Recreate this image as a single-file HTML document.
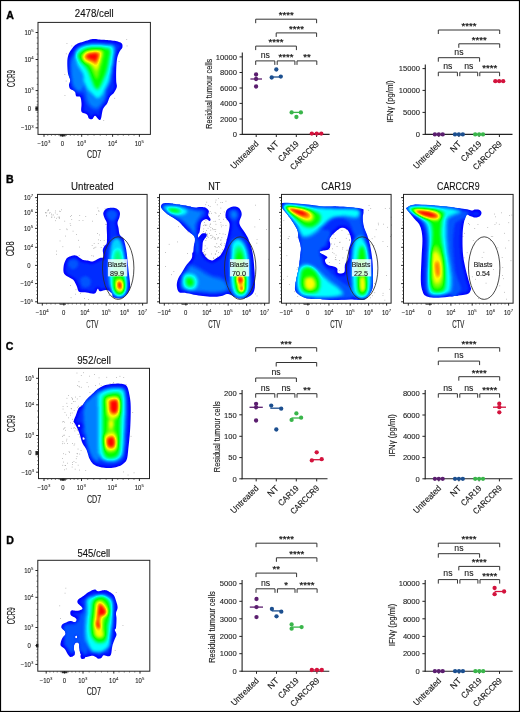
<!DOCTYPE html>
<html><head><meta charset="utf-8"><style>
html,body{margin:0;padding:0;background:#fff;width:520px;height:712px;overflow:hidden;font-family:"Liberation Sans", sans-serif;}
</style></head><body>
<svg width="520" height="712" viewBox="0 0 520 712" style="position:absolute;left:0;top:0;will-change:transform" font-family='"Liberation Sans", sans-serif'>
<rect x="0" y="0" width="520" height="712" fill="#fff"/>
<defs><filter id="fm7" x="-10%" y="-10%" width="120%" height="120%" color-interpolation-filters="sRGB"><feGaussianBlur in="SourceGraphic" stdDeviation="0.7" result="b"/><feComponentTransfer in="b" result="c"><feFuncR type="table" tableValues="0 0 0 1 1"/><feFuncG type="table" tableValues="0 1 1 1 0"/><feFuncB type="table" tableValues="1 1 0 0 0"/><feFuncA type="linear" slope="0" intercept="1"/></feComponentTransfer><feComposite in="c" in2="SourceAlpha" operator="in"/></filter><filter id="fm9" x="-10%" y="-10%" width="120%" height="120%" color-interpolation-filters="sRGB"><feGaussianBlur in="SourceGraphic" stdDeviation="0.9" result="b"/><feComponentTransfer in="b" result="c"><feFuncR type="table" tableValues="0 0 0 1 1"/><feFuncG type="table" tableValues="0 1 1 1 0"/><feFuncB type="table" tableValues="1 1 0 0 0"/><feFuncA type="linear" slope="0" intercept="1"/></feComponentTransfer><feComposite in="c" in2="SourceAlpha" operator="in"/></filter><filter id="fm12" x="-10%" y="-10%" width="120%" height="120%" color-interpolation-filters="sRGB"><feGaussianBlur in="SourceGraphic" stdDeviation="1.2" result="b"/><feComponentTransfer in="b" result="c"><feFuncR type="table" tableValues="0 0 0 1 1"/><feFuncG type="table" tableValues="0 1 1 1 0"/><feFuncB type="table" tableValues="1 1 0 0 0"/><feFuncA type="linear" slope="0" intercept="1"/></feComponentTransfer><feComposite in="c" in2="SourceAlpha" operator="in"/></filter></defs>
<text x="6.2" y="18.8" font-size="10.6" text-anchor="start" fill="#000" font-weight="bold" stroke="#000" stroke-width="0.35" >A</text>
<text x="6" y="182.6" font-size="10.6" text-anchor="start" fill="#000" font-weight="bold" stroke="#000" stroke-width="0.35" >B</text>
<text x="5.8" y="350.2" font-size="10.6" text-anchor="start" fill="#000" font-weight="bold" stroke="#000" stroke-width="0.35" >C</text>
<text x="6.2" y="544" font-size="10.6" text-anchor="start" fill="#000" font-weight="bold" stroke="#000" stroke-width="0.35" >D</text>
<g fill="#8a8a8a"><rect x="83.4" y="48.6" width="0.7" height="0.7"/><rect x="105" y="41.5" width="0.7" height="0.7"/><rect x="97.4" y="67.9" width="0.7" height="0.7"/><rect x="65.8" y="80.7" width="0.7" height="0.7"/><rect x="64.5" y="74" width="0.7" height="0.7"/><rect x="66.6" y="43.2" width="0.7" height="0.7"/><rect x="90" y="109.4" width="0.7" height="0.7"/><rect x="70.2" y="55.1" width="0.7" height="0.7"/><rect x="103.4" y="120.3" width="0.7" height="0.7"/><rect x="100.1" y="70.7" width="0.7" height="0.7"/><rect x="126.4" y="39.2" width="0.7" height="0.7"/><rect x="118.7" y="61.1" width="0.7" height="0.7"/><rect x="71.5" y="45.6" width="0.7" height="0.7"/><rect x="82.4" y="108.5" width="0.7" height="0.7"/><rect x="73.9" y="87.3" width="0.7" height="0.7"/><rect x="104.2" y="68.5" width="0.7" height="0.7"/><rect x="98.2" y="40.7" width="0.7" height="0.7"/><rect x="65.9" y="53.5" width="0.7" height="0.7"/><rect x="106.9" y="73.5" width="0.7" height="0.7"/><rect x="82.7" y="87.7" width="0.7" height="0.7"/><rect x="91.9" y="62" width="0.7" height="0.7"/><rect x="114.4" y="97.9" width="0.7" height="0.7"/><rect x="78.1" y="86.7" width="0.7" height="0.7"/><rect x="96.7" y="113.8" width="0.7" height="0.7"/><rect x="110.1" y="60.9" width="0.7" height="0.7"/><rect x="126.7" y="45.6" width="0.7" height="0.7"/><rect x="89.6" y="103.1" width="0.7" height="0.7"/><rect x="72" y="79" width="0.7" height="0.7"/><rect x="64.6" y="95.1" width="0.7" height="0.7"/><rect x="112.5" y="86.6" width="0.7" height="0.7"/><rect x="59.9" y="211.1" width="0.7" height="0.7"/><rect x="56.8" y="213.9" width="0.7" height="0.7"/><rect x="54.9" y="212.6" width="0.7" height="0.7"/><rect x="59.3" y="217.4" width="0.7" height="0.7"/><rect x="53.1" y="214.6" width="0.7" height="0.7"/><rect x="46" y="215" width="0.7" height="0.7"/><rect x="56" y="217.9" width="0.7" height="0.7"/><rect x="59" y="210.8" width="0.7" height="0.7"/><rect x="51.6" y="214.7" width="0.7" height="0.7"/><rect x="45.4" y="212.6" width="0.7" height="0.7"/><rect x="47.9" y="209.2" width="0.7" height="0.7"/><rect x="46" y="215.7" width="0.7" height="0.7"/><rect x="47.2" y="210.5" width="0.7" height="0.7"/><rect x="51.6" y="216.7" width="0.7" height="0.7"/><rect x="46.4" y="212.5" width="0.7" height="0.7"/><rect x="54.3" y="216.8" width="0.7" height="0.7"/><rect x="58.9" y="216.6" width="0.7" height="0.7"/><rect x="49.7" y="212.2" width="0.7" height="0.7"/><rect x="51.1" y="216.8" width="0.7" height="0.7"/><rect x="61.3" y="209.5" width="0.7" height="0.7"/><rect x="48" y="210.3" width="0.7" height="0.7"/><rect x="49" y="212.8" width="0.7" height="0.7"/><rect x="55" y="210.6" width="0.7" height="0.7"/><rect x="45.1" y="212.2" width="0.7" height="0.7"/><rect x="51.3" y="213.7" width="0.7" height="0.7"/><rect x="97.9" y="243" width="0.7" height="0.7"/><rect x="78.2" y="239.9" width="0.7" height="0.7"/><rect x="85.4" y="216.3" width="0.7" height="0.7"/><rect x="95.5" y="246.8" width="0.7" height="0.7"/><rect x="94.4" y="247.5" width="0.7" height="0.7"/><rect x="72.7" y="230.8" width="0.7" height="0.7"/><rect x="59.7" y="240.6" width="0.7" height="0.7"/><rect x="57.8" y="216.8" width="0.7" height="0.7"/><rect x="64.4" y="220.8" width="0.7" height="0.7"/><rect x="70.3" y="216.2" width="0.7" height="0.7"/><rect x="55" y="220.4" width="0.7" height="0.7"/><rect x="59.6" y="229.3" width="0.7" height="0.7"/><rect x="56.1" y="250.7" width="0.7" height="0.7"/><rect x="82.6" y="220.2" width="0.7" height="0.7"/><rect x="66.4" y="228.6" width="0.7" height="0.7"/><rect x="71.4" y="219.2" width="0.7" height="0.7"/><rect x="93.2" y="255.7" width="0.7" height="0.7"/><rect x="76" y="234.3" width="0.7" height="0.7"/><rect x="58.9" y="218.3" width="0.7" height="0.7"/><rect x="70.4" y="225.1" width="0.7" height="0.7"/><rect x="92.3" y="220.8" width="0.7" height="0.7"/><rect x="56" y="253.9" width="0.7" height="0.7"/><rect x="78.8" y="220.2" width="0.7" height="0.7"/><rect x="79.4" y="215.1" width="0.7" height="0.7"/><rect x="78.8" y="255.1" width="0.7" height="0.7"/><rect x="93.8" y="243.2" width="0.7" height="0.7"/><rect x="66.8" y="229.4" width="0.7" height="0.7"/><rect x="62.5" y="246.4" width="0.7" height="0.7"/><rect x="79" y="246.7" width="0.7" height="0.7"/><rect x="69.8" y="223.4" width="0.7" height="0.7"/><rect x="91.5" y="255.4" width="0.7" height="0.7"/><rect x="93.4" y="247.9" width="0.7" height="0.7"/><rect x="91.8" y="245.1" width="0.7" height="0.7"/><rect x="65.2" y="235.7" width="0.7" height="0.7"/><rect x="71" y="215.2" width="0.7" height="0.7"/><rect x="96.3" y="214" width="0.7" height="0.7"/><rect x="99.1" y="234.6" width="0.7" height="0.7"/><rect x="107.5" y="222.4" width="0.7" height="0.7"/><rect x="107.2" y="249.4" width="0.7" height="0.7"/><rect x="107.5" y="218.2" width="0.7" height="0.7"/><rect x="98.6" y="211.3" width="0.7" height="0.7"/><rect x="98.4" y="210.2" width="0.7" height="0.7"/><rect x="103.5" y="245" width="0.7" height="0.7"/><rect x="106.1" y="224" width="0.7" height="0.7"/><rect x="103.8" y="240" width="0.7" height="0.7"/><rect x="97" y="233" width="0.7" height="0.7"/><rect x="106.9" y="239.1" width="0.7" height="0.7"/><rect x="105" y="223.9" width="0.7" height="0.7"/><rect x="98.1" y="239.5" width="0.7" height="0.7"/><rect x="100" y="240" width="0.7" height="0.7"/><rect x="107.7" y="219.8" width="0.7" height="0.7"/><rect x="100.8" y="247.3" width="0.7" height="0.7"/><rect x="104.7" y="208.5" width="0.7" height="0.7"/><rect x="97.5" y="207.6" width="0.7" height="0.7"/><rect x="106.9" y="240.3" width="0.7" height="0.7"/><rect x="70.7" y="297.4" width="0.7" height="0.7"/><rect x="109.1" y="294.9" width="0.7" height="0.7"/><rect x="80.1" y="293.2" width="0.7" height="0.7"/><rect x="70" y="285.2" width="0.7" height="0.7"/><rect x="108.7" y="294.7" width="0.7" height="0.7"/><rect x="88.2" y="299" width="0.7" height="0.7"/><rect x="84" y="298.1" width="0.7" height="0.7"/><rect x="102" y="288.2" width="0.7" height="0.7"/><rect x="75.6" y="289.4" width="0.7" height="0.7"/><rect x="75.1" y="293.8" width="0.7" height="0.7"/><rect x="209.2" y="233" width="0.7" height="0.7"/><rect x="206.1" y="257.5" width="0.7" height="0.7"/><rect x="211.5" y="234.9" width="0.7" height="0.7"/><rect x="217" y="257.2" width="0.7" height="0.7"/><rect x="213.1" y="257.9" width="0.7" height="0.7"/><rect x="215" y="238.6" width="0.7" height="0.7"/><rect x="215.6" y="212.9" width="0.7" height="0.7"/><rect x="213.6" y="221.2" width="0.7" height="0.7"/><rect x="203.1" y="252" width="0.7" height="0.7"/><rect x="207.1" y="235.7" width="0.7" height="0.7"/><rect x="220.4" y="239.8" width="0.7" height="0.7"/><rect x="210.8" y="237.9" width="0.7" height="0.7"/><rect x="216.3" y="251.2" width="0.7" height="0.7"/><rect x="205.5" y="240" width="0.7" height="0.7"/><rect x="209" y="225.8" width="0.7" height="0.7"/><rect x="221.5" y="237.4" width="0.7" height="0.7"/><rect x="216.5" y="250" width="0.7" height="0.7"/><rect x="224.9" y="234.2" width="0.7" height="0.7"/><rect x="217.7" y="237.3" width="0.7" height="0.7"/><rect x="215.3" y="246.6" width="0.7" height="0.7"/><rect x="213.9" y="238.7" width="0.7" height="0.7"/><rect x="214.5" y="259.1" width="0.7" height="0.7"/><rect x="219.8" y="255.8" width="0.7" height="0.7"/><rect x="225.6" y="225" width="0.7" height="0.7"/><rect x="216.4" y="259.2" width="0.7" height="0.7"/><rect x="223.2" y="218.9" width="0.7" height="0.7"/><rect x="205.9" y="234.1" width="0.7" height="0.7"/><rect x="204.7" y="224" width="0.7" height="0.7"/><rect x="204.8" y="245.5" width="0.7" height="0.7"/><rect x="221.8" y="256.9" width="0.7" height="0.7"/><rect x="206.7" y="247.8" width="0.7" height="0.7"/><rect x="218.8" y="219.1" width="0.7" height="0.7"/><rect x="224.2" y="260.4" width="0.7" height="0.7"/><rect x="208.3" y="259.6" width="0.7" height="0.7"/><rect x="212.6" y="236.4" width="0.7" height="0.7"/><rect x="226.8" y="253.6" width="0.7" height="0.7"/><rect x="206.9" y="233.6" width="0.7" height="0.7"/><rect x="215.4" y="229" width="0.7" height="0.7"/><rect x="207.7" y="227.9" width="0.7" height="0.7"/><rect x="220.3" y="213" width="0.7" height="0.7"/><rect x="216.3" y="234" width="0.7" height="0.7"/><rect x="203.4" y="228.6" width="0.7" height="0.7"/><rect x="218" y="237.6" width="0.7" height="0.7"/><rect x="204.5" y="261.3" width="0.7" height="0.7"/><rect x="221.9" y="260.6" width="0.7" height="0.7"/><rect x="205.5" y="225.3" width="0.7" height="0.7"/><rect x="204" y="250.9" width="0.7" height="0.7"/><rect x="209.5" y="218.5" width="0.7" height="0.7"/><rect x="213.1" y="257.6" width="0.7" height="0.7"/><rect x="222.7" y="224.9" width="0.7" height="0.7"/><rect x="206.6" y="258" width="0.7" height="0.7"/><rect x="216.7" y="247" width="0.7" height="0.7"/><rect x="205.1" y="214.9" width="0.7" height="0.7"/><rect x="219.5" y="233.3" width="0.7" height="0.7"/><rect x="204.7" y="258.9" width="0.7" height="0.7"/><rect x="218.2" y="252.1" width="0.7" height="0.7"/><rect x="205" y="254.8" width="0.7" height="0.7"/><rect x="204.6" y="255.1" width="0.7" height="0.7"/><rect x="213.9" y="229" width="0.7" height="0.7"/><rect x="216.3" y="258.3" width="0.7" height="0.7"/><rect x="209.4" y="218.5" width="0.7" height="0.7"/><rect x="215.6" y="223.9" width="0.7" height="0.7"/><rect x="205.6" y="220.1" width="0.7" height="0.7"/><rect x="204.2" y="222.1" width="0.7" height="0.7"/><rect x="210.5" y="227.3" width="0.7" height="0.7"/><rect x="221.2" y="226.5" width="0.7" height="0.7"/><rect x="215" y="220.9" width="0.7" height="0.7"/><rect x="211.3" y="212.9" width="0.7" height="0.7"/><rect x="209" y="212.8" width="0.7" height="0.7"/><rect x="220.6" y="239.6" width="0.7" height="0.7"/><rect x="207.5" y="235.7" width="0.7" height="0.7"/><rect x="225.4" y="217.3" width="0.7" height="0.7"/><rect x="222.7" y="233.6" width="0.7" height="0.7"/><rect x="214.9" y="253.7" width="0.7" height="0.7"/><rect x="212.4" y="237.3" width="0.7" height="0.7"/><rect x="219.5" y="261.1" width="0.7" height="0.7"/><rect x="211.2" y="253.6" width="0.7" height="0.7"/><rect x="220" y="243.8" width="0.7" height="0.7"/><rect x="212.7" y="229.4" width="0.7" height="0.7"/><rect x="204.3" y="218.5" width="0.7" height="0.7"/><rect x="204.7" y="249" width="0.7" height="0.7"/><rect x="209.1" y="220.2" width="0.7" height="0.7"/><rect x="205" y="254.1" width="0.7" height="0.7"/><rect x="223.9" y="245.5" width="0.7" height="0.7"/><rect x="209.8" y="224.1" width="0.7" height="0.7"/><rect x="210" y="235" width="0.7" height="0.7"/><rect x="206.8" y="234.3" width="0.7" height="0.7"/><rect x="209.3" y="260.1" width="0.7" height="0.7"/><rect x="226.3" y="239.4" width="0.7" height="0.7"/><rect x="208.9" y="260.3" width="0.7" height="0.7"/><rect x="210.4" y="229.8" width="0.7" height="0.7"/><rect x="203" y="231.1" width="0.7" height="0.7"/><rect x="214.4" y="237.1" width="0.7" height="0.7"/><rect x="207.8" y="237.2" width="0.7" height="0.7"/><rect x="203.1" y="225.2" width="0.7" height="0.7"/><rect x="205.2" y="232" width="0.7" height="0.7"/><rect x="204" y="213.1" width="0.7" height="0.7"/><rect x="210.3" y="223.6" width="0.7" height="0.7"/><rect x="217.1" y="238.5" width="0.7" height="0.7"/><rect x="221" y="244.9" width="0.7" height="0.7"/><rect x="220.2" y="256" width="0.7" height="0.7"/><rect x="212.3" y="228.3" width="0.7" height="0.7"/><rect x="226.6" y="219.5" width="0.7" height="0.7"/><rect x="220.4" y="244.2" width="0.7" height="0.7"/><rect x="204.1" y="253.8" width="0.7" height="0.7"/><rect x="224.4" y="243.4" width="0.7" height="0.7"/><rect x="220.6" y="252.6" width="0.7" height="0.7"/><rect x="206.3" y="238.2" width="0.7" height="0.7"/><rect x="215.1" y="253.7" width="0.7" height="0.7"/><rect x="222.3" y="253.3" width="0.7" height="0.7"/><rect x="217" y="256.6" width="0.7" height="0.7"/><rect x="219.4" y="246.7" width="0.7" height="0.7"/><rect x="208.5" y="213.6" width="0.7" height="0.7"/><rect x="206.2" y="230" width="0.7" height="0.7"/><rect x="205.5" y="253.8" width="0.7" height="0.7"/><rect x="216.4" y="243.4" width="0.7" height="0.7"/><rect x="218" y="246" width="0.7" height="0.7"/><rect x="214.7" y="212.2" width="0.7" height="0.7"/><rect x="222.1" y="249.4" width="0.7" height="0.7"/><rect x="215.1" y="238.8" width="0.7" height="0.7"/><rect x="218.8" y="215.3" width="0.7" height="0.7"/><rect x="220.7" y="224.6" width="0.7" height="0.7"/><rect x="204.8" y="225.3" width="0.7" height="0.7"/><rect x="220.5" y="222.3" width="0.7" height="0.7"/><rect x="220.8" y="260.8" width="0.7" height="0.7"/><rect x="214.9" y="231.1" width="0.7" height="0.7"/><rect x="214.5" y="246.2" width="0.7" height="0.7"/><rect x="221.4" y="242.8" width="0.7" height="0.7"/><rect x="218.4" y="215.9" width="0.7" height="0.7"/><rect x="206.5" y="224.7" width="0.7" height="0.7"/><rect x="222.1" y="202.3" width="0.7" height="0.7"/><rect x="218.1" y="198.2" width="0.7" height="0.7"/><rect x="206.4" y="201.8" width="0.7" height="0.7"/><rect x="220.5" y="207.7" width="0.7" height="0.7"/><rect x="220.5" y="202.1" width="0.7" height="0.7"/><rect x="216.9" y="204.5" width="0.7" height="0.7"/><rect x="215.7" y="199.7" width="0.7" height="0.7"/><rect x="225.6" y="200.8" width="0.7" height="0.7"/><rect x="227.5" y="211.1" width="0.7" height="0.7"/><rect x="205.4" y="204.4" width="0.7" height="0.7"/><rect x="223.9" y="211.6" width="0.7" height="0.7"/><rect x="215.3" y="201.8" width="0.7" height="0.7"/><rect x="209.8" y="211.2" width="0.7" height="0.7"/><rect x="209.8" y="206.1" width="0.7" height="0.7"/><rect x="208.3" y="205.3" width="0.7" height="0.7"/><rect x="190.7" y="232.3" width="0.7" height="0.7"/><rect x="187.1" y="253" width="0.7" height="0.7"/><rect x="188.9" y="263.7" width="0.7" height="0.7"/><rect x="171.2" y="274.4" width="0.7" height="0.7"/><rect x="178.1" y="226.4" width="0.7" height="0.7"/><rect x="165.1" y="252" width="0.7" height="0.7"/><rect x="177.2" y="241.6" width="0.7" height="0.7"/><rect x="168.8" y="243.9" width="0.7" height="0.7"/><rect x="173.5" y="271.2" width="0.7" height="0.7"/><rect x="165" y="266.3" width="0.7" height="0.7"/><rect x="187.7" y="231.6" width="0.7" height="0.7"/><rect x="190" y="264.2" width="0.7" height="0.7"/><rect x="266.2" y="229" width="0.7" height="0.7"/><rect x="256.7" y="239.3" width="0.7" height="0.7"/><rect x="268" y="258.9" width="0.7" height="0.7"/><rect x="256.5" y="242.8" width="0.7" height="0.7"/><rect x="255" y="204.8" width="0.7" height="0.7"/><rect x="251.8" y="283.5" width="0.7" height="0.7"/><rect x="255.1" y="293.6" width="0.7" height="0.7"/><rect x="254.5" y="226.6" width="0.7" height="0.7"/><rect x="259.2" y="219" width="0.7" height="0.7"/><rect x="256.7" y="295.6" width="0.7" height="0.7"/><rect x="346.5" y="265.4" width="0.7" height="0.7"/><rect x="338.9" y="270" width="0.7" height="0.7"/><rect x="348.2" y="253.3" width="0.7" height="0.7"/><rect x="341.6" y="230.3" width="0.7" height="0.7"/><rect x="342" y="248.7" width="0.7" height="0.7"/><rect x="342.6" y="257.6" width="0.7" height="0.7"/><rect x="328.6" y="230.3" width="0.7" height="0.7"/><rect x="347.8" y="233.9" width="0.7" height="0.7"/><rect x="334.2" y="243.8" width="0.7" height="0.7"/><rect x="328.9" y="262" width="0.7" height="0.7"/><rect x="349.3" y="240" width="0.7" height="0.7"/><rect x="339.7" y="241.8" width="0.7" height="0.7"/><rect x="336.7" y="246.1" width="0.7" height="0.7"/><rect x="325" y="235.4" width="0.7" height="0.7"/><rect x="326.2" y="269.7" width="0.7" height="0.7"/><rect x="334.9" y="238.1" width="0.7" height="0.7"/><rect x="347.2" y="273.8" width="0.7" height="0.7"/><rect x="333.5" y="234.4" width="0.7" height="0.7"/><rect x="325.8" y="232.2" width="0.7" height="0.7"/><rect x="330.3" y="232.2" width="0.7" height="0.7"/><rect x="327.2" y="239.9" width="0.7" height="0.7"/><rect x="337.1" y="268.8" width="0.7" height="0.7"/><rect x="342.5" y="247" width="0.7" height="0.7"/><rect x="332.4" y="252.1" width="0.7" height="0.7"/><rect x="331.3" y="243.6" width="0.7" height="0.7"/><rect x="321.9" y="240.8" width="0.7" height="0.7"/><rect x="349" y="233.8" width="0.7" height="0.7"/><rect x="335.1" y="257" width="0.7" height="0.7"/><rect x="345.9" y="237.9" width="0.7" height="0.7"/><rect x="328.1" y="239.4" width="0.7" height="0.7"/><rect x="332" y="248.5" width="0.7" height="0.7"/><rect x="348.6" y="267" width="0.7" height="0.7"/><rect x="346.2" y="229" width="0.7" height="0.7"/><rect x="321" y="260.6" width="0.7" height="0.7"/><rect x="346.9" y="249.8" width="0.7" height="0.7"/><rect x="337.6" y="228" width="0.7" height="0.7"/><rect x="331.7" y="270.6" width="0.7" height="0.7"/><rect x="344.8" y="267.4" width="0.7" height="0.7"/><rect x="349.2" y="239.4" width="0.7" height="0.7"/><rect x="323.3" y="235.1" width="0.7" height="0.7"/><rect x="335.7" y="259.4" width="0.7" height="0.7"/><rect x="348.2" y="261.2" width="0.7" height="0.7"/><rect x="339.4" y="263.2" width="0.7" height="0.7"/><rect x="333.7" y="253.4" width="0.7" height="0.7"/><rect x="321.2" y="264" width="0.7" height="0.7"/><rect x="327" y="270.3" width="0.7" height="0.7"/><rect x="339.4" y="242" width="0.7" height="0.7"/><rect x="323.8" y="239.6" width="0.7" height="0.7"/><rect x="339.1" y="260.1" width="0.7" height="0.7"/><rect x="323.4" y="231.2" width="0.7" height="0.7"/><rect x="335.7" y="254.8" width="0.7" height="0.7"/><rect x="331.6" y="238.3" width="0.7" height="0.7"/><rect x="338" y="228.5" width="0.7" height="0.7"/><rect x="329" y="249.2" width="0.7" height="0.7"/><rect x="348.8" y="257.7" width="0.7" height="0.7"/><rect x="346.5" y="249.9" width="0.7" height="0.7"/><rect x="327" y="239.4" width="0.7" height="0.7"/><rect x="348.8" y="260.4" width="0.7" height="0.7"/><rect x="329.2" y="229" width="0.7" height="0.7"/><rect x="334.9" y="259" width="0.7" height="0.7"/><rect x="375.8" y="229.4" width="0.7" height="0.7"/><rect x="382.7" y="292.9" width="0.7" height="0.7"/><rect x="370.4" y="208.2" width="0.7" height="0.7"/><rect x="373.5" y="245" width="0.7" height="0.7"/><rect x="383.1" y="223.8" width="0.7" height="0.7"/><rect x="386.3" y="275.2" width="0.7" height="0.7"/><rect x="378.1" y="224.5" width="0.7" height="0.7"/><rect x="391.2" y="234.6" width="0.7" height="0.7"/><rect x="387" y="226.9" width="0.7" height="0.7"/><rect x="370.2" y="277.2" width="0.7" height="0.7"/><rect x="372.3" y="295.4" width="0.7" height="0.7"/><rect x="377.9" y="222.8" width="0.7" height="0.7"/><rect x="370.3" y="244.6" width="0.7" height="0.7"/><rect x="382.6" y="295.1" width="0.7" height="0.7"/><rect x="368.1" y="242.4" width="0.7" height="0.7"/><rect x="370" y="297.5" width="0.7" height="0.7"/><rect x="368" y="209.9" width="0.7" height="0.7"/><rect x="365.7" y="242.4" width="0.7" height="0.7"/><rect x="389.1" y="288.9" width="0.7" height="0.7"/><rect x="384.5" y="299.8" width="0.7" height="0.7"/><rect x="390.1" y="236.3" width="0.7" height="0.7"/><rect x="369.2" y="293.9" width="0.7" height="0.7"/><rect x="384.9" y="208" width="0.7" height="0.7"/><rect x="382.6" y="241" width="0.7" height="0.7"/><rect x="374.5" y="236.5" width="0.7" height="0.7"/><rect x="368.7" y="205.3" width="0.7" height="0.7"/><rect x="371.8" y="238.4" width="0.7" height="0.7"/><rect x="390.8" y="216.8" width="0.7" height="0.7"/><rect x="391" y="224.7" width="0.7" height="0.7"/><rect x="374" y="283" width="0.7" height="0.7"/><rect x="387" y="246.1" width="0.7" height="0.7"/><rect x="365.4" y="250" width="0.7" height="0.7"/><rect x="374.4" y="292.4" width="0.7" height="0.7"/><rect x="369.4" y="239.6" width="0.7" height="0.7"/><rect x="389.1" y="207.9" width="0.7" height="0.7"/><rect x="289.2" y="284" width="0.7" height="0.7"/><rect x="294.5" y="218.5" width="0.7" height="0.7"/><rect x="283.5" y="220.3" width="0.7" height="0.7"/><rect x="296.8" y="236.8" width="0.7" height="0.7"/><rect x="294.2" y="291.4" width="0.7" height="0.7"/><rect x="288.1" y="238.1" width="0.7" height="0.7"/><rect x="297.4" y="267.4" width="0.7" height="0.7"/><rect x="286.9" y="275.9" width="0.7" height="0.7"/><rect x="287.7" y="238.4" width="0.7" height="0.7"/><rect x="283.1" y="279.2" width="0.7" height="0.7"/><rect x="296.7" y="268.9" width="0.7" height="0.7"/><rect x="297.1" y="217.1" width="0.7" height="0.7"/><rect x="286.5" y="255.4" width="0.7" height="0.7"/><rect x="297.4" y="296.1" width="0.7" height="0.7"/><rect x="288.8" y="236.3" width="0.7" height="0.7"/><rect x="483.5" y="251.9" width="0.7" height="0.7"/><rect x="508.4" y="222.4" width="0.7" height="0.7"/><rect x="502.1" y="275.2" width="0.7" height="0.7"/><rect x="503.1" y="278.4" width="0.7" height="0.7"/><rect x="492.4" y="236.1" width="0.7" height="0.7"/><rect x="478" y="239.4" width="0.7" height="0.7"/><rect x="501.1" y="212.5" width="0.7" height="0.7"/><rect x="471.9" y="276.5" width="0.7" height="0.7"/><rect x="474.4" y="211.1" width="0.7" height="0.7"/><rect x="463.7" y="257.5" width="0.7" height="0.7"/><rect x="478.3" y="298.1" width="0.7" height="0.7"/><rect x="506.2" y="298.8" width="0.7" height="0.7"/><rect x="475.2" y="213" width="0.7" height="0.7"/><rect x="466.8" y="252.4" width="0.7" height="0.7"/><rect x="497.5" y="247.5" width="0.7" height="0.7"/><rect x="473.7" y="244.6" width="0.7" height="0.7"/><rect x="493" y="269" width="0.7" height="0.7"/><rect x="499.4" y="285.5" width="0.7" height="0.7"/><rect x="495.2" y="216.5" width="0.7" height="0.7"/><rect x="504" y="232.9" width="0.7" height="0.7"/><rect x="490.3" y="240.4" width="0.7" height="0.7"/><rect x="498.9" y="223.9" width="0.7" height="0.7"/><rect x="474.4" y="228.3" width="0.7" height="0.7"/><rect x="469.7" y="289" width="0.7" height="0.7"/><rect x="490.9" y="236" width="0.7" height="0.7"/><rect x="481.8" y="299.3" width="0.7" height="0.7"/><rect x="487.4" y="227" width="0.7" height="0.7"/><rect x="502.4" y="267.1" width="0.7" height="0.7"/><rect x="511.5" y="214.7" width="0.7" height="0.7"/><rect x="485.7" y="282.8" width="0.7" height="0.7"/><rect x="504" y="291.9" width="0.7" height="0.7"/><rect x="464" y="232.9" width="0.7" height="0.7"/><rect x="468" y="223" width="0.7" height="0.7"/><rect x="510.6" y="260.4" width="0.7" height="0.7"/><rect x="508.5" y="240.4" width="0.7" height="0.7"/><rect x="505.3" y="247.7" width="0.7" height="0.7"/><rect x="475" y="278.9" width="0.7" height="0.7"/><rect x="509.3" y="215" width="0.7" height="0.7"/><rect x="491.8" y="263.9" width="0.7" height="0.7"/><rect x="472.9" y="240" width="0.7" height="0.7"/><rect x="469.1" y="224.4" width="0.7" height="0.7"/><rect x="474.7" y="261.9" width="0.7" height="0.7"/><rect x="494.6" y="224.3" width="0.7" height="0.7"/><rect x="462.6" y="236.1" width="0.7" height="0.7"/><rect x="495.9" y="222.6" width="0.7" height="0.7"/><rect x="477.6" y="224.3" width="0.7" height="0.7"/><rect x="501.8" y="257.1" width="0.7" height="0.7"/><rect x="465.2" y="214.6" width="0.7" height="0.7"/><rect x="481.8" y="257.3" width="0.7" height="0.7"/><rect x="494" y="213.7" width="0.7" height="0.7"/><rect x="74.4" y="443.6" width="0.7" height="0.7"/><rect x="93.1" y="401.2" width="0.7" height="0.7"/><rect x="85.4" y="470.2" width="0.7" height="0.7"/><rect x="85.7" y="430.4" width="0.7" height="0.7"/><rect x="89.1" y="414.9" width="0.7" height="0.7"/><rect x="127.7" y="474.7" width="0.7" height="0.7"/><rect x="89.6" y="392.3" width="0.7" height="0.7"/><rect x="117.3" y="393" width="0.7" height="0.7"/><rect x="62.4" y="464.9" width="0.7" height="0.7"/><rect x="94.2" y="456.5" width="0.7" height="0.7"/><rect x="92.9" y="462.9" width="0.7" height="0.7"/><rect x="97" y="388.7" width="0.7" height="0.7"/><rect x="63.1" y="428.8" width="0.7" height="0.7"/><rect x="110.7" y="465.7" width="0.7" height="0.7"/><rect x="68.8" y="436.1" width="0.7" height="0.7"/><rect x="90.2" y="424" width="0.7" height="0.7"/><rect x="73.1" y="401.2" width="0.7" height="0.7"/><rect x="101.6" y="467.3" width="0.7" height="0.7"/><rect x="70.3" y="422.5" width="0.7" height="0.7"/><rect x="123.2" y="471.6" width="0.7" height="0.7"/><rect x="77" y="385" width="0.7" height="0.7"/><rect x="133.7" y="472.5" width="0.7" height="0.7"/><rect x="98.7" y="377.5" width="0.7" height="0.7"/><rect x="132.4" y="412" width="0.7" height="0.7"/><rect x="130.7" y="435.9" width="0.7" height="0.7"/><rect x="124.7" y="388.5" width="0.7" height="0.7"/><rect x="121.7" y="394.9" width="0.7" height="0.7"/><rect x="92.7" y="459.2" width="0.7" height="0.7"/><rect x="125" y="390.8" width="0.7" height="0.7"/><rect x="78.6" y="413.2" width="0.7" height="0.7"/><rect x="101.4" y="411.5" width="0.7" height="0.7"/><rect x="71.4" y="397.4" width="0.7" height="0.7"/><rect x="117.1" y="464.4" width="0.7" height="0.7"/><rect x="65.1" y="429.9" width="0.7" height="0.7"/><rect x="119.6" y="375.9" width="0.7" height="0.7"/><rect x="125.7" y="384.1" width="0.7" height="0.7"/><rect x="107.6" y="428.7" width="0.7" height="0.7"/><rect x="109.7" y="403.5" width="0.7" height="0.7"/><rect x="93.9" y="432" width="0.7" height="0.7"/><rect x="94.4" y="439.9" width="0.7" height="0.7"/><rect x="70.9" y="427.9" width="0.7" height="0.7"/><rect x="62.5" y="441.4" width="0.7" height="0.7"/><rect x="71.8" y="412.6" width="0.7" height="0.7"/><rect x="77.3" y="453.5" width="0.7" height="0.7"/><rect x="71.2" y="408.5" width="0.7" height="0.7"/><rect x="71.5" y="403" width="0.7" height="0.7"/><rect x="64.6" y="427.3" width="0.7" height="0.7"/><rect x="63.8" y="428.1" width="0.7" height="0.7"/><rect x="72.2" y="398.1" width="0.7" height="0.7"/><rect x="74.7" y="401.2" width="0.7" height="0.7"/><rect x="76.7" y="453.3" width="0.7" height="0.7"/><rect x="72.2" y="399.1" width="0.7" height="0.7"/><rect x="72.1" y="423.3" width="0.7" height="0.7"/><rect x="81" y="405.2" width="0.7" height="0.7"/><rect x="79.1" y="469.7" width="0.7" height="0.7"/><rect x="76.6" y="456.1" width="0.7" height="0.7"/><rect x="65.9" y="468.6" width="0.7" height="0.7"/><rect x="71.8" y="466.7" width="0.7" height="0.7"/><rect x="80.3" y="407.4" width="0.7" height="0.7"/><rect x="77.8" y="464.8" width="0.7" height="0.7"/><rect x="63.3" y="421.3" width="0.7" height="0.7"/><rect x="77.1" y="406.9" width="0.7" height="0.7"/><rect x="79.9" y="415.6" width="0.7" height="0.7"/><rect x="78.3" y="405.8" width="0.7" height="0.7"/><rect x="72" y="464" width="0.7" height="0.7"/><rect x="66.2" y="414.7" width="0.7" height="0.7"/><rect x="72.1" y="418.9" width="0.7" height="0.7"/><rect x="62.7" y="408.7" width="0.7" height="0.7"/><rect x="65.2" y="465.2" width="0.7" height="0.7"/><rect x="75.6" y="462.2" width="0.7" height="0.7"/><rect x="65.4" y="453.9" width="0.7" height="0.7"/><rect x="64.3" y="434.8" width="0.7" height="0.7"/><rect x="74.7" y="422" width="0.7" height="0.7"/><rect x="79.5" y="436.6" width="0.7" height="0.7"/><rect x="73.6" y="461.2" width="0.7" height="0.7"/><rect x="64.1" y="469.5" width="0.7" height="0.7"/><rect x="74.6" y="424.6" width="0.7" height="0.7"/><rect x="78" y="414.9" width="0.7" height="0.7"/><rect x="81.8" y="438.3" width="0.7" height="0.7"/><rect x="69.2" y="452.3" width="0.7" height="0.7"/><rect x="70.8" y="408.3" width="0.7" height="0.7"/><rect x="76.9" y="398.6" width="0.7" height="0.7"/><rect x="78.4" y="414" width="0.7" height="0.7"/><rect x="74.8" y="468.8" width="0.7" height="0.7"/><rect x="73.7" y="444.8" width="0.7" height="0.7"/><rect x="68.3" y="395.1" width="0.7" height="0.7"/><rect x="62.7" y="406.2" width="0.7" height="0.7"/><rect x="74.3" y="427.4" width="0.7" height="0.7"/><rect x="72.3" y="462.2" width="0.7" height="0.7"/><rect x="64.6" y="412" width="0.7" height="0.7"/><rect x="75.1" y="396.7" width="0.7" height="0.7"/><rect x="62.1" y="421.6" width="0.7" height="0.7"/><rect x="64.1" y="421.8" width="0.7" height="0.7"/><rect x="66.5" y="438.8" width="0.7" height="0.7"/><rect x="73.8" y="410.3" width="0.7" height="0.7"/><rect x="74.5" y="430.6" width="0.7" height="0.7"/><rect x="64.7" y="465.2" width="0.7" height="0.7"/><rect x="66.9" y="406.2" width="0.7" height="0.7"/><rect x="63.9" y="442.9" width="0.7" height="0.7"/><rect x="79.4" y="453.7" width="0.7" height="0.7"/><rect x="70" y="414.8" width="0.7" height="0.7"/><rect x="62.2" y="443.4" width="0.7" height="0.7"/><rect x="73.2" y="421.3" width="0.7" height="0.7"/><rect x="74.9" y="428.3" width="0.7" height="0.7"/><rect x="80.7" y="450" width="0.7" height="0.7"/><rect x="67" y="462.8" width="0.7" height="0.7"/><rect x="62.9" y="434.9" width="0.7" height="0.7"/><rect x="70.1" y="412.8" width="0.7" height="0.7"/><rect x="63.2" y="453.4" width="0.7" height="0.7"/><rect x="62.2" y="436.3" width="0.7" height="0.7"/><rect x="80.8" y="405.7" width="0.7" height="0.7"/><rect x="66" y="440.6" width="0.7" height="0.7"/><rect x="72.1" y="443.1" width="0.7" height="0.7"/><rect x="78.3" y="408.1" width="0.7" height="0.7"/><rect x="68.2" y="417.5" width="0.7" height="0.7"/><rect x="63" y="461.7" width="0.7" height="0.7"/><rect x="77.7" y="448.7" width="0.7" height="0.7"/><rect x="62.1" y="458.3" width="0.7" height="0.7"/><rect x="76.9" y="429.9" width="0.7" height="0.7"/><rect x="76.8" y="428.9" width="0.7" height="0.7"/><rect x="66.5" y="402.9" width="0.7" height="0.7"/><rect x="66.6" y="397.9" width="0.7" height="0.7"/><rect x="68.7" y="451.2" width="0.7" height="0.7"/><rect x="75.9" y="458.4" width="0.7" height="0.7"/><rect x="76.2" y="414.9" width="0.7" height="0.7"/><rect x="73.1" y="427.7" width="0.7" height="0.7"/><rect x="77.8" y="434.2" width="0.7" height="0.7"/><rect x="67.3" y="443.2" width="0.7" height="0.7"/><rect x="81.3" y="411.3" width="0.7" height="0.7"/><rect x="79.6" y="396.1" width="0.7" height="0.7"/><rect x="89.3" y="375.8" width="0.7" height="0.7"/><rect x="115.9" y="387.1" width="0.7" height="0.7"/><rect x="116" y="377.2" width="0.7" height="0.7"/><rect x="123.4" y="377.3" width="0.7" height="0.7"/><rect x="88.2" y="386.5" width="0.7" height="0.7"/><rect x="109.7" y="383.1" width="0.7" height="0.7"/><rect x="111.6" y="387.7" width="0.7" height="0.7"/><rect x="100.8" y="385.4" width="0.7" height="0.7"/><rect x="113.4" y="385.7" width="0.7" height="0.7"/><rect x="99" y="383.6" width="0.7" height="0.7"/><rect x="106.4" y="376.9" width="0.7" height="0.7"/><rect x="86.7" y="382" width="0.7" height="0.7"/><rect x="79.3" y="386.6" width="0.7" height="0.7"/><rect x="83" y="372.4" width="0.7" height="0.7"/><rect x="80.9" y="386.9" width="0.7" height="0.7"/><rect x="94" y="374.3" width="0.7" height="0.7"/><rect x="76.6" y="372.7" width="0.7" height="0.7"/><rect x="113.1" y="382.1" width="0.7" height="0.7"/><rect x="113.3" y="383.8" width="0.7" height="0.7"/><rect x="78.6" y="381.4" width="0.7" height="0.7"/><rect x="95" y="385.1" width="0.7" height="0.7"/><rect x="120.1" y="386.3" width="0.7" height="0.7"/><rect x="78.6" y="385.9" width="0.7" height="0.7"/><rect x="125.3" y="387.1" width="0.7" height="0.7"/><rect x="80.9" y="375.3" width="0.7" height="0.7"/><rect x="65.5" y="587.8" width="0.7" height="0.7"/><rect x="114.8" y="650" width="0.7" height="0.7"/><rect x="100.5" y="651" width="0.7" height="0.7"/><rect x="100.3" y="608" width="0.7" height="0.7"/><rect x="64.7" y="592.8" width="0.7" height="0.7"/><rect x="108.7" y="601.4" width="0.7" height="0.7"/><rect x="79.4" y="618.9" width="0.7" height="0.7"/><rect x="59.4" y="605.5" width="0.7" height="0.7"/><rect x="76.9" y="642.3" width="0.7" height="0.7"/><rect x="82.7" y="610.7" width="0.7" height="0.7"/><rect x="122.6" y="625.3" width="0.7" height="0.7"/><rect x="115" y="634.5" width="0.7" height="0.7"/><rect x="60.1" y="618" width="0.7" height="0.7"/><rect x="87.2" y="646.8" width="0.7" height="0.7"/><rect x="81.2" y="641.4" width="0.7" height="0.7"/><rect x="94" y="602.3" width="0.7" height="0.7"/><rect x="115.8" y="592.3" width="0.7" height="0.7"/><rect x="112.9" y="598.6" width="0.7" height="0.7"/></g><g filter="url(#fm9)"><path d="M68.5 54.6 68.15 55.63 67.87 56.64 67.65 57.69 67.49 58.81 67.37 60.07 67.3 61.5 67.28 63.22 67.3 65.19 67.38 67.3 67.51 69.41 67.68 71.38 67.9 73.1 68.23 74.55 68.67 75.83 69.16 76.99 69.63 78.04 70 79.04 70.2 80 70.18 80.9 69.97 81.72 69.68 82.47 69.36 83.18 69.11 83.88 69 84.6 69.01 85.34 69.06 86.09 69.18 86.82 69.38 87.53 69.68 88.19 70.1 88.8 70.71 89.31 71.52 89.74 72.43 90.12 73.34 90.51 74.17 90.95 74.8 91.5 75.19 92.21 75.41 93.06 75.54 93.97 75.66 94.85 75.85 95.62 76.2 96.2 76.75 96.49 77.44 96.54 78.21 96.48 78.97 96.45 79.66 96.58 80.2 97 80.59 97.75 80.88 98.71 81.1 99.84 81.26 101.07 81.39 102.35 81.5 103.6 81.51 104.93 81.4 106.39 81.24 107.89 81.15 109.34 81.2 110.65 81.5 111.7 82.13 112.45 83.03 112.95 84.08 113.3 85.15 113.6 86.13 113.93 86.9 114.4 87.41 115.04 87.77 115.79 88.03 116.58 88.26 117.34 88.53 118 88.9 118.5 89.39 118.85 89.96 119.1 90.56 119.26 91.17 119.32 91.76 119.27 92.3 119.1 92.78 118.69 93.2 118.02 93.61 117.24 94.03 116.5 94.48 115.97 95 115.8 95.61 116.11 96.31 116.79 97.04 117.67 97.77 118.59 98.43 119.36 99 119.8 99.45 119.98 99.81 120.06 100.12 119.99 100.41 119.74 100.69 119.25 101 118.5 101.31 117.34 101.59 115.79 101.87 114.01 102.18 112.17 102.55 110.44 103 109 103.58 107.88 104.26 106.94 105.01 106.12 105.76 105.34 106.47 104.53 107.1 103.6 107.62 102.53 108.06 101.36 108.46 100.16 108.86 98.98 109.29 97.88 109.8 96.9 110.4 96.1 111.07 95.44 111.78 94.85 112.49 94.27 113.18 93.65 113.8 92.9 114.4 92.03 115.01 91.07 115.59 90.06 116.1 89.03 116.52 88 116.8 87 116.9 86.09 116.84 85.27 116.69 84.46 116.49 83.56 116.31 82.5 116.2 81.2 116.15 79.6 116.12 77.76 116.1 75.76 116.1 73.67 116.14 71.59 116.2 69.6 116.29 67.62 116.4 65.59 116.54 63.56 116.71 61.59 116.93 59.75 117.2 58.1 117.54 56.64 117.95 55.33 118.41 54.15 118.88 53.08 119.35 52.1 119.8 51.2 120.26 50.43 120.75 49.81 121.24 49.28 121.69 48.79 122.06 48.28 122.3 47.7 122.44 47.02 122.52 46.28 122.51 45.52 122.4 44.78 122.17 44.09 121.8 43.5 121.28 43 120.61 42.58 119.83 42.21 118.93 41.88 117.95 41.58 116.9 41.3 115.75 41.05 114.48 40.83 113.12 40.65 111.7 40.49 110.25 40.34 108.8 40.2 107.3 40.07 105.73 39.96 104.12 39.87 102.54 39.78 101.01 39.69 99.6 39.6 98.33 39.47 97.17 39.29 96.08 39.12 95 38.99 93.89 38.93 92.7 39 91.42 39.21 90.09 39.53 88.72 39.93 87.34 40.38 85.96 40.85 84.6 41.3 83.21 41.73 81.77 42.16 80.33 42.61 78.94 43.09 77.65 43.61 76.5 44.2 75.52 44.85 74.66 45.56 73.91 46.32 73.21 47.11 72.56 47.94 71.9 48.8 71.24 49.68 70.6 50.6 69.99 51.56 69.43 52.54 68.93 53.56Z" fill="rgb(0,0,0)" fill-rule="evenodd"/><path d="M118.1 43.9 115.1 43.4 114.9 43.1 113.4 43.1 111.9 42.6 110.1 42.6 109.9 42.4 106.6 42.4 106.4 42.1 104.1 42.1 103.9 41.9 99.6 41.9 99.4 41.6 97.1 41.6 96.9 41.4 92.4 41.4 92.1 41.6 89.6 41.9 87.6 42.6 86.6 42.6 83.6 43.6 82.9 43.6 77.6 45.9 75.4 47.9 72.4 52.1 69.4 57.9 68.9 59.6 68.9 60.9 68.6 61.1 68.6 63.4 68.4 63.6 68.6 73.6 68.9 73.9 68.9 75.9 70.4 79.9 70.4 81.4 69.9 82.4 69.9 83.1 70.9 86.9 71.4 87.9 75.1 92.1 76.6 92.9 78.1 94.4 81.1 94.9 82.1 95.9 82.9 97.4 83.6 101.9 83.9 102.1 83.6 110.4 84.6 111.4 86.1 111.6 87.9 112.4 89.1 113.6 90.4 115.9 90.4 116.4 90.9 116.9 91.6 116.6 92.1 115.6 94.1 113.9 96.1 113.9 98.6 115.9 99.4 115.9 99.9 114.9 100.1 111.4 101.4 108.4 104.1 105.1 106.1 102.1 108.6 95.1 112.1 91.9 114.4 88.1 114.6 87.4 114.6 84.6 114.1 83.4 113.9 73.6 114.1 73.4 114.4 67.4 114.9 65.9 114.9 63.9 115.1 63.6 115.6 58.1 115.9 57.9 116.1 55.4 117.1 52.6 117.1 51.9 117.9 50.4 120.4 46.9 120.1 45.1 119.4 44.4 118.9 44.4Z" fill="rgb(11,11,11)" fill-rule="evenodd"/><path d="M111.9 43.9 110.9 43.9 110.6 43.6 106.6 43.6 106.4 43.4 104.6 43.4 104.4 43.1 100.6 43.1 100.4 42.9 91.1 42.9 90.9 43.1 85.6 43.9 82.1 44.9 78.9 46.4 77.4 47.4 75.6 49.4 74.1 51.9 73.9 53.4 73.1 55.1 71.6 56.9 70.4 59.6 70.1 63.1 69.9 63.4 70.1 73.9 70.4 74.1 70.4 76.1 70.6 76.4 70.6 78.4 70.9 78.6 71.1 81.9 71.4 82.1 71.4 83.1 71.6 83.4 72.1 86.1 72.6 87.1 75.1 90.1 76.6 91.4 79.1 92.6 81.1 92.6 82.9 92.1 83.6 92.9 83.9 94.4 84.6 96.1 85.4 100.4 86.6 104.1 89.9 107.9 93.6 110.1 96.9 110.4 98.1 109.9 99.6 108.4 104.4 102.1 105.9 98.9 106.6 96.4 106.9 93.6 107.1 93.4 106.9 91.1 110.4 84.1 111.6 80.4 111.9 78.1 112.1 77.9 112.1 75.9 112.4 75.6 112.4 74.4 112.9 72.6 113.1 68.6 113.4 68.4 113.4 67.1 114.1 64.4 114.9 56.9 115.1 56.6 115.1 55.4 115.9 52.6 115.9 50.1 116.1 49.9 115.9 46.9 115.1 45.6 113.9 44.6Z" fill="rgb(21,21,21)" fill-rule="evenodd"/><path d="M111.9 44.6 110.9 44.6 110.6 44.4 106.6 44.4 106.4 44.1 104.9 44.1 104.6 43.9 100.9 43.9 100.6 43.6 91.1 43.6 90.9 43.9 87.9 44.1 87.6 44.4 86.6 44.4 86.4 44.6 85.4 44.6 83.4 45.4 82.6 45.4 79.4 46.9 77.9 47.9 76.1 49.9 74.9 52.1 74.6 54.1 73.9 56.6 71.9 60.9 71.9 63.1 71.6 63.4 71.9 73.9 72.1 74.1 72.1 76.1 72.4 76.4 72.4 78.4 72.6 78.6 72.9 81.6 73.1 81.9 73.1 82.9 73.9 85.6 76.9 89.4 78.9 90.4 79.6 90.4 80.9 89.9 81.9 88.9 82.6 87.1 83.1 86.6 83.6 86.6 84.6 87.6 86.4 92.4 87.6 99.4 89.1 102.9 91.9 105.9 92.9 106.6 95.1 107.6 97.1 107.4 98.4 106.6 101.6 102.9 102.9 100.9 104.6 96.9 105.9 90.6 109.4 83.9 110.9 79.4 111.1 76.6 111.4 76.4 111.4 75.4 112.1 72.6 112.1 70.6 112.4 70.4 112.6 67.1 113.4 64.9 114.1 57.4 114.4 57.1 114.4 55.9 114.6 55.6 114.6 54.4 115.1 52.6 115.1 48.4 114.6 46.6 113.1 45.1Z" fill="rgb(32,32,32)" fill-rule="evenodd"/><path d="M85.9 45.1 81.9 46.4 79.4 47.6 77.4 49.4 76.1 51.1 75.4 52.9 75.1 55.6 74.6 57.1 74.9 59.4 75.1 59.6 76.1 64.4 76.9 65.6 76.9 66.1 77.6 67.6 79.9 70.6 80.4 71.9 82.1 74.1 82.4 75.9 82.6 76.1 82.6 81.4 85.4 86.4 86.4 89.4 87.6 91.1 94.9 98.1 96.1 98.9 98.6 98.9 100.6 97.9 103.9 94.4 104.4 93.4 104.9 90.9 108.4 84.1 110.1 79.1 110.4 76.6 110.6 76.4 110.6 75.4 111.4 72.6 111.9 67.6 112.6 65.4 112.9 62.6 113.1 62.4 113.6 56.6 113.9 56.4 113.9 54.9 114.4 53.1 114.4 48.6 113.6 46.6 112.9 45.9 111.1 45.1 107.1 45.1 106.9 44.9 101.6 44.6 101.4 44.4 90.6 44.4 90.4 44.6Z" fill="rgb(42,42,42)" fill-rule="evenodd"/><path d="M110.9 45.9 105.6 45.6 105.4 45.4 103.9 45.4 103.6 45.1 100.4 45.1 100.1 44.9 91.9 44.9 91.6 45.1 87.9 45.4 82.4 46.9 79.1 48.6 77.1 50.9 76.1 52.6 75.9 54.9 75.6 55.1 75.6 58.1 76.4 60.1 76.9 62.9 78.6 67.1 80.1 68.9 81.4 71.4 83.1 73.9 83.4 76.1 83.6 76.4 83.6 80.9 83.9 81.6 85.4 84.1 85.4 84.6 86.1 85.9 86.4 87.1 87.1 88.6 88.6 90.6 95.4 97.1 96.6 97.9 98.1 97.9 100.1 96.9 102.9 93.9 103.6 92.6 103.9 91.1 107.9 83.4 109.4 78.9 109.6 76.4 110.6 72.6 111.1 67.6 112.4 62.9 112.9 57.1 113.1 56.9 113.4 53.4 113.6 53.1 113.6 48.9 113.4 48.6 113.4 47.9 112.6 46.6Z" fill="rgb(53,53,53)" fill-rule="evenodd"/><path d="M86.9 46.1 82.4 47.6 79.9 49.1 77.6 51.4 76.4 53.6 76.1 57.4 78.6 64.4 83.9 73.1 84.1 74.9 84.4 75.1 84.4 76.4 84.6 76.6 84.9 80.9 87.9 87.6 89.4 89.6 96.4 96.4 97.9 96.6 99.4 95.9 102.1 92.9 103.1 90.9 103.1 90.4 107.1 82.6 108.6 78.1 108.9 75.4 109.6 72.9 110.4 66.9 111.4 63.6 111.6 60.4 111.9 60.1 111.9 58.6 112.1 58.4 112.1 56.9 112.4 56.6 112.4 54.9 112.6 54.6 112.6 52.9 112.9 52.6 112.6 48.6 112.4 47.9 111.6 47.1 110.4 46.6 106.6 46.4 106.4 46.1 102.6 45.9 102.4 45.6 92.9 45.4 92.6 45.6 89.9 45.6 89.6 45.9Z" fill="rgb(64,64,64)" fill-rule="evenodd"/><path d="M85.9 46.9 84.4 47.4 81.1 49.1 77.4 52.6 76.6 54.6 76.6 57.1 78.9 62.4 84.1 68.1 85.6 70.1 87.9 74.9 88.4 76.9 89.1 78.1 89.6 80.1 91.1 83.4 91.9 85.9 93.1 88.1 94.9 90.1 96.6 90.9 97.9 90.9 99.1 90.4 100.6 88.9 102.1 86.6 104.6 81.4 105.1 79.6 106.1 77.9 106.4 76.6 107.4 74.9 107.6 73.4 108.6 70.9 108.6 70.1 109.4 67.9 109.4 66.9 109.6 66.6 109.6 65.6 110.1 64.4 110.1 63.4 110.4 63.1 110.6 60.1 110.9 59.9 111.4 56.1 111.9 54.6 111.9 49.9 110.9 48.1 109.4 47.1 102.9 46.4 102.6 46.1 92.9 45.9 92.6 46.1 89.9 46.1 89.6 46.4 88.1 46.4 87.9 46.6Z" fill="rgb(74,74,74)" fill-rule="evenodd"/><path d="M86.9 47.1 83.1 48.6 79.6 51.1 77.9 52.9 77.1 54.4 77.1 57.1 77.9 59.1 79.6 62.1 84.6 67.4 85.1 68.4 86.1 69.4 88.1 73.4 88.9 75.9 89.9 77.9 90.4 79.9 91.9 83.1 92.1 84.4 93.6 87.4 95.6 89.6 96.1 89.9 98.1 89.9 100.9 87.1 105.1 78.1 107.9 70.6 107.9 69.9 108.6 67.6 108.6 66.6 109.1 65.4 109.4 63.1 109.6 62.9 109.6 61.4 109.9 61.1 110.9 55.1 111.1 54.9 111.1 53.4 111.4 53.1 111.1 50.1 110.6 49.1 108.9 47.6 108.1 47.4 105.9 47.4 105.6 47.1 102.6 46.9 102.4 46.6 92.9 46.4 92.6 46.6 89.9 46.6 89.6 46.9Z" fill="rgb(85,85,85)" fill-rule="evenodd"/><path d="M88.4 47.4 83.9 48.9 79.4 52.1 77.6 54.4 77.6 55.4 77.4 55.6 77.6 57.1 78.6 59.4 80.4 62.1 85.6 67.6 86.9 69.4 89.4 74.6 89.4 75.4 90.6 77.9 90.6 78.6 92.4 82.6 92.6 83.9 94.4 87.4 96.1 89.1 97.6 89.4 99.4 88.1 100.9 85.9 105.9 74.6 107.6 69.1 108.1 65.9 108.6 64.6 109.1 60.4 109.6 59.1 109.9 56.6 110.6 53.9 110.6 50.9 109.6 48.9 107.6 47.9 105.4 47.9 103.9 47.4 98.9 47.1 98.6 46.9 93.1 46.9 92.9 47.1Z" fill="rgb(96,96,96)" fill-rule="evenodd"/><path d="M87.6 48.1 83.4 49.9 80.4 52.1 78.4 54.1 78.1 54.9 78.1 56.9 80.4 61.1 85.6 66.6 86.1 67.6 87.6 69.4 89.6 73.6 90.1 75.6 90.9 76.9 91.4 78.9 92.9 82.1 93.6 84.6 95.1 87.4 96.4 88.6 97.9 88.6 99.9 86.4 105.6 73.6 105.6 72.9 107.4 67.6 107.6 65.4 108.4 62.9 108.6 59.9 108.9 59.6 109.4 56.1 109.9 54.9 109.9 53.6 110.1 53.4 109.9 50.4 108.6 48.9 106.9 48.4 104.9 48.4 103.4 47.9 101.9 47.9 101.6 47.6 93.4 47.4 93.1 47.6 90.4 47.6 90.1 47.9Z" fill="rgb(106,106,106)" fill-rule="evenodd"/><path d="M87.9 48.6 84.1 50.1 81.6 51.9 79.4 53.9 78.9 54.6 78.6 56.1 79.1 57.6 81.1 61.1 86.6 66.9 87.9 68.6 89.9 72.6 91.9 78.4 95.1 86.1 96.1 87.6 97.6 87.9 98.4 87.4 99.4 85.9 101.6 81.4 101.6 80.9 103.9 76.1 105.9 70.6 105.9 69.9 106.9 66.9 107.1 64.6 107.6 63.4 107.9 60.4 108.1 60.1 108.1 59.1 108.6 57.9 108.6 56.6 109.4 53.9 109.4 50.9 108.1 49.4 104.1 48.9 101.4 48.1 93.6 47.9 93.4 48.1 90.6 48.1 90.4 48.4Z" fill="rgb(117,117,117)" fill-rule="evenodd"/><path d="M87.9 49.1 84.4 50.6 81.4 52.9 79.6 54.9 79.6 56.6 81.6 60.9 87.6 66.9 88.9 68.6 91.1 73.6 91.9 76.1 92.6 77.4 92.6 78.1 94.1 81.4 94.9 83.9 96.6 86.9 97.6 86.9 98.9 85.1 100.4 82.1 100.4 81.6 101.6 79.4 101.6 78.9 103.1 75.9 103.4 74.6 104.1 73.4 104.9 71.1 104.9 70.4 105.9 67.6 106.6 63.1 106.9 62.9 107.1 59.9 107.6 58.6 107.9 56.1 108.6 53.4 108.6 51.4 108.1 50.4 107.1 49.9 105.1 49.9 101.4 48.6 93.4 48.4 93.1 48.6 90.6 48.6 90.4 48.9Z" fill="rgb(128,128,128)" fill-rule="evenodd"/><path d="M86.4 50.1 83.4 51.9 81.4 53.9 80.6 55.6 80.6 56.9 81.4 59.4 82.6 61.4 84.9 63.6 87.9 65.1 89.4 66.6 90.6 68.9 91.4 71.6 94.4 78.1 95.9 79.4 97.4 79.4 98.6 78.4 100.1 74.4 100.4 72.1 101.4 68.9 101.4 67.9 102.9 63.4 103.4 59.9 104.6 55.4 104.6 52.4 104.4 52.1 104.4 51.4 103.1 49.9 101.6 49.1 100.6 49.1 100.4 48.9 92.6 48.9 92.4 49.1 90.6 49.1 90.4 49.4 89.1 49.4Z" fill="rgb(138,138,138)" fill-rule="evenodd"/><path d="M87.1 50.4 84.6 51.6 82.1 53.9 81.4 55.9 81.4 57.1 81.6 57.4 81.9 59.1 82.9 60.9 85.1 63.1 88.6 64.6 90.9 66.9 92.1 69.1 92.1 69.9 92.6 70.6 92.6 71.1 95.4 77.1 96.1 77.9 97.1 77.9 97.6 77.4 98.1 76.1 98.1 75.4 98.9 73.6 99.1 71.6 99.9 69.9 100.4 67.1 102.1 61.9 102.4 59.4 103.1 57.4 103.4 55.1 103.6 54.9 103.6 52.1 103.4 51.4 102.4 50.1 100.6 49.4 94.4 49.1 94.1 49.4 90.4 49.6 90.1 49.9Z" fill="rgb(149,149,149)" fill-rule="evenodd"/><path d="M87.9 50.6 85.6 51.6 82.9 53.9 82.1 55.4 82.4 58.9 83.4 60.6 85.1 62.4 86.4 63.1 88.6 63.9 91.9 66.9 93.9 70.9 94.4 71.4 95.9 74.9 96.6 75.4 97.4 73.9 97.6 72.1 98.9 69.9 100.6 64.4 100.6 63.6 101.4 61.9 101.6 59.4 102.9 55.1 102.9 51.9 101.6 50.4 100.6 49.9 93.9 49.6 93.6 49.9 92.1 49.9 91.9 50.1Z" fill="rgb(159,159,159)" fill-rule="evenodd"/><path d="M85.4 52.4 83.1 54.4 82.6 55.4 82.6 57.9 83.6 60.1 85.6 62.1 88.4 63.1 90.4 64.4 92.4 66.4 94.4 69.6 95.6 70.6 97.1 70.6 97.6 70.4 98.4 69.1 99.6 65.4 99.6 64.6 100.9 61.1 101.4 57.9 102.1 55.9 102.4 52.6 101.9 51.4 100.1 50.4 93.6 50.1 93.4 50.4 91.9 50.4 91.6 50.6 88.1 51.1Z" fill="rgb(170,170,170)" fill-rule="evenodd"/><path d="M86.6 52.1 85.1 53.1 83.1 55.4 82.9 56.9 83.1 57.1 83.4 58.9 85.4 61.4 90.6 63.9 93.1 66.1 94.1 67.6 95.9 69.4 96.9 69.4 97.9 68.1 98.4 66.1 99.1 64.6 99.1 63.9 100.1 61.6 100.4 59.6 101.6 55.4 101.6 52.4 100.6 51.1 99.9 50.9 98.4 50.9 98.1 50.6 93.1 50.6 92.9 50.9 88.6 51.4Z" fill="rgb(181,181,181)" fill-rule="evenodd"/><path d="M84.1 54.6 83.4 56.1 83.6 58.1 84.6 59.9 85.9 61.1 89.1 62.4 91.4 63.6 93.4 65.1 95.9 67.6 96.6 67.6 98.4 64.4 99.9 60.1 99.9 59.1 101.1 54.9 101.1 52.9 100.9 52.4 99.6 51.4 94.4 50.9 94.1 51.1 92.4 51.1 92.1 51.4 88.4 51.9 86.6 52.6Z" fill="rgb(191,191,191)" fill-rule="evenodd"/><path d="M86.1 53.4 84.4 55.1 83.9 56.1 83.9 57.4 84.9 59.4 86.1 60.6 91.9 63.1 94.9 65.1 95.6 65.4 96.6 65.1 97.6 64.1 98.1 63.1 100.1 56.9 100.1 55.9 100.4 55.6 100.4 53.1 99.4 51.9 97.4 51.6 97.1 51.4 93.4 51.4 93.1 51.6 88.9 52.1Z" fill="rgb(202,202,202)" fill-rule="evenodd"/><path d="M85.1 54.9 84.4 56.6 84.6 57.9 86.6 60.1 89.9 61.6 91.1 61.9 94.9 63.9 96.1 63.9 97.1 63.1 98.4 60.6 99.6 56.6 99.9 54.1 99.4 52.9 98.4 52.1 97.6 52.1 97.4 51.9 92.6 51.9 92.4 52.1 88.6 52.6 86.9 53.4Z" fill="rgb(212,212,212)" fill-rule="evenodd"/><path d="M85.9 54.9 85.4 55.6 85.1 57.1 85.6 58.1 86.6 59.1 89.4 60.6 91.9 61.4 94.1 62.6 94.9 62.6 95.1 62.9 96.6 62.4 98.4 58.9 99.1 56.4 99.1 54.1 98.9 53.4 97.4 52.4 96.4 52.4 96.1 52.1 93.9 52.1 93.6 52.4 89.4 52.9 87.4 53.6Z" fill="rgb(223,223,223)" fill-rule="evenodd"/><path d="M86.6 54.9 86.1 55.6 86.1 57.4 87.4 58.6 90.6 60.4 91.9 60.6 94.4 61.9 95.9 61.9 96.6 61.1 98.4 56.9 98.4 55.6 98.6 55.4 98.4 54.1 97.9 53.4 95.6 52.6 94.1 52.6 93.9 52.9 89.6 53.4 88.1 53.9Z" fill="rgb(234,234,234)" fill-rule="evenodd"/><path d="M87.1 55.4 86.9 56.6 88.6 58.4 90.4 59.4 91.6 59.6 94.1 60.9 95.6 60.9 96.4 60.1 96.4 59.6 97.1 58.4 97.9 54.9 96.9 53.6 96.1 53.4 93.1 53.4 92.9 53.6 89.4 54.1 87.6 54.9Z" fill="rgb(244,244,244)" fill-rule="evenodd"/><path d="M96.6 54.9 95.9 54.4 94.9 54.4 94.6 54.1 94.4 54.4 89.9 54.9 88.4 55.6 88.4 56.4 89.4 57.4 91.1 58.4 92.4 58.6 94.4 59.6 95.1 59.6 95.6 59.1 96.6 56.9Z" fill="rgb(255,255,255)" fill-rule="evenodd"/></g><g filter="url(#fm9)"><path d="M102.84 386.08 101.62 386.67 100.44 387.31 99.3 387.99 98.2 388.7 97.15 389.46 96.16 390.27 95.21 391.12 94.28 392 93.35 392.9 92.4 393.8 91.42 394.71 90.41 395.65 89.41 396.61 88.42 397.57 87.48 398.54 86.6 399.5 85.79 400.49 85.03 401.53 84.31 402.57 83.63 403.58 82.96 404.5 82.3 405.3 81.65 405.9 81.02 406.32 80.41 406.66 79.82 407.02 79.25 407.5 78.7 408.2 78.17 409.17 77.65 410.33 77.16 411.62 76.68 412.94 76.23 414.23 75.8 415.4 75.36 416.48 74.91 417.55 74.48 418.57 74.11 419.54 73.84 420.42 73.7 421.2 73.71 421.81 73.85 422.24 74.09 422.6 74.39 422.96 74.74 423.39 75.1 424 75.51 424.79 75.99 425.71 76.51 426.71 77.04 427.76 77.55 428.8 78 429.8 78.4 430.75 78.76 431.68 79.09 432.61 79.42 433.56 79.75 434.55 80.1 435.6 80.44 436.72 80.75 437.9 81.06 439.11 81.41 440.35 81.81 441.58 82.3 442.8 82.91 443.98 83.63 445.14 84.41 446.31 85.19 447.49 85.94 448.71 86.6 450 87.15 451.4 87.62 452.9 88.05 454.44 88.48 455.97 88.95 457.41 89.5 458.7 90.1 459.86 90.72 460.93 91.38 461.91 92.09 462.82 92.89 463.65 93.8 464.4 94.81 465.07 95.91 465.66 97.09 466.16 98.35 466.6 99.69 466.98 101.1 467.3 102.64 467.58 104.31 467.8 106.07 467.96 107.84 468.06 109.57 468.07 111.2 468 112.77 467.82 114.34 467.54 115.86 467.17 117.31 466.76 118.63 466.33 119.8 465.9 120.78 465.48 121.6 465.04 122.31 464.59 122.93 464.1 123.51 463.57 124.1 463 124.68 462.45 125.22 461.94 125.73 461.39 126.19 460.73 126.61 459.86 127 458.7 127.33 457.22 127.61 455.48 127.84 453.53 128.06 451.44 128.27 449.28 128.5 447.1 128.75 444.86 129 442.51 129.25 440.07 129.49 437.6 129.71 435.13 129.9 432.7 130.07 430.3 130.21 427.9 130.34 425.51 130.44 423.11 130.53 420.71 130.6 418.3 130.66 415.84 130.7 413.31 130.73 410.77 130.73 408.3 130.69 405.96 130.6 403.8 130.46 401.84 130.27 400.03 130.04 398.35 129.78 396.77 129.5 395.26 129.2 393.8 128.9 392.37 128.6 390.99 128.28 389.68 127.92 388.48 127.5 387.41 127 386.5 126.46 385.78 125.89 385.23 125.26 384.81 124.54 384.49 123.7 384.23 122.7 384 121.5 383.8 120.12 383.67 118.62 383.61 117.06 383.59 115.5 383.63 114 383.7 112.54 383.81 111.07 383.96 109.61 384.16 108.16 384.41 106.75 384.72 105.4 385.1 104.1 385.56ZM78.65 424.77 78.97 424.73 79.3 424.74 79.59 424.79 79.8 424.9 79.94 425.1 80.04 425.39 80.1 425.73 80.12 426.08 80.09 426.38 80 426.6 79.82 426.74 79.55 426.85 79.23 426.92 78.9 426.94 78.61 426.9 78.4 426.8 78.26 426.6 78.16 426.29 78.1 425.92 78.08 425.55 78.11 425.22 78.2 425 78.38 424.86ZM82.79 437.47 83.08 437.39 83.42 437.37 83.77 437.4 84.08 437.47 84.3 437.6 84.44 437.82 84.55 438.13 84.61 438.49 84.63 438.86 84.59 439.18 84.5 439.4 84.31 439.54 84.02 439.63 83.68 439.68 83.33 439.68 83.02 439.62 82.8 439.5 82.66 439.28 82.55 438.94 82.49 438.56 82.47 438.17 82.51 437.83 82.6 437.6Z" fill="rgb(0,0,0)" fill-rule="evenodd"/><path d="M122.4 386.1 118.6 385.9 118.4 385.6 117.4 385.6 117.1 385.9 112.1 385.9 111.9 386.1 108.4 386.4 108.1 386.6 106.4 386.9 103.4 387.9 100.6 389.4 99.9 389.4 99.1 388.9 98.4 388.9 96.1 390.6 95.9 391.4 94.9 392.4 92.6 393.9 86.1 400.1 82.9 404.9 82.6 406.9 82.1 407.9 80.1 410.4 80.1 410.9 78.9 413.4 78.1 415.6 78.1 416.4 76.4 419.9 76.1 421.4 77.4 422.9 79.6 422.6 80.9 423.1 81.9 424.4 82.1 425.1 82.1 427.4 80.6 429.1 80.6 430.6 82.1 434.6 84.1 436.6 84.1 437.4 84.9 437.9 84.9 438.6 85.1 438.9 84.6 439.9 84.6 443.1 85.9 446.1 86.4 448.6 87.4 450.6 87.6 452.1 88.6 454.1 88.6 454.6 91.1 459.4 92.4 460.9 94.6 462.9 97.1 464.1 97.9 464.1 99.6 464.9 105.1 465.6 105.4 465.9 112.1 465.9 113.6 465.4 116.1 465.1 120.6 463.4 123.4 461.1 124.1 460.1 125.4 457.1 125.4 456.4 125.6 456.1 125.6 453.4 125.9 453.1 125.9 451.4 126.1 451.1 126.1 449.4 126.4 449.1 126.4 447.1 126.6 446.9 126.6 444.6 126.9 444.4 126.9 441.9 127.1 441.6 127.1 439.4 127.4 439.1 127.4 436.9 127.6 436.6 127.6 434.1 127.9 433.9 128.1 424.9 128.4 424.6 128.4 417.6 128.6 417.4 128.6 404.6 128.4 404.4 128.1 398.4 127.9 398.1 127.4 393.4 127.1 393.1 126.6 390.1 125.6 388.1 124.4 386.9Z" fill="rgb(11,11,11)" fill-rule="evenodd"/><path d="M122.6 387.6 120.9 387.1 119.6 387.1 119.4 386.9 110.6 387.1 110.4 387.4 108.6 387.4 108.4 387.6 105.6 388.1 100.1 390.6 98.1 390.4 97.6 390.6 96.9 392.1 95.4 393.6 93.1 395.1 89.4 398.9 87.4 400.1 85.4 402.1 84.1 404.6 83.6 408.1 82.4 411.1 82.6 421.6 83.4 423.9 83.4 425.6 83.6 425.9 83.6 428.4 83.4 428.6 83.6 432.6 85.4 435.9 85.6 438.6 86.1 439.9 86.1 443.1 87.4 446.6 87.6 448.4 88.6 450.4 88.9 451.9 90.1 454.4 90.1 454.9 92.4 458.9 95.6 461.9 96.6 462.4 98.1 462.4 99.4 461.4 99.9 460.4 100.6 460.4 103.1 461.9 107.4 463.1 113.9 463.1 114.1 462.9 115.4 462.9 117.6 462.1 120.6 460.4 122.9 457.9 123.9 455.9 124.4 454.4 124.4 453.1 124.6 452.9 125.1 446.9 125.4 446.6 125.4 444.4 125.6 444.1 125.9 434.1 126.1 433.9 126.1 430.1 126.4 429.9 126.4 426.6 126.6 426.4 126.6 419.9 126.9 419.6 126.9 416.1 127.1 415.9 127.1 399.4 126.9 399.1 126.6 395.4 126.4 395.1 126.4 393.9 126.1 393.6 126.1 392.4 125.6 390.6 125.1 389.6 123.6 388.1Z" fill="rgb(21,21,21)" fill-rule="evenodd"/><path d="M121.9 388.1 119.6 387.9 119.4 387.6 112.1 387.6 111.9 387.9 110.1 387.9 109.9 388.1 107.4 388.4 106.4 388.9 104.1 389.4 99.4 391.9 98.4 391.9 95.6 394.9 92.4 397.4 89.4 400.4 88.4 400.9 86.4 402.9 85.4 404.9 85.1 407.4 84.4 409.6 84.4 411.4 84.1 411.6 84.4 421.1 84.6 421.4 84.6 423.6 84.9 423.9 85.4 432.4 86.4 434.6 86.4 435.6 86.6 435.9 86.9 438.6 87.6 441.4 87.6 443.9 88.4 445.6 88.9 448.1 89.9 450.1 89.9 450.9 91.4 454.1 91.4 454.6 91.9 455.1 93.4 458.1 96.4 460.6 97.4 460.6 98.1 458.4 98.9 457.6 99.4 457.6 101.4 459.6 102.9 460.6 106.4 461.9 107.4 461.9 107.6 462.1 114.1 462.1 114.4 461.9 115.4 461.9 118.6 460.6 120.6 459.1 122.4 456.9 123.4 454.9 123.6 452.9 123.9 452.6 123.9 451.1 124.1 450.9 124.1 449.1 124.4 448.9 124.6 444.4 124.9 444.1 125.1 432.4 125.4 432.1 125.4 429.1 125.6 428.9 125.9 418.9 126.1 418.6 126.1 415.4 126.4 415.1 126.4 398.9 126.1 398.6 126.1 396.9 125.9 396.6 125.4 392.1 124.9 390.6 123.1 388.6 122.6 388.6Z" fill="rgb(32,32,32)" fill-rule="evenodd"/><path d="M119.9 388.4 111.4 388.4 111.1 388.6 108.1 388.9 104.6 389.9 98.1 393.4 96.9 395.4 96.9 396.4 96.6 396.6 96.6 406.6 96.9 406.9 96.9 448.9 97.1 449.1 97.1 452.6 97.6 454.1 99.4 455.6 100.9 457.9 102.4 459.4 104.4 460.4 107.9 461.4 113.9 461.4 117.9 460.1 119.4 459.1 121.6 456.6 122.6 454.6 123.1 452.9 123.6 447.1 123.9 446.9 123.9 444.9 124.1 444.6 124.4 432.4 124.6 432.1 124.6 429.1 124.9 428.9 125.1 418.9 125.4 418.6 125.4 415.4 125.6 415.1 125.6 398.1 125.4 397.9 124.9 393.1 124.1 390.6 122.9 389.4Z" fill="rgb(42,42,42)" fill-rule="evenodd"/><path d="M119.9 389.1 111.1 389.1 110.9 389.4 109.1 389.4 108.9 389.6 105.1 390.4 100.6 392.6 98.6 394.4 98.1 395.9 98.1 407.1 98.4 407.4 98.4 449.4 98.6 449.6 98.6 452.9 100.1 454.9 101.1 456.9 102.6 458.6 103.9 459.4 107.6 460.6 112.1 460.9 112.4 460.6 115.1 460.4 118.1 459.1 120.9 456.4 121.6 455.1 122.4 452.9 122.6 449.6 122.9 449.4 122.9 447.4 123.1 447.1 123.1 444.9 123.4 444.6 123.6 432.4 123.9 432.1 123.9 429.1 124.1 428.9 124.4 418.9 124.6 418.6 124.6 415.4 124.9 415.1 124.9 398.1 124.6 397.9 124.1 392.9 123.4 390.9 122.6 390.1Z" fill="rgb(53,53,53)" fill-rule="evenodd"/><path d="M118.6 389.9 112.4 389.9 112.1 390.1 108.9 390.4 105.1 391.4 101.1 393.4 100.1 394.4 99.4 396.6 99.4 406.4 99.6 406.6 99.6 448.6 99.9 448.9 99.9 452.4 101.9 456.4 103.1 457.9 105.9 459.4 108.6 460.1 112.9 460.1 113.1 459.9 114.4 459.9 117.9 458.4 120.1 456.1 120.9 454.9 121.9 451.1 121.9 449.6 122.1 449.4 122.1 446.6 122.4 446.4 122.4 443.9 122.6 443.6 122.6 438.1 122.9 437.9 122.9 431.4 123.1 431.1 123.1 427.9 123.4 427.6 123.4 424.4 123.6 424.1 123.6 417.6 123.9 417.4 123.9 414.1 124.1 413.9 124.1 398.9 123.9 398.6 123.6 395.1 123.4 394.9 122.9 391.9 121.6 390.6 120.1 390.1 118.9 390.1Z" fill="rgb(64,64,64)" fill-rule="evenodd"/><path d="M118.1 391.1 113.1 391.1 112.9 391.4 109.9 391.6 107.1 392.4 103.1 394.6 102.1 395.6 101.1 398.1 101.1 399.9 100.9 400.1 100.9 436.6 100.6 436.9 100.6 443.6 100.9 443.9 101.4 450.4 101.6 450.6 101.9 453.1 103.4 456.6 104.9 458.1 106.9 459.1 108.6 459.4 108.9 459.6 112.6 459.6 112.9 459.4 113.9 459.4 115.6 458.9 118.1 457.4 119.1 456.4 120.4 454.1 120.9 451.4 121.1 451.1 121.1 449.9 121.4 449.6 121.4 444.6 121.6 444.4 121.6 440.4 121.9 440.1 121.9 432.1 122.1 431.9 122.4 418.6 122.6 418.4 122.6 415.9 122.9 415.6 122.9 413.1 123.1 412.9 123.4 403.1 123.1 402.9 123.1 398.6 122.9 398.4 122.9 396.6 122.6 396.4 122.4 394.6 121.6 393.1 120.9 392.4Z" fill="rgb(74,74,74)" fill-rule="evenodd"/><path d="M117.6 391.9 113.6 391.9 113.4 392.1 109.1 392.6 108.9 392.9 108.1 392.9 104.1 394.9 102.6 396.4 102.1 397.4 101.9 400.4 101.6 400.6 101.6 436.6 101.4 436.9 101.4 443.4 101.6 443.6 102.1 449.9 102.4 450.1 102.6 452.9 104.1 456.4 105.6 457.9 107.1 458.6 109.1 458.9 109.4 459.1 112.1 459.1 112.4 458.9 114.6 458.6 117.1 457.4 118.9 455.6 119.6 454.1 120.6 450.4 120.6 448.6 120.9 448.4 120.9 441.1 121.1 440.9 121.1 438.1 121.4 437.9 121.4 424.4 121.6 424.1 121.6 418.4 121.9 418.1 121.9 415.6 122.1 415.4 122.1 413.1 122.4 412.9 122.4 408.4 122.6 408.1 122.6 400.4 122.4 400.1 122.1 396.6 121.1 393.9 120.1 392.9Z" fill="rgb(85,85,85)" fill-rule="evenodd"/><path d="M118.1 392.6 112.9 392.6 112.6 392.9 108.6 393.4 104.6 395.4 103.6 396.1 102.6 397.9 102.6 399.6 102.4 399.9 102.4 435.6 102.1 435.9 102.1 437.6 101.9 437.9 102.1 444.6 102.4 444.9 102.4 446.9 102.6 447.1 103.1 452.1 104.1 455.1 105.4 456.9 108.1 458.4 111.6 458.6 111.9 458.4 114.1 458.1 116.4 457.1 117.9 455.9 118.9 454.4 119.9 450.9 119.9 449.6 120.1 449.4 120.1 441.9 120.4 441.6 120.4 438.9 120.6 438.6 120.6 425.1 120.9 424.9 120.9 419.1 121.1 418.9 121.1 416.6 121.4 416.4 121.4 414.6 121.6 414.4 121.6 412.6 121.9 412.4 122.1 401.1 121.9 400.9 121.9 399.1 121.6 398.9 121.4 396.1 120.9 394.6 119.4 393.1Z" fill="rgb(96,96,96)" fill-rule="evenodd"/><path d="M117.6 393.1 113.4 393.1 113.1 393.4 111.9 393.4 111.6 393.6 110.4 393.6 110.1 393.9 108.4 394.1 104.9 395.9 103.6 397.1 103.1 398.6 103.1 400.1 102.9 400.4 102.9 435.1 102.6 435.4 102.6 436.9 102.4 437.1 102.4 442.6 102.6 442.9 102.6 444.9 102.9 445.1 103.4 450.4 104.4 454.1 105.1 455.6 106.4 456.9 108.6 457.9 112.4 457.9 112.6 457.6 114.6 457.4 116.4 456.4 117.9 454.9 118.6 453.4 118.6 452.6 119.4 450.4 119.4 449.1 119.6 448.9 119.6 441.4 119.9 441.1 119.9 438.4 120.1 438.1 120.1 424.6 120.4 424.4 120.4 418.6 120.6 418.4 120.6 416.6 120.9 416.4 121.1 413.4 121.4 413.1 121.6 400.4 121.4 400.1 121.4 398.9 120.9 397.6 120.6 395.6 120.1 394.6 119.4 393.9Z" fill="rgb(106,106,106)" fill-rule="evenodd"/><path d="M117.9 393.9 112.6 393.9 112.4 394.1 111.1 394.1 110.9 394.4 108.1 394.9 105.6 396.1 104.4 397.1 103.9 398.1 103.6 400.6 103.4 400.9 103.4 405.6 103.6 405.9 103.6 432.9 103.4 433.1 103.4 434.6 103.1 434.9 103.1 436.4 102.9 436.6 102.9 443.4 103.1 443.6 103.1 445.9 103.4 446.1 103.4 447.6 103.6 447.9 104.4 452.1 105.6 455.1 106.9 456.4 108.4 457.1 109.6 457.1 109.9 457.4 111.4 457.4 111.6 457.1 113.9 456.9 116.6 455.4 117.9 453.4 118.9 449.6 118.9 448.4 119.1 448.1 119.6 419.4 119.9 419.1 119.9 417.9 120.6 415.4 120.6 413.9 121.1 412.1 121.4 401.6 121.1 401.4 121.1 399.9 120.1 396.1 119.6 395.1Z" fill="rgb(117,117,117)" fill-rule="evenodd"/><path d="M116.6 394.4 113.6 394.4 113.4 394.6 110.4 394.9 110.1 395.1 108.4 395.4 105.9 396.6 104.4 398.4 104.1 400.9 103.9 401.1 103.9 402.4 104.1 402.6 104.1 412.6 104.4 412.9 104.4 432.4 103.1 437.1 103.1 442.6 103.4 442.9 103.9 448.1 104.6 450.9 106.4 454.9 107.1 455.6 108.6 456.4 112.4 456.4 112.6 456.1 114.4 455.9 115.6 455.1 116.6 454.1 117.1 453.1 118.6 447.6 118.6 441.6 118.9 441.4 118.6 424.6 118.9 424.4 118.9 419.1 120.1 415.9 120.4 413.4 120.6 413.1 120.9 407.4 121.1 407.1 121.1 402.9 120.9 402.6 120.6 399.1 119.6 396.4 118.4 394.9Z" fill="rgb(128,128,128)" fill-rule="evenodd"/><path d="M116.4 395.1 112.1 395.1 111.9 395.4 110.9 395.4 110.6 395.6 107.9 396.1 106.1 397.1 105.1 398.1 104.4 400.9 104.4 401.9 104.6 402.1 104.6 405.6 104.9 405.9 105.1 413.4 106.1 416.9 106.9 418.4 106.9 420.6 106.6 420.9 106.6 424.4 106.4 424.6 106.4 427.1 106.1 427.4 105.6 431.9 104.1 434.4 103.9 436.1 103.6 436.4 103.6 437.6 103.4 437.9 103.6 443.6 103.9 443.9 103.9 445.9 104.1 446.1 104.4 448.6 105.4 451.1 106.9 452.6 108.6 453.4 112.4 453.4 115.6 452.1 116.9 450.9 118.1 447.6 118.1 445.4 118.4 445.1 118.4 437.9 118.1 437.6 118.1 436.1 117.1 433.1 116.1 431.4 115.6 429.9 115.4 427.6 115.1 427.4 115.6 425.6 115.6 421.4 116.9 419.6 118.6 418.1 119.9 415.4 120.1 412.9 120.4 412.6 120.4 409.9 120.6 409.6 120.6 400.9 120.4 400.6 120.1 398.6 119.1 396.6 118.4 395.9Z" fill="rgb(138,138,138)" fill-rule="evenodd"/><path d="M114.9 395.6 111.4 395.9 111.1 396.1 108.1 396.6 106.4 397.6 105.6 398.4 105.1 399.6 105.1 403.6 105.4 403.9 105.4 406.9 105.6 407.1 105.6 411.6 105.9 411.9 106.1 414.4 106.6 415.9 107.9 418.1 108.1 419.4 107.4 421.9 107.4 429.6 107.1 429.9 107.1 431.1 106.4 432.6 104.9 434.1 104.1 435.6 104.1 436.6 103.9 436.9 103.9 442.9 104.1 443.1 104.1 444.9 104.4 445.1 104.6 447.9 105.6 450.4 106.9 451.6 109.6 452.6 111.4 452.6 115.1 451.4 116.6 449.9 117.4 448.4 117.6 445.9 117.9 445.6 117.9 438.9 117.6 438.6 117.6 437.1 116.6 434.1 114.4 430.4 114.1 427.9 114.9 425.1 114.9 423.9 114.6 423.6 114.9 420.4 118.6 417.1 119.6 414.9 119.6 413.6 120.1 412.1 120.1 409.1 120.4 408.9 120.4 401.4 119.4 397.9 118.1 396.6 116.4 395.9 115.1 395.9Z" fill="rgb(149,149,149)" fill-rule="evenodd"/><path d="M115.9 396.4 111.9 396.4 110.6 396.9 108.6 397.1 107.1 397.9 106.1 398.9 105.6 399.9 105.6 402.9 105.9 403.1 106.1 408.9 106.4 409.1 106.4 412.4 106.6 412.6 106.9 414.6 108.9 418.6 108.9 419.9 108.1 421.4 108.1 428.1 108.4 428.4 108.6 430.4 107.4 432.6 104.6 435.6 104.4 437.4 104.1 437.6 104.1 441.4 104.4 441.6 104.6 445.9 105.6 449.4 107.4 451.1 109.1 451.9 111.6 451.9 111.9 451.6 113.6 451.4 115.1 450.6 115.9 449.9 116.9 447.9 117.1 445.9 117.4 445.6 117.4 439.1 117.1 438.9 116.9 436.6 115.6 433.6 113.1 430.6 113.1 428.4 114.1 425.6 114.1 422.9 113.9 422.6 114.1 419.9 115.1 418.9 117.4 417.4 118.6 416.1 119.1 415.1 119.6 411.9 119.9 411.6 119.9 408.9 120.1 408.6 120.1 401.9 119.1 398.4 117.4 396.9Z" fill="rgb(159,159,159)" fill-rule="evenodd"/><path d="M113.1 432.1 109.4 432.1 108.4 432.6 105.4 435.4 104.6 437.4 104.6 442.9 104.9 443.1 104.9 444.9 105.1 445.1 105.6 447.9 106.4 449.4 107.4 450.4 108.9 451.1 109.9 451.1 110.1 451.4 112.1 451.1 114.4 450.4 115.6 449.1 116.4 447.6 116.6 445.9 116.9 445.6 117.1 440.9 116.9 440.6 116.9 439.1 116.6 438.9 116.4 436.9 114.9 433.6ZM115.4 396.9 112.4 396.9 112.1 397.1 108.4 397.9 106.6 399.1 106.1 400.4 106.1 401.9 106.4 402.1 106.4 403.6 106.6 403.9 106.6 407.6 106.9 407.9 106.9 411.9 107.1 412.1 107.1 413.1 107.6 414.9 108.9 417.4 110.1 419.1 108.6 421.9 108.6 426.4 108.9 426.6 108.9 427.9 109.4 428.9 109.9 429.1 111.6 429.1 112.4 428.4 113.6 425.1 113.1 419.6 113.9 418.9 117.1 416.9 118.4 415.6 119.6 411.1 119.9 402.4 119.6 402.1 119.4 399.9 118.9 398.9 117.6 397.6Z" fill="rgb(170,170,170)" fill-rule="evenodd"/><path d="M112.6 433.1 110.4 433.1 108.1 433.9 105.6 436.1 104.9 438.6 105.1 444.1 105.4 444.4 105.9 447.1 106.6 448.6 107.9 449.9 109.6 450.6 111.4 450.6 114.4 449.6 115.9 447.6 116.4 444.9 116.6 444.6 116.6 439.9 115.6 436.4 114.4 434.1 113.9 433.6ZM111.6 420.6 110.1 420.9 109.4 421.9 109.4 426.4 109.6 426.6 109.6 427.4 110.1 427.9 111.4 427.9 112.9 425.4 112.6 421.6ZM115.1 397.4 113.1 397.4 112.9 397.6 109.6 398.1 107.9 398.9 106.9 400.1 106.9 403.1 107.1 403.4 107.1 406.4 107.4 406.6 107.4 410.9 107.6 411.1 107.6 412.4 107.9 412.6 108.1 414.4 108.6 415.1 108.6 415.6 109.9 417.4 111.1 418.1 112.1 418.1 112.4 418.4 113.6 418.1 115.1 417.4 117.9 415.1 118.6 413.6 119.4 410.9 119.6 402.9 119.4 402.6 119.1 400.1 117.9 398.4 117.1 397.9 115.4 397.6Z" fill="rgb(181,181,181)" fill-rule="evenodd"/><path d="M113.4 434.4 109.9 434.4 109.6 434.6 108.9 434.6 107.1 435.6 106.1 436.6 105.4 438.4 105.4 443.4 105.6 443.6 105.9 445.9 107.1 448.4 108.9 449.6 109.6 449.6 109.9 449.9 112.9 449.6 114.9 448.4 115.9 446.4 116.1 443.9 116.4 443.6 116.1 439.4 115.1 436.4ZM110.6 422.1 110.1 422.6 110.1 425.1 110.4 425.9 111.1 426.4 111.9 425.6 112.1 423.6 111.9 423.4 111.9 422.6 111.4 422.1ZM116.6 398.1 113.1 397.9 112.9 398.1 110.1 398.6 108.4 399.4 107.9 399.9 107.4 401.1 107.6 405.4 107.9 405.6 107.9 410.4 108.1 410.6 108.4 412.6 109.9 415.9 111.6 416.9 113.9 416.9 116.1 415.9 117.4 414.9 118.6 412.6 118.6 411.9 119.1 410.6 119.1 407.9 119.4 407.6 119.1 401.4 118.1 399.1Z" fill="rgb(191,191,191)" fill-rule="evenodd"/><path d="M110.4 435.1 107.4 436.4 106.1 437.6 105.6 439.4 105.9 444.1 106.9 447.1 108.4 448.6 109.9 449.1 112.4 449.1 114.1 448.4 115.4 446.6 115.4 445.9 115.9 444.6 115.9 440.1 115.1 437.4 113.6 435.4 113.1 435.1ZM113.1 398.4 109.4 399.6 108.1 401.1 108.4 410.1 109.4 412.9 110.6 414.4 113.1 415.4 114.9 415.4 116.6 414.6 117.6 413.6 118.4 412.1 118.6 410.4 118.9 410.1 119.1 403.9 118.9 403.6 118.6 400.9 118.1 399.9 117.1 398.9 115.9 398.4Z" fill="rgb(202,202,202)" fill-rule="evenodd"/><path d="M113.1 435.9 111.6 435.6 108.9 436.4 107.4 437.1 106.1 438.9 106.1 443.6 106.4 443.9 106.6 445.6 107.1 446.6 108.4 447.9 109.4 448.4 112.9 448.4 113.6 448.1 114.6 447.1 115.1 446.1 115.4 444.1 115.6 443.9 115.6 440.6 114.6 437.4ZM116.1 398.9 113.4 398.9 113.1 399.1 111.4 399.4 109.9 400.1 108.6 401.6 108.9 409.9 109.1 410.1 109.1 410.9 109.9 412.4 111.4 413.9 112.4 414.4 114.6 414.6 116.6 413.9 117.6 412.9 118.4 410.9 118.4 409.6 118.6 409.4 118.6 402.6 117.9 400.1 116.9 399.1Z" fill="rgb(212,212,212)" fill-rule="evenodd"/><path d="M110.9 436.4 108.1 437.4 106.9 438.6 106.6 440.4 106.4 440.6 106.6 444.1 107.4 446.1 109.1 447.6 112.6 447.9 113.6 447.4 114.6 446.1 115.1 444.4 115.1 440.4 114.4 437.9 113.1 436.6 112.6 436.4ZM113.9 399.4 110.6 400.4 109.6 401.1 109.1 402.1 109.1 403.4 109.4 403.6 109.4 409.4 110.1 411.6 111.1 412.9 113.1 413.9 115.1 413.9 116.6 413.1 117.4 412.4 117.9 411.1 118.1 408.6 118.4 408.4 118.4 403.6 118.1 403.4 117.9 401.1 116.9 399.6 116.1 399.4Z" fill="rgb(223,223,223)" fill-rule="evenodd"/><path d="M112.1 436.9 110.4 437.1 108.1 438.1 107.4 438.9 106.9 440.6 106.9 442.6 107.1 442.9 107.4 444.9 107.9 445.9 108.6 446.6 110.6 447.4 112.1 447.4 113.4 446.9 113.9 446.4 114.9 442.9 114.9 441.6 114.6 441.4 114.1 438.6 112.9 437.1ZM115.9 399.9 114.4 399.9 114.1 400.1 112.1 400.4 110.6 401.1 109.9 401.9 109.9 408.9 110.1 409.1 110.1 409.9 110.9 411.6 112.1 412.9 113.6 413.4 114.6 413.4 116.6 412.4 117.6 410.4 117.6 409.1 117.9 408.9 117.9 403.1 117.6 402.9 117.6 401.6 117.1 400.6Z" fill="rgb(234,234,234)" fill-rule="evenodd"/><path d="M110.9 437.6 108.6 438.6 107.9 439.4 107.6 440.1 107.6 443.6 108.4 445.4 109.1 446.1 110.4 446.6 112.4 446.6 113.4 445.9 113.9 444.6 113.9 443.9 114.1 443.6 114.1 440.9 113.4 438.6 112.4 437.6ZM116.1 400.6 113.9 400.6 112.1 401.1 111.1 401.6 110.4 402.6 110.4 403.6 110.6 403.9 110.6 409.4 111.9 411.9 113.1 412.6 114.9 412.6 115.9 412.1 116.9 410.9 117.1 408.9 117.4 408.6 117.4 403.6 117.1 403.4 116.9 401.4Z" fill="rgb(244,244,244)" fill-rule="evenodd"/><path d="M111.9 438.4 109.4 439.1 108.4 440.4 108.4 443.1 108.9 444.6 109.9 445.6 110.6 445.9 112.4 445.6 112.9 445.1 113.4 443.4 113.4 441.1 112.4 438.6ZM115.6 401.4 113.1 401.6 111.9 402.1 111.4 402.6 111.4 408.9 112.1 410.9 113.6 411.9 114.6 411.9 115.9 410.9 116.6 408.4 116.6 404.1 116.4 403.9 116.4 402.4Z" fill="rgb(255,255,255)" fill-rule="evenodd"/></g><g filter="url(#fm9)"><path d="M92.65 590.08 91.52 590.58 90.37 591.16 89.28 591.75 88.3 592.3 87.46 592.83 86.71 593.37 86.01 593.93 85.31 594.51 84.59 595.1 83.8 595.7 82.87 596.33 81.83 596.98 80.75 597.65 79.73 598.32 78.85 598.97 78.2 599.6 77.77 600.19 77.49 600.75 77.36 601.3 77.35 601.85 77.47 602.41 77.7 603 78.13 603.64 78.8 604.32 79.58 605.02 80.38 605.7 81.09 606.34 81.6 606.9 81.96 607.38 82.26 607.81 82.46 608.19 82.54 608.54 82.47 608.88 82.2 609.2 81.68 609.53 80.92 609.86 80.01 610.17 79.01 610.45 78.02 610.66 77.1 610.8 76.21 610.81 75.27 610.71 74.33 610.54 73.44 610.38 72.65 610.28 72 610.3 71.51 610.44 71.13 610.64 70.85 610.91 70.65 611.23 70.5 611.6 70.4 612 70.32 612.47 70.28 613.02 70.3 613.61 70.4 614.21 70.59 614.79 70.9 615.3 71.39 615.74 72.06 616.14 72.83 616.52 73.61 616.88 74.33 617.23 74.9 617.6 75.34 617.97 75.73 618.34 76.05 618.7 76.29 619.06 76.45 619.43 76.5 619.8 76.45 620.22 76.31 620.69 76.08 621.16 75.77 621.58 75.37 621.91 74.9 622.1 74.31 622.09 73.57 621.9 72.76 621.62 71.93 621.33 71.12 621.1 70.4 621 69.78 621.04 69.23 621.16 68.7 621.34 68.17 621.57 67.62 621.83 67 622.1 66.27 622.39 65.46 622.71 64.61 623.06 63.79 623.44 63.07 623.85 62.5 624.3 62.07 624.8 61.72 625.34 61.46 625.93 61.31 626.52 61.29 627.12 61.4 627.7 61.73 628.27 62.27 628.84 62.94 629.41 63.64 629.97 64.26 630.54 64.7 631.1 65 631.65 65.23 632.2 65.38 632.75 65.45 633.3 65.43 633.85 65.3 634.4 65.02 634.95 64.58 635.49 64.04 636.02 63.48 636.58 62.94 637.17 62.5 637.8 62.13 638.5 61.79 639.26 61.47 640.05 61.2 640.84 60.97 641.6 60.8 642.3 60.66 642.93 60.53 643.52 60.45 644.08 60.45 644.61 60.55 645.15 60.8 645.7 61.23 646.23 61.83 646.72 62.54 647.21 63.29 647.73 64.03 648.31 64.7 649 65.31 649.85 65.91 650.85 66.5 651.92 67.07 652.97 67.6 653.92 68.1 654.7 68.54 655.31 68.91 655.81 69.26 656.22 69.6 656.54 69.97 656.76 70.4 656.9 70.92 656.92 71.5 656.82 72.12 656.63 72.72 656.38 73.26 656.09 73.7 655.8 74.05 655.52 74.34 655.24 74.58 654.93 74.76 654.56 74.86 654.09 74.9 653.5 74.81 652.74 74.59 651.84 74.3 650.84 74.01 649.81 73.79 648.81 73.7 647.9 73.75 647.05 73.89 646.19 74.09 645.37 74.34 644.61 74.61 643.94 74.9 643.4 75.21 642.99 75.58 642.7 75.97 642.5 76.37 642.38 76.75 642.32 77.1 642.3 77.43 642.32 77.75 642.38 78.06 642.5 78.34 642.7 78.59 642.99 78.8 643.4 78.94 643.93 79.03 644.59 79.08 645.34 79.13 646.16 79.19 647.02 79.3 647.9 79.44 648.87 79.59 649.95 79.75 651.08 79.95 652.17 80.19 653.17 80.5 654 80.88 654.65 81.06 654.86 80.72 655.15 80.5 655.5 80.44 655.97 80.5 656.58 80.65 657.25 80.88 657.9 81.17 658.44 81.5 658.8 81.92 658.97 82.47 659.02 83.07 658.97 83.67 658.83 84.2 658.64 84.6 658.4 84.89 658.08 85.12 657.66 85.29 657.17 85.33 656.95 85.41 656.96 86.01 656.94 86.7 656.9 87.54 656.78 88.51 656.56 89.55 656.31 90.59 656.06 91.56 655.87 92.4 655.8 93.1 655.85 93.71 655.98 94.26 656.17 94.76 656.41 95.24 656.66 95.7 656.9 96.13 657.18 96.5 657.51 96.85 657.86 97.2 658.18 97.57 658.44 98 658.6 98.5 658.66 99.06 658.65 99.65 658.58 100.24 658.45 100.8 658.25 101.3 658 101.72 657.62 102.06 657.09 102.37 656.49 102.71 655.93 103.1 655.47 103.6 655.2 104.24 655.19 105 655.38 105.82 655.68 106.64 655.99 107.42 656.23 108.1 656.3 108.68 656.25 109.22 656.16 109.71 655.99 110.16 655.72 110.55 655.3 110.9 654.7 111.18 653.84 111.39 652.73 111.56 651.48 111.7 650.19 111.84 648.96 112 647.9 112.18 647.02 112.34 646.23 112.51 645.51 112.69 644.81 112.88 644.12 113.1 643.4 113.35 642.65 113.62 641.9 113.91 641.15 114.21 640.4 114.51 639.65 114.8 638.9 115.12 638.15 115.49 637.4 115.86 636.64 116.19 635.89 116.41 635.14 116.5 634.4 116.38 633.64 116.08 632.85 115.68 632.06 115.28 631.31 114.95 630.61 114.8 630 114.84 629.57 115.01 629.33 115.26 629.14 115.54 628.89 115.81 628.45 116 627.7 116.14 626.55 116.26 625.07 116.36 623.41 116.43 621.7 116.48 620.08 116.5 618.7 116.45 617.57 116.33 616.58 116.18 615.69 116.05 614.84 115.97 613.99 116 613.1 116.18 612.18 116.5 611.28 116.87 610.38 117.23 609.46 117.49 608.5 117.6 607.5 117.53 606.42 117.33 605.28 117.04 604.1 116.7 602.92 116.34 601.78 116 600.7 115.68 599.67 115.37 598.66 115.03 597.69 114.66 596.76 114.22 595.89 113.7 595.1 113.08 594.39 112.36 593.74 111.59 593.15 110.78 592.62 109.98 592.14 109.2 591.7 108.48 591.3 107.78 590.93 107.09 590.62 106.36 590.37 105.58 590.19 104.7 590.1 103.67 590.16 102.51 590.37 101.28 590.66 100.07 590.94 98.95 591.15 98 591.2 97.28 591.03 96.73 590.67 96.27 590.24 95.83 589.84 95.3 589.56 94.6 589.5 93.7 589.7ZM75.47 635.81 75.72 635.67 76.03 635.58 76.33 635.55 76.61 635.59 76.8 635.7 76.93 635.93 77.03 636.29 77.09 636.71 77.11 637.14 77.08 637.52 77 637.8 76.83 638 76.58 638.16 76.27 638.27 75.97 638.32 75.69 638.3 75.5 638.2 75.37 637.96 75.27 637.59 75.21 637.14 75.19 636.69 75.22 636.29 75.3 636Z" fill="rgb(0,0,0)" fill-rule="evenodd"/><path d="M109.1 594.1 107.4 593.4 106.9 592.9 105.4 592.4 102.1 592.6 101.9 592.9 99.6 592.9 99.4 593.1 96.6 593.1 94.9 592.1 93.9 592.1 87.6 595.4 83.9 598.6 82.6 599.1 80.4 600.9 79.9 601.6 79.9 602.1 80.4 602.9 82.6 604.9 83.1 606.1 83.1 607.6 81.9 611.1 80.9 612.1 78.1 613.1 72.9 612.9 72.9 613.9 73.4 614.4 76.6 616.1 77.9 617.6 77.9 618.9 76.1 621.6 74.6 622.9 73.9 622.9 73.6 623.1 69.4 622.9 68.1 623.4 65.9 623.6 64.6 624.1 63.4 625.4 62.6 627.4 62.6 629.1 64.9 631.1 65.6 632.9 65.6 634.1 65.1 635.1 63.1 637.4 63.4 637.9 63.4 640.4 63.1 640.6 63.1 642.4 62.9 642.6 62.9 644.6 65.6 647.6 68.6 652.1 70.6 654.4 71.9 654.6 73.6 653.4 74.9 652.9 73.9 649.4 74.1 645.1 75.1 643.4 75.6 642.9 76.9 642.4 78.1 642.6 79.1 644.1 79.4 648.4 79.6 648.6 79.6 650.6 79.9 651.4 81.4 652.6 83.1 655.6 83.6 655.9 85.6 655.9 88.1 654.6 88.9 654.6 90.9 653.9 92.4 653.9 92.6 654.1 93.9 654.1 94.1 654.4 95.9 654.6 98.6 656.4 99.9 656.4 101.6 654.4 103.9 653.4 105.9 653.4 107.6 654.1 108.4 654.1 109.1 653.4 109.6 649.9 111.6 645.4 112.4 640.1 114.4 634.6 113.4 631.9 113.4 630.1 114.4 626.9 114.4 623.9 114.6 623.6 114.6 611.9 114.9 611.6 114.9 610.4 115.4 608.9 115.4 605.1 115.1 604.9 114.9 602.4 113.9 599.1 112.4 596.6ZM76.1 635.4 76.6 635.4 77.4 636.1 77.4 637.9 76.6 638.6 75.6 638.6 75.1 637.9 75.1 636.1Z" fill="rgb(11,11,11)" fill-rule="evenodd"/><path d="M110.4 596.6 107.4 595.1 103.6 593.9 99.4 593.9 99.1 594.1 94.4 594.4 90.6 595.6 89.9 595.6 88.1 596.4 85.9 598.4 84.6 600.6 84.6 601.6 84.4 601.9 84.6 607.6 84.4 607.9 84.1 609.9 83.1 612.4 80.4 615.1 79.9 616.4 79.6 619.4 78.1 621.6 75.1 624.4 74.4 624.4 74.1 624.6 70.1 624.4 68.6 624.9 67.4 624.9 65.4 625.6 64.6 626.4 64.1 627.9 64.1 629.4 65.4 631.1 66.1 633.4 65.9 634.6 64.6 636.9 64.9 637.1 64.9 639.1 65.1 639.4 64.9 639.9 64.9 643.9 68.6 649.4 70.9 651.9 72.4 651.9 73.6 651.4 73.9 650.9 73.4 649.1 73.6 645.4 74.4 643.6 75.6 642.4 76.4 642.1 77.9 642.1 79.1 643.1 79.6 644.4 80.1 649.4 82.6 651.6 84.4 654.1 85.4 654.1 86.9 652.6 87.1 650.6 87.6 649.4 88.4 649.6 90.6 652.1 92.1 652.9 95.6 653.4 95.9 653.6 97.1 653.6 97.4 653.9 99.6 653.9 104.9 652.1 106.9 651.1 108.4 649.6 110.4 646.4 111.1 643.9 111.4 639.6 111.9 638.1 111.9 636.1 112.1 635.9 112.1 634.4 112.4 634.1 112.6 629.1 113.4 626.4 113.6 617.6 113.9 617.4 113.9 609.4 114.1 609.1 113.9 602.1 112.6 598.9ZM75.9 635.1 76.9 635.1 77.6 635.9 77.9 636.6 77.6 638.1 76.9 638.9 75.6 638.9 74.9 638.1 74.6 637.4 74.9 635.9Z" fill="rgb(21,21,21)" fill-rule="evenodd"/><path d="M102.9 594.4 99.9 594.4 99.6 594.6 95.9 594.9 93.1 595.9 92.1 595.9 89.4 596.6 87.6 597.6 86.6 598.6 85.6 600.6 85.6 602.4 85.4 602.6 85.4 605.6 85.6 605.9 85.4 611.6 85.1 611.9 85.1 613.4 84.6 614.4 84.4 616.9 84.1 617.1 84.1 619.9 83.9 620.1 83.9 622.9 83.6 623.1 83.6 628.4 83.4 628.6 83.4 633.6 83.6 633.9 83.6 637.1 83.9 637.4 84.1 640.1 85.4 643.1 87.6 646.1 89.1 648.9 91.1 651.4 92.9 652.4 95.4 652.6 95.6 652.9 97.4 652.9 97.6 653.1 100.6 652.9 104.6 651.4 106.6 650.1 109.1 647.4 109.9 645.9 110.4 643.1 110.6 642.9 110.6 639.9 111.1 638.1 111.1 635.4 111.4 635.1 111.9 629.6 112.1 629.4 112.1 628.1 112.6 626.6 112.6 624.9 112.9 624.6 112.9 621.6 113.1 621.4 113.1 610.6 113.4 610.4 113.4 603.9 113.1 603.6 112.9 601.1 111.6 598.6 110.1 597.4 104.9 594.9 103.1 594.6Z" fill="rgb(32,32,32)" fill-rule="evenodd"/><path d="M103.4 594.9 97.4 595.1 97.1 595.4 95.4 595.6 93.1 596.6 92.1 596.6 89.4 597.4 88.4 597.9 87.1 599.1 86.4 600.9 86.6 614.1 86.1 615.1 85.9 617.4 85.6 617.6 85.6 620.4 85.4 620.6 85.4 623.4 85.1 623.6 85.1 628.9 84.9 629.1 84.9 633.1 85.1 633.4 85.4 638.4 85.6 638.6 85.9 640.4 87.1 642.6 88.1 645.4 90.6 649.6 92.4 651.4 94.9 652.1 97.4 652.1 97.6 652.4 100.9 652.1 104.9 650.4 106.6 649.1 108.4 647.4 109.1 646.1 109.9 643.6 110.1 638.9 110.4 638.6 110.4 635.4 110.6 635.1 110.6 633.6 110.9 633.4 110.9 632.1 111.4 630.4 111.4 628.9 111.6 628.6 111.9 625.6 112.1 625.4 112.1 623.1 112.4 622.9 112.6 610.1 112.9 609.9 112.6 602.6 111.4 599.4 110.4 598.4 108.9 597.4Z" fill="rgb(42,42,42)" fill-rule="evenodd"/><path d="M102.1 595.1 100.1 595.1 99.9 595.4 96.9 595.6 93.6 597.1 89.6 598.1 87.9 599.4 87.1 601.1 87.1 604.9 87.4 605.1 87.4 607.6 87.1 608.4 87.4 608.6 87.4 610.1 87.6 610.4 87.6 613.6 87.4 613.9 87.4 614.9 86.6 617.6 86.6 620.4 86.4 620.6 86.4 623.4 86.1 623.6 85.9 633.1 86.1 633.4 86.4 638.4 86.9 640.1 87.6 641.4 88.1 643.4 89.9 647.1 91.4 649.4 92.6 650.6 94.6 651.4 97.4 651.4 97.6 651.6 100.9 651.4 103.9 650.1 106.6 648.1 107.9 646.9 108.6 645.6 109.4 642.9 109.6 636.1 109.9 635.9 109.9 633.9 110.1 633.6 110.1 632.4 110.4 632.1 110.6 629.4 110.9 629.1 110.9 627.6 111.1 627.4 111.1 625.9 111.4 625.6 111.6 620.4 111.9 620.1 111.9 616.9 112.1 616.6 112.1 612.1 112.4 611.9 112.1 603.1 111.1 600.1 109.4 598.4 104.4 595.6 102.4 595.4Z" fill="rgb(53,53,53)" fill-rule="evenodd"/><path d="M103.4 595.6 98.9 595.6 98.6 595.9 97.4 595.9 95.9 596.4 93.1 597.9 90.1 598.9 88.9 599.6 88.1 600.9 88.1 601.9 87.9 602.1 87.9 603.4 88.1 603.6 88.1 608.6 88.4 608.9 88.4 614.9 87.9 616.4 87.4 624.6 87.1 624.9 87.1 633.9 87.4 634.1 87.4 637.1 88.9 642.6 90.9 646.9 93.1 649.9 95.9 650.6 99.9 650.6 100.1 650.4 101.1 650.4 104.1 648.9 107.1 646.4 107.9 645.1 108.4 643.6 108.4 642.4 108.6 642.1 108.6 639.1 108.9 638.9 108.9 637.4 109.1 637.1 109.1 634.6 109.4 634.4 109.4 632.9 109.6 632.6 109.9 629.6 110.1 629.4 110.4 625.4 110.6 625.1 110.6 623.6 111.1 621.9 111.1 618.9 111.4 618.6 111.4 617.1 111.6 616.9 111.6 613.9 111.9 613.6 111.6 603.1 110.6 600.4 108.6 598.4 107.1 597.4Z" fill="rgb(64,64,64)" fill-rule="evenodd"/><path d="M102.9 595.9 97.9 596.1 92.9 598.4 91.6 599.6 90.1 604.1 90.1 607.4 89.9 607.6 89.4 614.6 89.1 614.9 89.1 616.9 88.9 617.1 88.9 619.1 88.6 619.4 88.6 623.4 88.4 623.6 88.6 631.6 88.9 631.9 89.1 634.6 90.1 637.6 92.1 640.6 94.6 643.1 95.9 643.9 98.1 644.6 100.6 644.6 100.9 644.4 102.1 644.4 103.9 643.9 105.9 642.9 107.6 640.9 108.1 638.1 108.4 637.9 108.6 634.4 108.9 634.1 108.9 632.6 109.1 632.4 109.4 626.6 109.6 626.4 109.6 625.1 110.4 622.4 110.6 619.1 110.9 618.9 110.9 617.4 111.1 617.1 111.1 615.4 111.4 615.1 111.6 608.6 111.4 608.4 111.1 603.1 109.9 600.1 107.6 598.1 104.4 596.4Z" fill="rgb(74,74,74)" fill-rule="evenodd"/><path d="M101.9 596.1 98.6 596.4 98.4 596.6 96.6 596.9 93.9 598.4 92.6 599.4 91.6 601.6 91.6 602.4 91.1 603.4 91.1 604.6 90.9 604.9 90.9 608.1 90.6 608.4 89.9 616.9 89.6 617.1 89.6 619.1 89.4 619.4 89.4 623.6 89.1 623.9 89.4 630.9 89.6 631.1 89.9 634.1 90.6 636.6 92.4 639.6 95.4 642.6 98.6 643.9 101.6 643.6 104.1 642.9 105.1 642.4 107.1 640.1 107.1 639.4 107.9 637.1 108.1 634.1 108.4 633.9 108.4 631.4 108.6 631.1 108.6 628.6 108.9 628.4 108.9 625.1 110.1 620.4 110.1 618.9 110.4 618.6 110.6 616.1 110.9 615.9 110.9 613.4 111.1 613.1 110.9 604.6 109.9 601.1 106.9 598.1 104.1 596.6 102.1 596.4Z" fill="rgb(85,85,85)" fill-rule="evenodd"/><path d="M102.9 596.6 99.6 596.6 99.4 596.9 97.1 597.1 94.4 598.6 92.9 600.1 91.6 604.1 91.6 607.4 91.4 607.6 90.6 616.1 90.4 616.4 90.4 618.4 90.1 618.6 89.9 627.6 90.1 627.9 90.1 631.6 90.4 631.9 90.6 634.6 91.6 637.4 93.4 639.9 96.1 642.4 98.1 643.1 100.6 643.1 100.9 642.9 102.1 642.9 103.6 642.4 105.4 641.4 106.6 639.6 107.1 636.6 107.4 636.4 107.6 633.6 107.9 633.4 108.1 625.6 109.4 621.1 109.6 618.6 110.4 615.9 110.4 613.9 110.6 613.6 110.6 610.9 110.9 610.6 110.6 609.9 110.6 606.9 110.4 606.6 110.4 604.6 109.6 601.9 107.6 599.1 106.1 598.1Z" fill="rgb(96,96,96)" fill-rule="evenodd"/><path d="M102.1 596.9 98.9 597.1 97.1 597.6 95.6 598.4 93.6 600.1 92.1 604.6 92.1 607.9 91.9 608.1 91.1 616.6 90.9 616.9 90.9 618.9 90.6 619.1 90.6 623.4 90.4 623.6 90.6 631.1 90.9 631.4 91.1 634.1 91.9 636.4 93.4 638.9 96.1 641.6 98.6 642.6 101.6 642.4 103.9 641.6 105.6 640.1 106.1 639.1 106.6 636.1 106.9 635.9 107.1 633.1 107.4 632.9 107.6 625.1 108.9 620.6 109.1 618.1 109.9 615.6 110.1 611.9 110.4 611.6 110.4 609.1 110.1 608.9 109.6 603.6 108.4 600.9 106.1 598.6 103.9 597.4Z" fill="rgb(106,106,106)" fill-rule="evenodd"/><path d="M102.4 597.4 97.9 597.9 95.6 599.1 94.1 600.6 93.6 601.6 92.6 605.4 92.6 608.6 92.4 608.9 92.1 613.4 91.9 613.6 91.9 615.6 91.6 615.9 91.4 619.9 91.1 620.1 91.1 629.6 91.4 629.9 91.4 631.9 91.6 632.1 91.6 633.4 91.9 633.6 92.1 635.4 92.6 636.1 92.6 636.6 94.4 639.1 95.9 640.6 98.4 641.9 100.6 641.9 103.4 641.1 104.6 640.4 105.4 639.1 106.4 635.4 106.4 633.9 106.6 633.6 106.9 625.9 107.1 625.6 107.4 623.1 108.4 619.9 108.4 618.6 109.4 615.1 109.6 611.9 109.9 611.6 109.9 609.1 109.6 608.9 109.1 604.4 107.6 600.9 105.9 599.1 104.4 598.1Z" fill="rgb(117,117,117)" fill-rule="evenodd"/><path d="M102.6 598.1 100.1 598.1 99.9 598.4 97.9 598.6 96.4 599.4 94.4 601.4 93.4 604.1 92.6 614.4 92.4 614.6 92.4 616.6 92.1 616.9 92.1 618.6 91.9 618.9 91.6 628.1 91.9 628.4 91.9 631.1 92.1 631.4 92.4 634.1 93.4 636.6 94.6 638.4 96.9 640.4 98.6 641.1 101.6 640.9 103.6 640.1 104.4 639.4 105.4 637.1 105.6 635.1 105.9 634.9 106.1 625.1 106.4 624.9 106.4 623.9 107.4 620.6 107.6 618.4 108.6 615.9 109.1 612.4 109.4 612.1 109.4 608.9 109.1 608.6 109.1 607.4 108.1 603.6 106.6 600.9 104.6 599.1Z" fill="rgb(128,128,128)" fill-rule="evenodd"/><path d="M98.6 599.1 96.9 599.9 95.1 601.4 93.9 604.4 93.4 612.1 93.1 612.4 93.1 615.1 92.9 615.4 92.9 616.9 92.6 617.1 92.4 622.1 92.1 622.4 92.1 627.6 92.4 627.9 92.4 630.6 92.6 630.9 92.9 633.9 93.4 635.4 94.6 637.4 96.4 638.9 98.1 639.6 101.4 639.6 103.1 638.9 104.4 637.6 105.1 635.9 105.1 634.6 105.4 634.4 105.1 634.1 105.1 631.6 104.9 631.4 104.9 630.1 104.4 628.4 104.6 622.6 104.9 622.4 105.1 619.9 105.6 618.9 107.6 616.6 108.6 614.1 108.6 613.1 108.9 612.9 108.9 608.6 107.6 604.9 105.4 601.6 104.4 600.6 101.9 599.1Z" fill="rgb(138,138,138)" fill-rule="evenodd"/><path d="M99.6 599.6 99.4 599.9 98.4 599.9 96.9 600.6 95.4 602.1 94.6 603.6 93.6 616.1 93.4 616.4 93.1 619.6 92.9 619.9 92.9 624.4 92.6 624.6 92.6 625.9 92.9 626.1 93.1 631.6 93.4 631.9 93.4 633.1 94.1 635.6 95.9 637.6 97.6 638.6 100.9 638.9 102.9 638.1 104.1 636.9 104.6 635.6 104.6 633.4 104.4 633.1 104.4 631.9 104.1 631.6 103.9 629.1 103.6 628.9 103.9 622.1 104.1 621.9 104.1 620.6 104.6 618.9 107.4 615.9 108.1 614.4 108.4 612.4 108.6 612.1 108.6 610.6 108.4 610.4 108.4 608.4 107.1 605.4 105.1 602.6 102.6 600.4 101.6 599.9Z" fill="rgb(149,149,149)" fill-rule="evenodd"/><path d="M98.9 600.4 98.1 600.9 97.6 600.9 96.4 601.9 95.6 602.9 94.9 604.9 94.4 615.4 94.1 615.6 93.6 620.4 93.4 620.6 93.4 628.6 93.6 628.9 94.1 633.9 94.9 635.6 97.4 637.9 98.1 638.1 101.4 638.1 103.1 637.1 104.1 635.1 103.6 631.4 103.1 629.9 103.1 628.4 102.9 628.1 103.1 622.6 103.4 622.4 103.6 619.9 104.1 618.4 107.1 615.4 108.1 613.1 108.1 609.6 107.1 606.6 104.1 602.4 102.6 601.1 101.1 600.4Z" fill="rgb(159,159,159)" fill-rule="evenodd"/><path d="M99.6 600.9 97.6 601.6 96.4 602.9 95.4 605.4 94.9 615.6 94.6 615.9 94.4 619.1 93.9 620.9 93.9 628.1 94.1 628.4 94.6 633.4 95.6 635.6 97.9 637.4 98.6 637.6 100.9 637.6 102.1 637.1 103.4 635.6 103.4 633.4 103.1 633.1 103.1 631.9 102.9 631.6 102.6 629.1 102.4 628.9 102.6 622.1 102.9 621.9 103.1 619.4 103.6 618.1 107.1 614.6 107.9 612.6 107.9 610.9 107.6 610.6 107.4 608.4 104.4 603.6 101.9 601.4Z" fill="rgb(170,170,170)" fill-rule="evenodd"/><path d="M98.9 601.6 97.9 602.1 96.9 603.1 96.1 604.9 95.9 608.9 95.6 609.1 95.6 612.4 95.4 612.6 95.4 615.9 95.1 616.1 95.1 617.6 94.9 617.9 94.6 620.6 94.1 622.1 94.1 625.4 94.4 625.6 94.4 627.6 94.9 629.1 95.4 633.9 95.9 634.9 97.4 636.4 98.4 636.9 101.1 636.9 102.6 635.6 102.9 634.9 102.4 631.4 101.9 629.9 102.1 621.1 102.4 620.9 102.6 618.9 103.1 617.9 106.4 615.1 107.1 613.9 107.6 611.6 107.4 611.4 107.1 608.9 106.4 607.4 103.9 603.9 101.6 601.9 100.9 601.6Z" fill="rgb(181,181,181)" fill-rule="evenodd"/><path d="M99.1 602.1 97.4 603.4 96.4 606.4 95.9 615.4 95.6 615.6 95.6 617.1 95.4 617.4 95.4 619.1 94.6 621.6 94.6 626.1 95.6 629.4 96.4 634.1 98.6 636.1 100.9 636.1 101.9 635.1 101.9 633.4 101.4 631.6 101.4 628.1 101.6 627.9 101.6 622.4 101.4 622.1 101.6 621.9 101.6 619.9 102.1 618.1 103.1 617.1 104.9 616.1 106.4 614.6 107.1 612.9 107.1 610.4 105.9 607.4 103.9 604.6 101.4 602.4 100.9 602.1Z" fill="rgb(191,191,191)" fill-rule="evenodd"/><path d="M100.6 602.6 99.1 602.6 97.9 603.6 97.1 605.4 96.9 608.4 96.6 608.6 96.6 610.9 96.4 611.1 95.9 618.9 94.9 622.4 94.9 625.1 95.1 625.4 95.4 627.4 96.1 628.9 97.6 630.1 99.6 630.1 100.6 629.4 101.1 628.1 101.4 625.1 101.1 624.9 101.1 622.9 100.9 622.6 100.9 619.9 101.1 619.6 101.4 617.9 102.1 617.1 104.6 615.9 106.1 614.4 106.9 612.6 106.6 609.6 105.6 607.6 103.4 604.6 101.6 603.1Z" fill="rgb(202,202,202)" fill-rule="evenodd"/><path d="M100.4 603.1 98.9 603.4 98.4 603.9 97.6 605.6 97.4 608.4 97.1 608.6 97.1 610.4 96.9 610.6 96.4 618.6 96.1 618.9 95.9 620.9 95.4 621.9 95.4 625.6 96.4 628.1 98.1 629.4 99.1 629.4 100.1 628.9 100.9 627.4 100.9 624.6 100.6 624.4 100.6 623.1 100.1 621.6 100.6 617.6 101.4 616.6 102.9 616.4 104.4 615.6 105.9 614.1 106.6 612.4 106.4 610.1 105.1 607.6 102.1 604.1Z" fill="rgb(212,212,212)" fill-rule="evenodd"/><path d="M100.6 603.9 98.9 604.1 98.1 606.1 97.9 608.6 97.6 608.9 97.6 610.6 97.4 610.9 96.9 618.9 95.6 622.9 95.6 624.4 96.4 626.9 98.1 628.6 99.6 628.4 100.4 627.4 100.4 624.9 99.6 622.4 99.6 619.1 99.9 618.9 100.1 616.9 100.9 616.1 103.6 615.6 105.6 613.9 106.1 612.9 106.1 610.6 105.4 608.9 103.1 605.9 101.9 604.6Z" fill="rgb(223,223,223)" fill-rule="evenodd"/><path d="M100.1 604.4 99.4 604.6 98.4 607.6 98.1 611.1 97.9 611.4 97.9 613.9 97.6 614.1 97.4 619.4 96.1 623.1 96.4 625.4 97.4 627.4 98.1 627.9 99.1 627.9 99.9 627.1 99.9 625.1 98.9 621.9 98.9 620.1 99.1 619.9 99.4 617.1 100.6 615.6 101.1 615.4 102.9 615.4 104.6 614.4 105.6 613.1 105.9 612.4 105.6 610.4 104.4 608.4 101.9 605.4Z" fill="rgb(234,234,234)" fill-rule="evenodd"/><path d="M97.9 620.9 96.9 622.6 96.9 624.9 97.9 626.9 98.9 627.1 99.4 626.4 99.4 625.9ZM100.4 605.4 99.6 605.9 99.1 607.1 99.1 608.6 98.9 608.9 98.9 610.4 98.6 610.6 98.6 613.1 98.4 613.4 98.4 617.6 98.6 616.6 100.4 614.9 103.1 614.6 104.4 613.9 105.4 612.4 105.4 611.4 104.9 610.1 102.4 606.9 101.4 605.9Z" fill="rgb(244,244,244)" fill-rule="evenodd"/><path d="M100.9 606.6 100.4 606.6 99.9 607.6 99.6 611.1 99.4 611.4 99.4 614.4 100.9 613.9 102.9 613.9 104.6 612.1 104.4 610.9Z" fill="rgb(255,255,255)" fill-rule="evenodd"/></g><g filter="url(#fm9)"><path d="M103.3 213 103.26 213.78 103.37 214.61 103.59 215.47 103.88 216.33 104.2 217.18 104.5 218 104.83 218.77 105.24 219.5 105.68 220.22 106.09 220.94 106.45 221.7 106.7 222.5 106.82 223.33 106.85 224.17 106.82 225.03 106.76 225.94 106.71 226.93 106.7 228 106.74 229.2 106.8 230.51 106.87 231.89 106.93 233.29 106.98 234.68 107 236 107.01 237.31 107.01 238.66 107.01 239.98 106.96 241.23 106.87 242.36 106.7 243.3 106.44 244 106.09 244.49 105.69 244.86 105.27 245.17 104.86 245.53 104.5 246 104.16 246.56 103.81 247.13 103.48 247.73 103.19 248.4 102.95 249.14 102.8 250 102.8 251.06 102.95 252.33 103.16 253.69 103.35 255 103.42 256.15 103.3 257 102.99 257.49 102.56 257.69 102.01 257.73 101.37 257.71 100.63 257.76 99.8 258 98.83 258.48 97.69 259.11 96.46 259.81 95.2 260.49 93.99 261.05 92.9 261.4 91.93 261.51 91.04 261.45 90.19 261.27 89.37 261.03 88.55 260.79 87.7 260.6 86.85 260.5 86.03 260.43 85.21 260.37 84.36 260.26 83.47 260.05 82.5 259.7 81.45 259.11 80.33 258.3 79.16 257.39 77.96 256.52 76.77 255.81 75.6 255.4 74.4 255.31 73.14 255.46 71.89 255.78 70.69 256.18 69.61 256.61 68.7 257 68 257.32 67.47 257.63 67.06 257.96 66.71 258.35 66.38 258.85 66 259.5 65.56 260.31 65.1 261.26 64.65 262.31 64.24 263.43 63.92 264.61 63.7 265.8 63.55 267.07 63.42 268.46 63.37 269.9 63.45 271.31 63.71 272.64 64.2 273.8 65.04 274.8 66.21 275.7 67.56 276.51 68.94 277.23 70.2 277.89 71.2 278.5 71.91 278.98 72.44 279.32 72.86 279.59 73.21 279.87 73.58 280.25 74 280.8 74.49 281.56 74.99 282.47 75.49 283.47 75.99 284.51 76.46 285.54 76.9 286.5 77.25 287.45 77.51 288.44 77.76 289.42 78.04 290.33 78.43 291.11 79 291.7 79.73 292.06 80.58 292.22 81.53 292.25 82.59 292.23 83.75 292.22 85 292.3 86.47 292.53 88.17 292.87 89.98 293.23 91.75 293.51 93.33 293.63 94.6 293.5 95.5 292.98 96.14 292.11 96.61 291.07 96.97 290.06 97.3 289.24 97.7 288.8 98.08 288.83 98.36 289.21 98.62 289.78 98.94 290.4 99.37 290.93 100 291.2 100.88 291.15 101.96 290.89 103.17 290.53 104.41 290.19 105.62 289.97 106.7 290 107.7 290.31 108.7 290.82 109.65 291.46 110.53 292.16 111.29 292.86 111.9 293.5 112.27 294.11 112.4 294.74 112.41 295.37 112.44 295.97 112.59 296.53 113 297 113.71 297.41 114.64 297.77 115.71 298.09 116.81 298.34 117.87 298.51 118.8 298.6 119.59 298.61 120.31 298.54 120.98 298.4 121.64 298.18 122.3 297.88 123 297.5 123.75 297.04 124.55 296.49 125.35 295.87 126.13 295.16 126.86 294.37 127.5 293.5 128.09 292.63 128.67 291.77 129.19 290.83 129.62 289.71 129.94 288.3 130.1 286.5 130.07 284.21 129.86 281.49 129.53 278.49 129.13 275.34 128.74 272.2 128.4 269.2 128.11 266.24 127.82 263.19 127.52 260.14 127.23 257.2 126.92 254.45 126.6 252 126.26 249.85 125.9 247.91 125.53 246.17 125.17 244.62 124.82 243.24 124.5 242 124.24 240.98 124.02 240.2 123.83 239.59 123.61 239.07 123.35 238.56 123 238 122.53 237.44 121.96 236.94 121.33 236.46 120.71 235.95 120.15 235.34 119.7 234.6 119.38 233.67 119.14 232.6 118.96 231.43 118.81 230.24 118.66 229.07 118.5 228 118.29 227.02 118.04 226.09 117.8 225.18 117.6 224.29 117.49 223.4 117.5 222.5 117.68 221.58 118.01 220.65 118.42 219.72 118.86 218.8 119.24 217.89 119.5 217 119.68 216.12 119.83 215.24 119.93 214.38 119.95 213.54 119.88 212.74 119.7 212 119.39 211.3 118.97 210.62 118.46 209.98 117.86 209.4 117.21 208.9 116.5 208.5 115.71 208.2 114.82 207.99 113.86 207.86 112.88 207.79 111.91 207.77 111 207.8 110.11 207.86 109.21 207.96 108.33 208.11 107.48 208.32 106.69 208.62 106 209 105.37 209.49 104.79 210.09 104.26 210.76 103.83 211.49 103.5 212.24Z" fill="rgb(0,0,0)" fill-rule="evenodd"/><path d="M109.6 209.1 107.4 210.1 106.1 211.4 105.4 212.9 105.4 215.4 105.9 217.1 108.1 220.4 109.1 222.6 109.4 241.1 109.1 241.4 109.1 242.6 108.9 242.9 108.6 244.6 108.1 245.6 106.4 247.4 105.1 249.9 105.1 251.9 105.6 253.1 105.6 255.9 105.9 256.1 105.6 257.6 105.1 258.6 103.6 259.9 100.9 260.1 94.1 263.6 90.6 263.9 87.9 262.9 83.9 262.6 81.6 261.9 79.6 260.6 76.6 258.1 75.4 257.6 73.1 257.6 70.4 258.4 68.9 259.1 67.4 260.6 66.6 262.4 66.4 264.4 66.1 264.6 66.1 266.4 65.9 266.6 65.9 272.1 66.9 273.6 70.6 275.9 71.6 276.1 73.1 277.4 73.9 277.6 75.9 279.6 76.9 281.1 79.1 285.9 80.1 289.4 80.9 290.1 85.9 290.1 88.4 290.9 93.4 291.6 94.4 290.9 95.6 288.1 97.1 286.9 98.9 286.9 101.1 288.9 102.1 288.9 105.1 287.9 107.4 287.9 109.1 289.1 110.9 292.6 112.1 293.6 112.6 294.9 114.1 296.4 117.4 297.9 120.9 297.9 122.6 297.4 124.4 296.4 126.4 294.1 128.1 290.6 128.6 288.9 128.6 287.1 128.9 286.9 128.9 279.9 128.6 279.6 128.4 274.4 128.1 274.1 128.1 272.1 127.9 271.9 127.6 266.9 127.4 266.6 127.4 264.6 127.1 264.4 127.1 262.1 126.9 261.9 126.9 259.6 126.6 259.4 126.1 252.9 125.9 252.6 125.4 248.9 125.1 248.6 124.6 245.9 122.9 240.9 121.6 238.6 117.6 235.1 117.1 233.6 117.1 232.4 116.6 230.9 116.6 229.1 116.1 227.9 116.1 226.4 115.6 225.4 115.6 224.1 115.4 223.9 115.4 222.1 116.1 220.4 116.9 219.6 118.1 217.1 118.4 215.1 118.6 214.9 118.4 212.6 117.9 211.6 115.9 209.9 114.6 209.6 113.9 209.1Z" fill="rgb(11,11,11)" fill-rule="evenodd"/><path d="M83.4 276.4 81.4 277.4 80.4 278.6 80.1 280.9 80.4 281.1 80.9 283.9 81.9 285.9 82.9 287.1 84.1 287.6 87.4 287.6 88.4 287.1 89.6 285.9 90.9 283.4 90.9 282.6 91.1 282.4 90.9 280.4 89.9 278.6 88.1 276.9 85.9 276.1ZM75.1 259.6 73.1 259.4 72.9 259.6 71.1 259.9 69.6 260.6 68.4 262.4 68.1 264.6 68.4 264.9 68.6 266.6 71.1 269.1 71.9 269.1 72.1 269.4 74.9 269.1 75.9 268.6 77.6 266.6 78.1 264.9 78.1 262.6 77.6 261.6 76.4 260.4ZM115.1 236.6 112.6 238.1 111.1 239.9 110.4 241.9 110.1 243.9 108.6 249.4 108.6 252.6 108.4 252.9 108.4 254.6 108.1 254.9 107.9 261.4 107.6 261.6 107.6 263.9 107.4 264.1 107.4 279.4 107.6 279.6 107.6 281.6 107.9 281.9 107.9 283.6 108.1 283.9 108.4 285.6 112.1 293.1 114.6 295.9 117.1 297.1 121.4 297.1 123.9 295.9 125.6 293.9 127.1 290.9 127.9 288.1 127.9 285.9 128.1 285.6 127.9 278.9 127.6 278.6 127.6 276.1 127.4 275.9 127.4 273.6 127.1 273.4 127.1 271.1 126.9 270.9 126.9 268.4 126.6 268.1 126.6 265.9 126.4 265.6 125.6 255.9 125.4 255.6 125.1 252.1 124.6 250.9 124.1 247.4 122.9 243.4 121.1 239.6 118.1 236.9 117.4 236.6ZM110.1 210.6 108.4 211.4 107.6 212.1 106.9 213.9 106.9 214.9 107.9 217.4 110.4 220.1 111.6 220.6 112.6 220.6 113.9 220.1 115.9 218.1 116.9 215.6 116.9 213.1 115.9 211.9 114.6 211.1 113.1 210.6Z" fill="rgb(21,21,21)" fill-rule="evenodd"/><path d="M115.6 237.6 113.9 238.6 112.1 240.1 111.1 242.4 110.6 245.4 110.1 246.6 109.9 250.4 109.6 250.6 109.6 253.6 109.4 253.9 109.1 257.9 108.9 258.1 108.9 262.6 108.6 262.9 108.6 265.1 108.4 265.4 108.4 278.1 108.6 278.4 108.9 282.6 109.1 282.9 109.1 284.1 109.4 284.4 109.6 286.1 112.1 292.1 114.4 295.1 115.4 295.9 117.9 296.9 120.4 296.9 123.1 295.9 124.9 294.1 126.4 291.4 127.1 288.9 127.1 287.6 127.4 287.4 127.4 279.6 127.1 279.4 127.1 277.1 126.9 276.9 126.9 274.6 126.6 274.4 126.6 272.1 126.4 271.9 126.1 266.9 125.9 266.6 125.9 264.6 125.6 264.4 125.6 262.1 125.4 261.9 125.4 260.1 125.1 259.9 124.9 255.6 124.6 255.4 124.6 253.6 124.4 253.4 124.4 252.1 124.1 251.9 123.4 247.4 122.1 243.4 120.6 240.1 117.9 237.6Z" fill="rgb(32,32,32)" fill-rule="evenodd"/><path d="M116.4 238.4 114.4 239.4 112.4 241.4 110.9 247.1 110.6 253.1 110.4 253.4 110.4 254.9 110.1 255.1 109.9 261.6 109.6 261.9 109.6 264.1 109.4 264.4 109.4 279.1 109.6 279.4 109.9 283.6 110.1 283.9 110.6 286.9 111.9 290.6 112.9 292.6 115.6 295.6 117.4 296.4 121.1 296.4 123.1 295.4 124.6 293.9 126.1 290.9 126.1 290.1 126.9 287.9 126.9 279.4 126.6 279.1 126.6 277.1 126.4 276.9 125.6 267.4 125.4 267.1 125.4 264.9 125.1 264.6 125.1 262.6 124.9 262.4 124.9 260.9 124.6 260.6 124.1 254.6 123.9 254.4 123.9 253.1 123.6 252.9 123.6 251.9 123.4 251.6 123.4 250.6 123.1 250.4 123.1 249.4 122.9 249.1 122.4 246.4 121.4 243.4 119.9 240.4 118.1 238.6Z" fill="rgb(42,42,42)" fill-rule="evenodd"/><path d="M116.4 239.4 115.4 239.9 113.4 241.6 112.9 242.6 112.9 243.4 112.1 245.6 112.1 246.6 111.9 246.9 111.6 252.1 111.4 252.4 111.4 254.1 111.1 254.4 111.1 255.9 110.9 256.1 110.6 262.4 110.4 262.6 110.4 264.9 110.1 265.1 110.1 279.1 110.4 279.4 110.4 282.4 110.6 282.6 111.1 286.9 112.4 290.9 113.1 292.4 114.6 294.4 115.9 295.4 117.6 296.1 120.6 296.1 122.6 295.4 124.4 293.6 125.4 291.9 126.4 288.4 126.6 280.9 126.4 280.6 126.4 278.6 126.1 278.4 125.6 272.4 125.4 272.1 124.9 264.6 124.6 264.4 124.6 262.6 124.4 262.4 124.1 258.9 123.9 258.6 123.9 257.1 123.6 256.9 123.1 252.6 122.6 251.6 122.6 250.6 121.4 246.6 121.4 245.9 119.4 241.1 118.1 239.6Z" fill="rgb(53,53,53)" fill-rule="evenodd"/><path d="M116.6 248.1 115.4 248.6 113.4 250.6 112.6 252.1 112.1 255.4 111.9 255.6 111.4 262.9 111.1 263.1 111.1 265.6 110.9 265.9 110.9 281.4 111.1 281.6 111.1 283.9 111.6 285.6 111.6 287.1 112.6 290.6 113.4 292.1 114.6 293.9 116.1 295.1 117.9 295.9 120.4 295.9 122.4 295.1 124.1 293.4 125.1 291.6 126.1 287.9 126.1 279.6 125.9 279.4 125.9 277.6 125.6 277.4 125.6 275.9 125.1 274.1 124.1 262.6 123.9 262.4 123.4 257.4 123.1 257.1 122.4 252.6 121.1 249.6 119.9 248.4 119.1 248.1Z" fill="rgb(64,64,64)" fill-rule="evenodd"/><path d="M117.4 249.4 116.1 249.9 114.6 251.1 113.6 253.1 113.1 255.9 112.9 256.1 112.4 262.1 112.1 262.4 112.1 264.4 111.9 264.6 111.4 280.6 111.6 280.9 111.6 283.9 111.9 284.1 112.1 287.6 113.6 291.9 115.9 294.6 117.4 295.4 119.9 295.6 120.1 295.4 121.1 295.4 122.9 294.4 124.1 292.9 125.1 290.9 125.6 289.1 125.6 287.9 125.9 287.6 125.9 280.6 125.6 280.4 125.6 278.4 125.4 278.1 125.1 275.4 124.9 275.1 124.6 272.6 124.4 272.4 124.4 270.1 124.1 269.9 124.1 267.6 123.9 267.4 123.9 265.4 123.6 265.1 123.6 263.1 123.1 261.4 123.1 259.9 122.9 259.6 122.9 258.4 121.9 255.1 121.6 253.1 119.9 250.1 118.4 249.4Z" fill="rgb(74,74,74)" fill-rule="evenodd"/><path d="M117.1 250.6 115.9 251.4 115.1 252.4 113.9 256.6 113.6 260.4 113.4 260.6 113.4 262.4 113.1 262.6 113.1 264.6 112.9 264.9 112.6 272.9 112.1 274.6 112.1 284.4 112.4 284.6 112.6 288.1 113.9 291.6 116.1 294.4 116.9 294.9 118.9 295.1 119.1 295.4 119.4 295.1 120.9 295.1 122.4 294.4 123.6 293.1 124.6 291.4 125.4 288.9 125.4 287.6 125.6 287.4 125.6 281.9 125.4 281.6 125.4 279.4 125.1 279.1 124.9 276.4 123.6 272.1 122.6 262.1 122.1 260.6 121.9 258.1 120.9 255.4 120.9 254.4 119.6 251.6 118.6 250.6Z" fill="rgb(85,85,85)" fill-rule="evenodd"/><path d="M117.6 252.1 116.6 252.9 116.1 253.9 115.6 256.6 115.4 256.9 115.1 260.6 114.9 260.9 114.9 262.6 114.6 262.9 114.6 264.9 114.4 265.1 114.1 271.1 113.6 271.9 112.6 275.1 112.6 284.6 112.9 284.9 112.9 287.4 113.1 287.6 113.4 289.6 115.1 292.9 117.1 294.6 117.9 294.9 120.4 294.9 122.1 294.1 123.6 292.6 124.4 291.4 125.1 288.9 125.1 287.6 125.4 287.4 125.4 283.1 125.1 282.9 125.1 280.4 124.9 280.1 124.9 278.9 124.6 278.6 124.6 277.4 124.4 277.1 124.1 275.4 122.1 270.9 121.9 267.6 121.6 267.4 121.6 265.1 121.4 264.9 121.4 263.4 120.9 262.1 120.6 259.4 119.4 255.6 119.1 253.9 118.6 252.9Z" fill="rgb(96,96,96)" fill-rule="evenodd"/><path d="M116.6 271.6 114.9 272.4 113.9 273.4 113.4 274.6 113.4 275.9 113.1 276.1 113.1 284.9 113.4 285.1 113.4 287.9 113.6 288.1 113.9 289.9 115.4 292.6 116.6 293.9 117.6 294.4 120.1 294.6 122.4 293.6 123.6 292.1 124.4 290.6 124.9 288.9 124.9 287.4 125.1 287.1 124.9 281.4 124.6 281.1 124.6 279.9 124.4 279.6 123.9 276.4 122.1 272.9 119.9 271.6Z" fill="rgb(106,106,106)" fill-rule="evenodd"/><path d="M117.4 272.6 114.6 273.9 113.9 275.4 113.9 277.9 113.6 278.1 113.6 286.4 113.9 286.6 113.9 288.4 114.9 291.1 116.9 293.6 117.9 294.1 120.6 294.1 122.1 293.4 123.1 292.4 124.4 289.9 124.6 287.4 124.9 287.1 124.6 281.9 123.1 276.1 121.9 274.1 120.6 273.1 119.1 272.6Z" fill="rgb(117,117,117)" fill-rule="evenodd"/><path d="M117.4 273.9 115.6 274.6 114.9 275.6 114.6 278.6 114.1 279.9 114.1 287.6 114.4 287.9 114.6 289.6 115.6 291.6 117.4 293.4 118.6 293.9 120.1 293.9 121.9 293.1 123.6 291.1 124.4 288.6 124.4 287.1 124.6 286.9 124.4 282.4 123.1 278.4 121.4 275.4 119.9 274.1Z" fill="rgb(128,128,128)" fill-rule="evenodd"/><path d="M118.4 277.6 116.1 278.4 115.1 279.4 114.6 280.4 114.6 281.4 114.4 281.6 114.6 288.4 115.6 290.9 117.1 292.6 118.9 293.4 120.4 293.4 121.6 292.9 123.1 291.4 123.6 290.4 123.9 288.6 124.1 288.4 124.1 286.9 124.4 286.6 124.4 285.9 124.1 285.6 124.1 282.9 123.9 282.6 123.6 280.9 122.6 278.9 121.9 278.1 120.6 277.6Z" fill="rgb(138,138,138)" fill-rule="evenodd"/><path d="M119.1 278.4 116.1 279.4 115.1 280.6 115.1 281.4 114.9 281.6 114.9 287.6 115.9 290.4 117.1 291.9 119.1 292.9 120.4 292.9 121.6 292.4 122.9 291.1 123.4 290.1 123.9 288.4 123.9 286.6 124.1 286.4 123.9 285.9 123.9 283.1 122.6 279.9 121.1 278.6Z" fill="rgb(149,149,149)" fill-rule="evenodd"/><path d="M118.4 279.1 116.9 279.6 115.6 280.9 115.4 281.6 115.4 287.9 116.1 289.9 117.1 291.1 118.9 292.1 120.1 292.4 121.6 291.9 122.6 290.9 123.1 289.9 123.6 288.1 123.6 283.4 122.9 281.1 121.6 279.6 120.6 279.1Z" fill="rgb(159,159,159)" fill-rule="evenodd"/><path d="M118.4 279.6 117.1 280.1 115.9 281.6 115.9 282.4 115.6 282.6 115.6 286.6 115.9 286.9 115.9 287.9 117.4 290.6 119.4 291.6 120.9 291.6 122.4 290.6 123.1 289.1 123.1 288.1 123.4 287.9 123.4 283.6 122.4 281.1 121.1 279.9 120.6 279.6Z" fill="rgb(170,170,170)" fill-rule="evenodd"/><path d="M119.6 279.9 117.1 280.6 116.1 282.1 116.1 287.4 117.1 289.6 117.9 290.4 119.6 291.1 120.6 291.1 121.4 290.9 122.4 289.9 122.9 288.9 122.9 288.1 123.1 287.9 123.1 283.9 121.9 281.1 121.1 280.4Z" fill="rgb(181,181,181)" fill-rule="evenodd"/><path d="M118.9 280.4 117.6 280.9 116.6 281.9 116.4 282.6 116.4 286.6 117.1 288.9 118.4 290.1 119.6 290.6 120.6 290.6 121.6 290.1 122.6 288.6 122.6 287.9 122.9 287.6 122.9 284.1 122.1 282.1 121.1 280.9 120.1 280.4Z" fill="rgb(191,191,191)" fill-rule="evenodd"/><path d="M118.6 280.9 117.9 281.1 116.9 282.4 116.9 283.1 116.6 283.4 116.9 287.1 117.6 288.9 118.4 289.6 119.4 290.1 120.6 290.1 122.1 288.9 122.6 287.1 122.6 284.6 122.1 282.9 120.9 281.1 120.4 280.9Z" fill="rgb(202,202,202)" fill-rule="evenodd"/><path d="M119.1 281.1 117.9 281.6 117.1 282.6 117.1 286.6 117.6 288.1 118.4 289.1 119.4 289.6 120.6 289.6 121.6 288.9 122.1 287.9 122.1 286.9 122.4 286.6 122.1 283.9 120.9 281.6 119.9 281.1Z" fill="rgb(212,212,212)" fill-rule="evenodd"/><path d="M118.9 281.6 117.6 282.6 117.4 283.4 117.4 285.9 117.9 287.6 118.9 288.9 120.4 289.1 121.4 288.4 121.9 287.1 121.9 284.4 121.1 282.6 120.1 281.6Z" fill="rgb(223,223,223)" fill-rule="evenodd"/><path d="M119.1 282.1 117.9 283.4 117.9 285.9 118.9 288.1 120.6 288.4 121.4 287.1 121.4 284.4 120.9 283.1 119.9 282.1Z" fill="rgb(234,234,234)" fill-rule="evenodd"/><path d="M119.1 282.9 118.4 283.9 118.6 286.4 119.4 287.6 120.4 287.6 120.9 286.9 120.9 284.6 120.4 283.4 119.6 282.9Z" fill="rgb(244,244,244)" fill-rule="evenodd"/><path d="M119.4 284.1 119.1 284.9 119.4 285.1 119.4 285.9 119.9 286.4 120.1 286.1 120.1 285.1 119.9 284.4Z" fill="rgb(255,255,255)" fill-rule="evenodd"/></g><g filter="url(#fm9)"><path d="M161.5 204.7 161.24 205.15 161.04 205.65 160.93 206.2 160.95 206.8 161.13 207.47 161.5 208.2 162.07 209.01 162.8 209.89 163.7 210.84 164.74 211.83 165.91 212.86 167.2 213.9 168.71 214.99 170.49 216.15 172.39 217.34 174.3 218.54 176.08 219.7 177.6 220.8 178.85 221.84 179.92 222.86 180.86 223.84 181.73 224.8 182.56 225.72 183.4 226.6 184.22 227.44 184.98 228.22 185.7 228.97 186.42 229.71 187.18 230.45 188 231.2 188.95 231.97 190.02 232.73 191.12 233.49 192.17 234.26 193.09 235.03 193.8 235.8 194.28 236.57 194.6 237.32 194.78 238.08 194.87 238.86 194.9 239.66 194.9 240.5 194.84 241.39 194.68 242.32 194.46 243.28 194.21 244.26 193.98 245.23 193.8 246.2 193.67 247.22 193.57 248.3 193.49 249.39 193.4 250.42 193.31 251.31 193.2 252 193.07 252.39 192.91 252.52 192.76 252.52 192.6 252.51 192.44 252.63 192.3 253 192.22 253.64 192.22 254.46 192.22 255.39 192.17 256.41 191.98 257.46 191.6 258.5 190.97 259.55 190.13 260.64 189.16 261.78 188.15 262.92 187.17 264.07 186.3 265.2 185.55 266.32 184.84 267.43 184.17 268.55 183.51 269.67 182.86 270.78 182.2 271.9 181.5 273.02 180.76 274.13 180.03 275.24 179.34 276.36 178.72 277.48 178.2 278.6 177.78 279.73 177.41 280.86 177.12 282 176.91 283.14 176.8 284.27 176.8 285.4 176.9 286.59 177.1 287.86 177.39 289.13 177.78 290.31 178.28 291.33 178.9 292.1 179.59 292.54 180.33 292.7 181.19 292.7 182.2 292.64 183.42 292.64 184.9 292.8 186.72 293.15 188.85 293.6 191.19 294.11 193.63 294.63 196.07 295.11 198.4 295.5 200.68 295.82 203.02 296.11 205.35 296.36 207.63 296.57 209.79 296.72 211.8 296.8 213.64 296.82 215.36 296.77 216.97 296.66 218.49 296.51 219.92 296.32 221.3 296.1 222.58 295.77 223.73 295.31 224.81 294.82 225.85 294.37 226.9 294.07 228 294 229.16 294.22 230.35 294.67 231.54 295.27 232.73 295.91 233.89 296.52 235 297 236.02 297.4 236.96 297.79 237.88 298.15 238.81 298.43 239.84 298.59 241 298.6 242.38 298.47 243.93 298.25 245.57 297.91 247.2 297.44 248.71 296.81 250 296 251.11 295.13 252.12 294.24 253.01 293.19 253.77 291.85 254.37 290.1 254.8 287.8 255 284.7 254.99 280.86 254.82 276.6 254.56 272.25 254.27 268.14 254 264.6 253.75 261.62 253.47 258.93 253.16 256.49 252.81 254.22 252.42 252.08 252 250 251.52 248 250.99 246.12 250.42 244.37 249.83 242.73 249.25 241.21 248.7 239.8 248.21 238.59 247.77 237.61 247.33 236.74 246.86 235.88 246.29 234.9 245.6 233.7 244.65 232.24 243.45 230.6 242.16 228.85 240.95 227.06 239.98 225.28 239.4 223.6 239.35 221.97 239.72 220.33 240.33 218.71 240.99 217.15 241.51 215.67 241.7 214.3 241.58 213.02 241.29 211.8 240.86 210.66 240.31 209.63 239.69 208.73 239 208 238.21 207.44 237.29 207.03 236.29 206.76 235.24 206.6 234.2 206.56 233.2 206.6 232.2 206.76 231.15 207.04 230.11 207.43 229.11 207.9 228.23 208.43 227.5 209 226.94 209.63 226.5 210.34 226.17 211.12 225.92 211.92 225.74 212.73 225.6 213.5 225.5 214.24 225.45 214.96 225.46 215.69 225.55 216.43 225.73 217.19 226 218 226.45 218.82 227.1 219.64 227.83 220.49 228.54 221.4 229.14 222.39 229.5 223.5 229.63 224.71 229.61 226 229.46 227.37 229.23 228.84 228.93 230.41 228.6 232.1 228.19 234.05 227.65 236.29 227.05 238.64 226.45 240.91 225.91 242.92 225.5 244.5 225.24 245.56 225.08 246.22 224.98 246.62 224.9 246.91 224.79 247.23 224.6 247.7 224.34 248.32 224.04 248.97 223.71 249.64 223.36 250.33 222.99 251.02 222.6 251.7 222.21 252.39 221.8 253.11 221.37 253.83 220.92 254.53 220.43 255.2 219.9 255.8 219.31 256.34 218.67 256.83 217.99 257.28 217.29 257.7 216.59 258.11 215.9 258.5 215.24 258.93 214.59 259.39 213.93 259.84 213.26 260.21 212.55 260.45 211.8 260.5 210.97 260.36 210.08 260.07 209.15 259.66 208.22 259.13 207.33 258.5 206.5 257.8 205.7 256.93 204.9 255.85 204.12 254.68 203.43 253.52 202.84 252.49 202.4 251.7 202.15 251.22 202.06 250.96 202.08 250.83 202.16 250.73 202.25 250.55 202.3 250.2 202.31 249.66 202.33 249.01 202.36 248.29 202.4 247.52 202.45 246.75 202.5 246 202.55 245.25 202.6 244.46 202.65 243.67 202.73 242.89 202.84 242.16 203 241.5 203.22 240.92 203.5 240.41 203.81 239.94 204.14 239.5 204.48 239.06 204.8 238.6 205.14 238.12 205.52 237.64 205.91 237.16 206.26 236.69 206.53 236.24 206.7 235.8 206.75 235.36 206.73 234.92 206.63 234.49 206.46 234.1 206.25 233.76 206 233.5 205.68 233.32 205.28 233.21 204.83 233.16 204.36 233.14 203.91 233.16 203.5 233.2 203.14 233.25 202.8 233.33 202.47 233.44 202.15 233.58 201.83 233.77 201.5 234 201.16 234.31 200.82 234.7 200.47 235.12 200.14 235.56 199.81 235.96 199.5 236.3 199.19 236.61 198.87 236.94 198.56 237.23 198.28 237.45 198.05 237.56 197.9 237.5 197.83 237.23 197.82 236.79 197.87 236.22 197.96 235.6 198.07 235.01 198.2 234.5 198.37 234.1 198.58 233.75 198.82 233.42 199.07 233.08 199.31 232.69 199.5 232.2 199.65 231.62 199.77 230.96 199.88 230.26 199.98 229.51 200.08 228.76 200.2 228 200.31 227.21 200.41 226.37 200.52 225.51 200.64 224.67 200.8 223.89 201 223.2 201.25 222.6 201.52 222.06 201.83 221.58 202.18 221.14 202.57 220.75 203 220.4 203.5 220.07 204.07 219.77 204.69 219.51 205.31 219.32 205.93 219.21 206.5 219.2 207.05 219.37 207.61 219.71 208.16 220.14 208.67 220.56 209.12 220.87 209.5 221 209.82 220.94 210.1 220.76 210.33 220.47 210.49 220.11 210.55 219.68 210.5 219.2 210.27 218.64 209.87 217.97 209.37 217.24 208.87 216.47 208.45 215.72 208.2 215 208.18 214.31 208.34 213.63 208.57 212.95 208.8 212.28 208.9 211.63 208.8 211 208.48 210.37 208.02 209.72 207.45 209.09 206.79 208.5 206.06 208 205.3 207.6 204.45 207.32 203.49 207.15 202.47 207.05 201.43 207.01 200.42 207 199.5 207 198.7 207.06 198.01 207.2 197.34 207.37 196.65 207.53 195.86 207.62 194.9 207.6 193.83 207.44 192.71 207.2 191.5 206.88 190.14 206.53 188.59 206.16 186.8 205.8 184.61 205.42 182.01 205 179.22 204.57 176.46 204.15 173.91 203.78 171.8 203.5 170.14 203.29 168.77 203.12 167.63 203 166.64 202.94 165.75 202.94 164.9 203 164.09 203.14 163.38 203.34 162.77 203.6 162.25 203.92 161.83 204.29Z" fill="rgb(0,0,0)" fill-rule="evenodd"/><path d="M162.6 204.6 161.9 205.4 161.4 207.1 161.6 207.4 161.6 208.1 162.9 210.1 167.1 213.9 174.9 218.6 180.9 222.6 183.4 224.6 188.4 229.6 190.4 232.9 191.9 233.9 194.1 236.1 195.1 238.6 195.1 240.9 194.9 241.1 194.9 242.6 194.4 243.9 194.4 245.4 194.6 245.6 194.6 251.4 194.9 251.6 194.4 257.9 192.4 261.6 190.6 263.4 188.9 264.1 186.9 266.1 185.1 269.6 181.1 275.1 179.1 282.4 179.1 286.6 179.4 286.9 179.4 288.4 179.9 289.6 180.9 290.6 183.6 290.9 187.9 292.4 192.4 292.9 194.1 293.4 197.9 293.6 198.1 293.9 200.6 293.9 200.9 294.1 202.4 294.1 202.6 294.4 204.1 294.4 204.4 294.6 207.9 294.6 208.1 294.9 218.1 294.9 219.9 294.4 221.9 294.4 227.6 292.4 229.4 292.1 230.1 292.4 232.4 294.6 233.9 296.6 234.4 296.6 236.1 297.6 237.4 297.9 238.6 298.6 243.4 298.6 243.6 298.4 244.6 298.4 246.4 297.4 251.1 292.4 252.1 290.6 252.4 288.9 252.6 288.6 252.6 286.6 252.9 286.4 252.9 278.9 252.6 278.6 252.6 274.6 252.4 274.4 252.4 270.1 252.1 269.9 252.1 266.4 251.9 266.1 251.6 260.4 251.4 260.1 251.4 257.9 251.1 257.6 251.1 256.1 250.6 254.6 250.1 250.9 249.6 249.9 249.6 249.1 249.1 248.1 248.9 246.4 248.1 244.6 248.1 243.9 247.4 241.6 245.1 236.9 242.6 233.4 241.4 231.1 240.4 230.1 238.9 227.9 237.6 225.4 237.6 224.6 237.4 224.4 237.4 221.4 238.6 218.9 239.9 215.4 239.6 212.4 238.1 209.9 235.4 208.4 232.6 208.4 229.9 209.4 228.6 210.6 227.9 212.4 227.9 216.9 228.9 218.6 230.9 220.9 231.9 223.1 231.9 228.1 231.6 228.4 231.4 231.1 230.9 232.1 230.9 233.4 229.9 236.4 229.9 237.4 229.4 238.6 228.9 241.6 228.1 243.1 228.1 244.1 227.9 244.4 227.4 247.1 224.1 254.1 222.4 256.6 220.6 258.4 215.4 261.9 213.6 262.6 211.6 262.9 211.4 262.6 209.6 262.4 206.4 260.6 203.9 258.1 202.4 256.1 200.1 251.6 200.1 250.6 200.4 250.4 200.4 244.6 200.6 244.4 200.9 241.1 201.6 239.4 203.6 236.6 203.6 236.1 202.9 236.1 200.4 238.9 199.4 239.4 198.1 238.4 198.1 237.6 197.9 237.4 197.6 232.6 197.9 232.4 198.1 228.1 198.4 227.9 198.4 226.1 198.6 225.9 198.9 223.9 200.9 220.1 202.6 218.4 203.9 217.6 205.9 217.1 206.4 216.6 206.1 214.1 206.4 213.9 206.6 211.9 206.1 210.9 204.6 209.6 201.9 208.6 199.6 208.6 199.4 208.4 196.1 208.1 195.9 207.9 191.4 207.1 190.6 206.6 189.6 206.6 189.4 206.4 188.4 206.4 185.6 205.6 184.1 205.6 183.9 205.4 180.1 204.9 179.9 204.6 176.1 204.4 175.9 204.1 173.1 203.9 172.9 203.6 165.6 203.6Z" fill="rgb(11,11,11)" fill-rule="evenodd"/><path d="M243.4 239.9 240.1 237.6 239.4 237.4 236.1 237.4 232.6 239.4 231.1 241.1 230.1 243.4 229.9 245.1 229.6 245.4 229.6 248.1 229.4 248.4 229.4 256.1 229.1 256.4 229.1 260.6 228.9 260.9 228.9 283.1 228.6 283.4 227.6 282.6 226.9 281.4 224.4 278.9 220.9 277.1 217.6 276.1 216.6 276.1 216.4 275.9 213.6 275.4 210.4 274.1 206.6 272.1 202.1 268.9 198.9 267.4 198.4 266.9 194.4 264.9 191.9 264.6 189.4 265.6 188.4 266.6 186.9 269.6 182.6 274.1 181.6 276.1 180.9 278.9 180.6 282.1 180.4 282.4 180.6 285.9 181.6 288.4 182.4 289.1 184.6 290.4 188.6 291.6 195.6 291.9 195.9 292.1 200.9 292.4 201.1 292.6 202.9 292.6 203.1 292.9 204.9 292.9 205.1 293.1 208.4 293.1 208.6 293.4 217.4 293.4 217.6 293.1 219.1 293.1 219.4 292.9 221.4 292.9 226.4 291.4 229.9 289.6 230.9 290.6 231.4 291.9 233.4 294.9 234.9 296.4 237.4 297.6 239.1 297.9 239.4 298.1 242.1 298.1 242.4 297.9 244.1 297.6 245.6 296.9 248.4 294.1 249.4 292.6 250.4 290.1 250.6 287.9 250.9 287.6 250.9 285.9 251.1 285.6 251.1 279.1 250.9 278.9 250.9 274.6 250.6 274.4 250.4 262.1 250.1 261.9 249.6 255.4 249.4 255.1 248.6 250.9 247.1 246.4 245.6 243.1ZM231.6 210.1 230.6 210.6 229.6 212.1 229.4 214.4 229.6 214.6 229.9 216.9 230.4 217.9 232.1 219.6 233.4 220.4 235.1 220.4 236.9 218.9 238.4 214.9 238.1 212.9 237.6 211.9 236.1 210.4 235.1 209.9ZM163.4 205.4 162.6 206.1 162.4 206.9 162.6 207.9 163.9 209.9 165.9 211.9 169.9 214.6 175.1 217.1 180.6 220.6 184.1 223.4 190.4 229.9 192.4 232.9 193.1 234.6 194.4 236.1 195.4 238.6 195.4 240.4 195.9 241.6 195.9 245.6 196.1 245.9 196.1 251.6 196.9 253.4 197.6 253.6 198.4 252.4 198.4 250.6 198.6 250.4 198.6 244.9 198.4 244.6 198.4 242.9 197.4 241.6 196.9 240.4 196.6 237.1 196.4 236.9 196.1 232.4 196.4 232.1 196.4 229.9 196.6 229.6 196.6 226.4 196.9 226.1 197.1 224.1 198.4 221.1 199.9 218.9 203.4 214.9 204.1 212.9 203.9 211.4 202.6 210.4 201.9 210.1 194.9 209.4 180.4 205.4 176.4 205.1 176.1 204.9 174.4 204.9 174.1 204.6 170.6 204.6 170.4 204.4 165.4 204.6Z" fill="rgb(21,21,21)" fill-rule="evenodd"/><path d="M182.1 276.6 181.6 279.6 181.4 279.9 181.4 281.9 181.1 282.1 181.6 286.1 182.1 286.9 182.1 287.4 183.1 288.6 184.6 289.6 185.1 289.6 187.1 290.6 189.4 290.9 189.6 291.1 194.6 291.1 197.1 290.4 200.6 290.4 200.9 290.6 207.9 291.1 208.1 291.4 217.1 291.4 217.4 291.1 221.6 290.9 221.9 290.6 224.6 290.1 225.9 289.6 226.9 288.4 226.4 286.1 225.4 284.1 224.1 282.4 222.6 281.1 218.9 279.4 212.9 278.1 209.6 276.6 209.1 276.6 203.4 273.4 200.9 271.4 193.1 267.4 191.6 266.9 190.4 267.1 189.6 267.9 188.4 270.4 185.4 272.4 183.1 274.6ZM236.6 238.4 234.9 239.1 232.1 241.4 231.4 242.6 230.6 244.9 230.4 256.6 230.1 256.9 230.1 261.1 229.9 261.4 229.9 281.1 230.1 281.4 230.1 283.6 230.4 283.9 230.6 287.4 231.4 289.1 231.4 289.9 233.6 294.1 235.4 295.9 237.1 296.9 238.6 297.4 242.9 297.4 244.9 296.6 247.1 294.6 249.1 291.4 249.6 288.6 249.9 288.4 249.9 286.9 250.1 286.6 250.1 275.9 249.9 275.6 249.9 267.6 249.6 267.4 249.6 262.4 249.4 262.1 249.1 257.4 248.9 257.1 248.9 255.6 248.6 255.4 247.9 251.1 245.1 244.1 243.1 241.1 241.9 239.9 239.1 238.4ZM232.1 211.9 231.6 212.4 231.6 214.1 232.4 216.9 233.6 217.6 235.1 217.6 236.1 215.9 236.1 215.1 236.4 214.9 236.1 213.4 235.1 212.1 234.1 211.6ZM163.4 206.4 163.1 207.4 163.6 208.4 167.1 212.1 171.1 214.6 174.1 215.6 176.6 216.9 177.9 217.1 181.9 219.4 185.4 222.1 190.6 227.4 194.1 232.4 194.4 232.1 194.6 224.9 196.4 220.6 197.6 219.1 201.1 213.1 201.1 212.1 200.9 211.9 196.1 211.4 195.9 211.1 194.6 211.1 194.4 210.9 192.6 210.6 191.6 210.1 189.4 209.6 185.1 207.4 180.6 206.1 175.1 205.6 174.9 205.4 172.1 205.4 171.9 205.1 166.6 205.1 166.4 205.4 164.4 205.6Z" fill="rgb(32,32,32)" fill-rule="evenodd"/><path d="M186.4 272.6 185.1 273.4 183.4 275.4 182.1 279.1 181.9 283.4 182.1 283.6 182.1 285.1 183.1 287.4 185.1 289.1 188.6 290.4 192.1 290.6 192.4 290.4 194.1 290.4 195.6 289.9 198.1 287.1 198.9 284.4 199.1 281.4 198.9 281.1 198.9 279.9 198.4 278.9 198.4 278.1 197.6 276.6 195.4 274.1 192.1 272.6 189.4 272.4 189.1 272.1ZM236.9 239.1 234.4 240.4 232.6 242.1 231.4 245.1 231.1 256.9 230.9 257.1 230.9 261.4 230.6 261.6 230.6 280.9 230.9 281.1 230.9 283.4 231.1 283.6 231.1 285.6 231.4 285.9 231.6 287.9 232.1 288.9 232.6 291.1 234.4 294.1 235.4 295.1 238.1 296.6 238.9 296.6 239.1 296.9 242.4 296.9 244.9 295.9 246.9 293.9 248.4 291.4 248.4 290.6 249.1 288.4 249.1 286.6 249.4 286.4 249.4 275.9 249.1 275.6 248.9 262.1 248.6 261.9 248.1 255.4 247.6 254.1 247.1 251.1 244.4 244.4 242.9 242.1 240.9 240.1 238.9 239.1ZM163.9 206.9 163.9 207.4 164.9 209.1 167.9 212.1 171.1 214.1 176.6 215.9 181.9 216.1 182.1 215.9 184.4 215.6 186.9 214.1 188.1 212.6 188.1 210.6 187.1 209.4 184.4 207.9 183.6 207.9 180.9 206.9 178.4 206.6 178.1 206.4 176.4 206.4 176.1 206.1 174.4 206.1 174.1 205.9 170.9 205.9 170.6 205.6 165.9 205.9 165.6 206.1 164.9 206.1Z" fill="rgb(42,42,42)" fill-rule="evenodd"/><path d="M185.4 274.1 184.1 275.4 183.4 276.9 182.9 279.9 182.6 280.1 182.9 284.6 183.9 287.1 185.6 288.6 188.4 289.6 192.4 289.9 192.6 289.6 194.4 289.4 197.1 286.6 197.6 283.9 197.9 283.6 197.9 280.4 196.6 277.1 194.9 275.1 191.4 273.6 190.6 273.6 190.4 273.4 186.9 273.4ZM237.1 239.9 235.4 240.6 233.4 242.4 232.6 243.6 232.1 245.4 231.9 256.6 231.6 256.9 231.6 261.1 231.4 261.4 231.4 280.9 231.6 281.1 231.6 283.4 231.9 283.6 232.1 286.9 232.6 287.9 233.4 291.1 234.6 293.4 236.4 295.1 237.9 295.9 239.6 296.1 239.9 296.4 241.6 296.4 244.1 295.6 246.1 293.9 247.6 291.4 248.1 288.6 248.4 288.4 248.4 286.9 248.6 286.6 248.6 275.6 248.4 275.4 248.1 262.1 247.9 261.9 247.6 257.1 247.4 256.9 246.9 253.1 244.9 247.1 243.6 244.6 240.9 241.1 238.6 239.9ZM164.9 207.1 164.9 207.9 167.9 211.6 171.6 213.9 173.1 214.1 174.1 214.6 176.9 214.9 177.1 215.1 182.9 214.9 184.4 214.4 186.4 213.1 187.1 211.9 186.6 210.4 185.1 209.1 180.1 207.4 176.4 206.9 176.1 206.6 174.6 206.6 174.4 206.4 167.1 206.4 166.9 206.6 165.6 206.6Z" fill="rgb(53,53,53)" fill-rule="evenodd"/><path d="M185.9 274.9 184.6 276.1 184.1 277.1 183.6 278.9 183.6 280.6 183.4 280.9 183.6 283.9 184.6 286.4 185.4 287.4 188.4 288.9 190.9 289.1 191.1 288.9 193.1 288.6 194.1 288.1 196.1 285.9 196.4 284.1 196.6 283.9 196.6 282.6 196.9 282.4 196.6 280.4 195.4 277.4 194.1 276.1 190.6 274.6 187.9 274.4 187.6 274.6ZM237.1 240.9 235.6 241.6 234.1 242.9 233.4 244.4 233.1 246.1 232.9 246.4 232.6 253.9 232.4 254.1 232.4 258.9 232.1 259.1 232.1 265.6 231.9 265.9 232.1 280.4 232.4 280.6 232.4 282.9 232.6 283.1 232.9 286.6 234.6 292.1 235.6 293.6 237.1 294.9 238.9 295.6 241.1 295.9 241.4 295.6 243.4 295.4 245.4 293.9 247.1 290.9 247.1 290.1 247.6 288.9 247.9 285.1 248.1 284.9 248.1 277.4 247.9 277.1 247.9 270.9 247.6 270.6 247.6 267.6 247.4 267.4 247.4 262.9 247.1 262.6 246.9 257.9 246.6 257.6 246.6 256.1 246.4 255.9 246.1 253.6 244.4 248.1 243.1 245.6 241.1 242.6 240.4 241.9 238.6 240.9ZM166.4 207.6 166.4 208.6 167.1 210.1 169.1 212.1 171.4 213.4 172.9 213.9 173.9 213.9 175.4 214.4 179.4 214.4 179.6 214.1 180.6 214.1 180.9 213.9 183.6 213.4 184.6 212.9 185.6 211.9 185.6 211.1 184.9 210.4 180.1 208.1 177.6 207.4 176.6 207.4 175.1 206.9 168.1 206.9Z" fill="rgb(64,64,64)" fill-rule="evenodd"/><path d="M188.1 275.9 186.1 276.6 184.9 277.9 184.4 279.1 184.4 283.1 185.1 285.4 187.4 287.6 188.6 288.1 191.1 288.1 193.4 287.1 194.6 285.9 195.4 284.4 195.6 281.6 194.6 278.9 193.4 277.4 191.4 276.1ZM237.6 244.9 236.4 245.6 234.9 247.1 233.6 250.1 233.4 254.1 233.1 254.4 232.9 265.9 232.6 266.1 232.9 279.9 233.1 280.1 233.6 286.6 235.4 292.1 237.1 294.1 239.1 295.1 242.4 295.1 243.6 294.6 245.6 292.6 246.6 290.6 246.6 289.9 247.1 288.6 247.1 287.1 247.4 286.9 247.4 282.1 247.6 281.9 247.6 280.6 247.4 280.4 247.1 271.1 246.9 270.9 246.4 262.1 246.1 261.9 245.9 257.6 245.6 257.4 245.6 255.9 244.9 253.4 244.9 252.1 243.1 247.9 242.4 246.6 240.1 244.9ZM167.4 208.1 167.4 209.6 167.6 210.1 169.4 211.9 171.6 213.1 172.4 213.1 173.6 213.6 174.6 213.6 174.9 213.9 178.9 213.9 180.9 213.1 181.6 212.4 181.9 211.6 181.6 210.4 180.6 209.1 178.6 208.1 177.9 208.1 175.6 207.4 171.4 207.4 171.1 207.1 169.9 207.1 169.6 207.4 168.6 207.4Z" fill="rgb(74,74,74)" fill-rule="evenodd"/><path d="M187.6 276.9 186.1 277.6 185.1 278.9 184.9 281.9 185.1 282.1 185.4 284.1 185.9 285.1 187.6 286.9 188.6 287.4 191.1 287.4 193.1 286.4 193.9 285.6 194.9 283.1 194.6 280.9 193.9 279.1 191.6 277.1 190.1 276.6ZM238.4 245.9 236.6 246.9 235.6 248.1 234.6 250.6 234.6 252.1 234.1 253.9 233.9 259.1 233.6 259.4 233.6 266.4 233.4 266.6 233.6 279.6 233.9 279.9 233.9 282.9 234.1 283.1 234.4 286.6 235.9 291.6 238.6 294.4 239.4 294.6 242.1 294.6 244.1 293.6 244.9 292.9 246.1 290.6 246.4 288.9 246.6 288.6 246.6 287.4 246.9 287.1 247.1 279.6 246.9 279.4 246.9 277.4 246.4 275.9 246.4 271.9 246.1 271.6 246.1 268.9 245.9 268.6 245.9 266.1 245.6 265.9 245.6 262.9 245.4 262.6 245.1 258.4 244.9 258.1 244.9 256.9 244.6 256.6 244.6 255.6 244.1 254.4 243.6 251.4 242.6 249.1 241.1 246.9 239.4 245.9ZM167.9 208.9 168.1 210.1 169.6 211.6 171.4 212.6 173.1 213.1 174.4 213.1 174.6 213.4 178.6 213.4 180.4 212.6 180.9 211.9 180.9 210.6 179.9 209.4 175.9 207.9 169.9 207.6 168.4 208.1Z" fill="rgb(85,85,85)" fill-rule="evenodd"/><path d="M188.1 277.4 186.9 277.9 185.9 278.9 185.6 279.6 185.6 282.6 186.4 284.6 187.4 285.9 188.6 286.6 190.4 286.9 192.4 286.1 193.6 284.9 194.1 283.6 194.1 281.4 192.9 278.9 191.6 277.9 190.6 277.4ZM238.1 247.1 236.6 248.4 235.6 250.9 235.6 252.1 234.9 254.4 234.9 255.4 234.6 255.6 234.4 265.9 234.1 266.1 234.1 279.1 234.4 279.4 234.4 282.4 234.6 282.6 235.1 287.6 236.4 291.4 238.4 293.6 239.4 294.1 241.1 294.4 241.4 294.1 242.4 294.1 244.4 292.9 245.6 290.9 246.1 288.1 246.4 287.9 246.4 285.9 246.6 285.6 246.6 278.6 246.4 278.4 245.9 274.6 245.6 274.4 245.6 271.4 245.4 271.1 245.4 268.6 245.1 268.4 245.1 265.6 244.9 265.4 244.9 262.4 244.6 262.1 244.4 258.1 244.1 257.9 244.1 256.6 243.9 256.4 243.1 252.6 241.6 249.4 240.6 247.9 239.6 247.1ZM168.6 208.9 168.9 210.4 169.9 211.4 171.9 212.4 173.9 212.6 174.1 212.9 177.4 213.1 179.1 212.6 180.1 211.9 180.1 210.6 178.4 209.1 176.9 208.6 176.1 208.6 174.9 208.1 170.1 208.1Z" fill="rgb(96,96,96)" fill-rule="evenodd"/><path d="M188.6 277.9 186.9 278.6 186.1 280.1 186.4 283.1 186.9 284.4 188.4 285.9 188.9 286.1 190.9 286.1 192.9 284.9 193.6 283.1 193.4 281.1 192.9 279.9 191.6 278.6 190.1 277.9ZM238.9 248.6 237.9 249.4 235.9 253.6 235.9 254.4 235.4 255.4 235.4 257.1 235.1 257.4 235.1 265.1 234.9 265.4 234.9 269.1 234.6 269.4 234.6 280.6 234.9 280.9 234.9 283.1 235.1 283.4 235.1 285.1 235.4 285.4 235.6 287.6 237.1 291.6 237.9 292.6 239.9 293.9 241.9 293.9 243.1 293.4 244.4 292.4 245.6 289.9 245.9 287.4 246.1 287.1 246.4 279.4 246.1 279.1 246.1 277.9 245.9 277.6 245.6 275.6 245.1 274.4 245.1 273.1 244.9 272.9 244.6 267.9 244.4 267.6 244.4 263.6 244.1 263.4 244.1 261.1 243.9 260.9 243.6 257.4 243.4 257.1 242.9 254.4 241.6 251.4ZM169.1 209.6 170.4 211.1 172.6 212.1 177.1 212.6 179.4 211.6 179.4 210.6 178.4 209.9 174.6 208.6 170.6 208.6 169.4 209.1Z" fill="rgb(106,106,106)" fill-rule="evenodd"/><path d="M188.4 278.6 187.4 279.1 186.9 279.9 186.9 282.4 187.9 284.6 188.9 285.4 190.1 285.6 191.9 284.9 192.4 284.4 192.9 283.4 192.9 281.6 191.9 279.6 190.1 278.6ZM238.9 251.9 236.9 253.9 235.9 256.9 235.9 259.4 235.6 259.6 235.6 266.9 235.4 267.1 235.4 274.4 235.1 274.6 235.1 276.1 234.9 276.4 234.9 278.6 235.1 278.9 235.1 281.9 235.4 282.1 235.9 287.1 236.9 290.4 237.4 291.4 239.1 293.1 240.4 293.6 241.4 293.6 243.4 292.9 245.1 290.6 245.4 288.9 245.6 288.6 245.6 286.6 245.9 286.4 246.1 280.1 245.9 279.9 245.6 277.1 244.6 274.4 244.4 272.1 244.1 271.9 243.9 266.4 243.6 266.1 243.6 262.9 243.4 262.6 243.4 260.9 243.1 260.6 243.1 258.9 242.9 258.6 242.6 256.1 241.6 253.1 240.6 251.9ZM170.1 209.9 170.9 210.9 172.9 211.6 177.4 211.9 178.4 211.4 178.4 210.9 177.9 210.4 175.4 209.4 170.6 209.4Z" fill="rgb(117,117,117)" fill-rule="evenodd"/><path d="M188.6 279.4 187.6 280.4 187.9 282.9 188.9 284.4 190.6 284.6 192.1 283.1 191.9 281.4 190.9 279.9 189.9 279.4ZM239.4 253.6 238.1 254.6 236.9 257.4 236.4 272.6 235.4 275.6 235.4 281.4 235.6 281.6 235.6 283.1 235.9 283.4 235.9 285.1 236.1 285.4 236.4 287.6 237.4 290.6 239.4 292.9 239.9 293.1 242.4 293.1 244.4 291.4 245.1 289.9 245.4 286.1 245.6 285.9 245.6 278.6 245.4 278.4 244.9 275.6 243.1 271.9 242.9 267.1 242.6 266.9 242.6 262.6 242.4 262.4 241.9 257.4 240.6 254.1 240.1 253.6ZM172.1 210.4 173.1 210.9 174.9 210.9 175.1 211.1 176.1 211.1 176.4 210.9 174.9 210.1 172.4 210.1Z" fill="rgb(128,128,128)" fill-rule="evenodd"/><path d="M239.6 272.6 237.4 273.4 236.1 274.6 235.6 276.1 235.6 280.9 235.9 281.1 235.9 282.6 236.1 282.9 236.6 287.1 238.1 291.1 240.1 292.9 242.1 292.9 243.1 292.4 244.1 291.4 244.9 289.9 245.1 285.6 245.4 285.4 245.4 278.9 244.4 275.4 243.1 273.4 241.6 272.6Z" fill="rgb(138,138,138)" fill-rule="evenodd"/><path d="M240.4 273.4 240.1 273.6 238.1 273.9 236.6 274.9 235.9 276.6 235.9 280.6 236.1 280.9 236.1 282.4 236.6 283.9 236.9 286.6 237.6 289.4 238.4 290.9 239.1 291.9 240.4 292.6 242.1 292.6 243.9 291.4 244.9 288.9 245.1 279.1 244.1 275.6 243.6 274.9 242.1 273.6Z" fill="rgb(149,149,149)" fill-rule="evenodd"/><path d="M239.4 274.1 237.4 274.9 236.6 275.6 236.1 276.9 236.1 280.6 236.9 283.4 237.4 287.1 238.4 290.4 239.6 291.9 240.6 292.4 242.1 292.4 243.9 290.9 244.6 288.9 244.9 279.1 244.1 276.6 242.9 274.6 241.9 274.1Z" fill="rgb(159,159,159)" fill-rule="evenodd"/><path d="M239.6 274.6 237.9 275.1 236.9 275.9 236.4 277.1 236.4 280.4 236.6 280.6 236.6 281.9 237.6 285.1 237.9 287.6 238.6 290.1 240.1 291.9 240.6 292.1 242.1 292.1 243.6 290.9 244.4 289.1 244.6 279.1 243.4 275.9 242.4 274.9 241.6 274.6Z" fill="rgb(170,170,170)" fill-rule="evenodd"/><path d="M239.1 275.1 237.4 275.9 236.6 277.4 236.6 280.4 236.9 280.6 237.4 283.6 238.1 285.4 238.4 288.4 238.9 289.9 240.4 291.6 242.1 291.9 243.4 290.9 244.1 289.1 243.9 283.4 244.4 281.9 244.4 279.4 243.6 276.9 242.4 275.4 241.9 275.1Z" fill="rgb(181,181,181)" fill-rule="evenodd"/><path d="M239.9 275.4 239.6 275.6 238.6 275.6 237.4 276.4 236.9 277.6 236.9 280.1 237.1 280.4 237.4 282.4 238.6 285.4 238.6 287.6 238.9 287.9 239.1 289.6 240.1 291.1 240.9 291.6 242.1 291.6 243.4 290.4 243.9 289.1 243.9 286.4 243.6 286.1 243.4 283.9 244.1 281.6 244.1 279.4 243.1 276.6 242.1 275.6Z" fill="rgb(191,191,191)" fill-rule="evenodd"/><path d="M239.1 275.9 237.6 276.6 237.1 277.9 237.4 281.1 238.1 283.6 239.4 285.6 239.1 286.1 239.1 288.4 239.6 289.9 240.6 291.1 241.9 291.4 243.1 290.4 243.6 289.1 243.6 286.6 242.9 285.1 242.9 283.9 243.9 281.4 243.9 279.6 243.4 277.9 242.1 276.1 241.6 275.9Z" fill="rgb(202,202,202)" fill-rule="evenodd"/><path d="M239.9 276.1 238.4 276.6 237.6 277.4 237.4 278.9 237.6 279.1 237.6 280.9 238.4 283.1 239.1 284.4 240.6 285.4 239.6 286.6 239.6 288.9 239.9 289.6 240.9 290.9 241.6 291.1 243.1 289.9 243.4 289.1 243.4 287.1 243.1 286.4 242.1 285.4 241.6 285.4 241.4 284.9 243.1 282.4 243.6 280.1 242.6 277.1 241.9 276.4Z" fill="rgb(212,212,212)" fill-rule="evenodd"/><path d="M240.9 286.4 240.1 286.9 239.9 287.6 240.1 289.1 240.9 290.4 241.9 290.6 242.9 289.6 243.1 287.6 242.4 286.4ZM239.4 276.6 238.6 276.9 237.9 277.6 237.9 280.4 238.9 283.1 239.6 283.9 240.6 284.1 242.4 282.6 243.1 280.9 243.1 279.1 241.9 276.9 241.4 276.6Z" fill="rgb(223,223,223)" fill-rule="evenodd"/><path d="M241.4 286.9 240.6 287.4 240.6 289.1 241.4 290.1 241.9 290.1 242.6 289.4 242.6 287.6 242.4 287.1ZM239.4 277.1 238.4 277.6 238.1 279.6 239.1 282.6 239.9 283.4 240.6 283.4 241.6 282.6 242.6 280.9 242.6 279.1 241.6 277.4 241.1 277.1Z" fill="rgb(234,234,234)" fill-rule="evenodd"/><path d="M241.4 287.9 241.1 288.6 241.9 289.4 242.1 289.1 242.1 288.1ZM239.1 277.9 238.6 278.6 238.9 280.6 239.6 282.1 240.4 282.6 241.4 281.9 242.1 280.1 242.1 279.4 241.1 277.9Z" fill="rgb(244,244,244)" fill-rule="evenodd"/><path d="M239.9 278.6 239.4 279.1 239.6 280.4 240.1 281.1 240.6 281.1 241.1 280.6 241.1 279.1 240.6 278.6Z" fill="rgb(255,255,255)" fill-rule="evenodd"/></g><g filter="url(#fm9)"><path d="M281.05 203.5 280.6 204.25 280.72 205.17 281.19 206.2 281.79 207.23 282.3 208.2 282.79 209.09 283.45 209.97 284.24 210.87 285.11 211.8 286.01 212.81 286.9 213.9 287.81 215.11 288.79 216.42 289.8 217.8 290.81 219.21 291.79 220.62 292.7 222 293.58 223.35 294.45 224.7 295.29 226.05 296.06 227.4 296.74 228.75 297.3 230.1 297.68 231.44 297.91 232.78 298.04 234.11 298.14 235.46 298.28 236.82 298.5 238.2 298.85 239.62 299.29 241.08 299.76 242.55 300.21 244.02 300.57 245.48 300.8 246.9 300.88 248.22 300.86 249.43 300.75 250.63 300.59 251.9 300.4 253.33 300.2 255 299.99 257.01 299.74 259.3 299.46 261.76 299.15 264.24 298.83 266.63 298.5 268.8 298.14 270.73 297.74 272.52 297.32 274.21 296.91 275.86 296.53 277.51 296.2 279.2 295.88 281 295.54 282.88 295.24 284.76 295.01 286.56 294.92 288.2 295 289.6 295.26 290.71 295.65 291.58 296.18 292.29 296.83 292.92 297.6 293.53 298.5 294.2 299.53 294.95 300.7 295.74 302 296.51 303.41 297.22 304.91 297.83 306.5 298.3 308.19 298.58 309.98 298.71 311.88 298.73 313.85 298.71 315.9 298.72 318 298.8 320.14 298.98 322.33 299.21 324.59 299.46 326.94 299.7 329.41 299.89 332 300 334.85 300 337.96 299.92 341.18 299.79 344.36 299.66 347.35 299.55 350 299.5 352.34 299.55 354.48 299.67 356.44 299.81 358.21 299.94 359.79 300.02 361.2 300 362.33 299.96 363.16 299.94 363.8 299.86 364.38 299.65 365.01 299.22 365.8 298.5 366.83 297.43 368.01 296.09 369.24 294.52 370.41 292.8 371.44 291.01 372.2 289.2 372.67 287.37 372.93 285.47 373.03 283.49 373.04 281.42 373.01 279.26 373 277 373.01 274.61 373 272.08 372.94 269.46 372.85 266.79 372.7 264.12 372.5 261.5 372.23 258.86 371.89 256.15 371.5 253.44 371.08 250.8 370.64 248.3 370.2 246 369.75 243.92 369.29 242 368.8 240.21 368.3 238.54 367.8 236.94 367.3 235.4 366.78 233.97 366.22 232.67 365.66 231.46 365.12 230.27 364.63 229.04 364.2 227.7 363.83 226.23 363.5 224.66 363.21 223.06 362.97 221.46 362.8 219.92 362.7 218.5 362.74 217.16 362.92 215.86 363.16 214.61 363.39 213.46 363.53 212.41 363.5 211.5 363.49 210.76 363.6 210.17 363.61 209.69 363.33 209.29 362.53 208.9 361 208.5 358.52 208.07 355.19 207.66 351.36 207.26 347.33 206.91 343.44 206.62 340 206.4 337.08 206.31 334.41 206.33 331.89 206.41 329.36 206.49 326.71 206.51 323.8 206.4 320.6 206.14 317.2 205.76 313.68 205.32 310.1 204.86 306.51 204.44 303 204.1 299.3 203.77 295.33 203.41 291.35 203.08 287.66 202.86 284.55 202.8 282.3 203ZM336.07 231.35 337.21 230.36 338.4 229.42 339.6 228.6 340.77 228 341.9 227.7 343.01 227.7 344.13 227.94 345.24 228.39 346.29 229.03 347.25 229.84 348.1 230.8 348.86 231.98 349.57 233.41 350.19 235.02 350.69 236.71 351.04 238.4 351.2 240 351.1 241.53 350.74 243.06 350.24 244.59 349.68 246.13 349.17 247.66 348.8 249.2 348.61 250.78 348.53 252.41 348.49 254.04 348.45 255.63 348.34 257.13 348.1 258.5 347.7 259.68 347.16 260.71 346.56 261.65 345.95 262.57 345.41 263.53 345 264.6 344.8 265.87 344.76 267.31 344.79 268.79 344.78 270.19 344.62 271.4 344.2 272.3 343.42 272.89 342.36 273.27 341.14 273.46 339.92 273.47 338.82 273.31 338 273 337.57 272.44 337.44 271.6 337.44 270.59 337.4 269.53 337.14 268.53 336.5 267.7 335.33 267.07 333.75 266.56 331.95 266.11 330.14 265.66 328.52 265.18 327.3 264.6 326.46 263.9 325.85 263.12 325.43 262.29 325.17 261.47 325.04 260.69 325 260 325.23 259.43 325.8 258.94 326.49 258.51 327.1 258.07 327.44 257.58 327.3 257 326.47 256.28 325.07 255.44 323.4 254.56 321.74 253.69 320.37 252.92 319.6 252.3 319.46 251.87 319.72 251.57 320.29 251.36 321.04 251.19 321.88 251.02 322.7 250.8 323.6 250.57 324.68 250.39 325.84 250.19 326.99 249.96 328.01 249.64 328.8 249.2 329.35 248.62 329.76 247.94 330.03 247.18 330.21 246.36 330.32 245.49 330.4 244.6 330.33 243.67 330.08 242.68 329.76 241.65 329.5 240.6 329.4 239.54 329.6 238.5 330.12 237.45 330.89 236.38 331.82 235.31 332.86 234.25 333.94 233.24 335 232.3Z" fill="rgb(0,0,0)" fill-rule="evenodd"/><path d="M282.9 203.9 281.9 204.9 281.6 205.6 281.6 206.9 282.1 208.1 283.9 210.6 286.6 213.4 290.1 218.1 291.6 220.6 293.1 222.4 297.4 229.9 298.1 232.4 298.1 234.9 298.4 235.1 298.4 237.4 298.9 238.9 298.9 240.1 299.4 240.9 300.4 243.9 300.6 246.4 301.1 247.9 300.9 251.4 300.6 251.6 300.6 254.1 300.4 254.4 299.9 260.4 299.6 260.6 299.4 264.9 299.1 265.1 298.9 267.6 298.6 267.9 298.4 271.1 297.6 273.1 297.1 276.1 296.6 277.4 296.4 280.1 295.6 282.6 295.4 285.6 295.1 285.9 295.4 288.9 296.9 292.9 299.9 295.4 304.1 297.6 306.9 298.4 310.4 298.6 310.6 298.9 319.1 298.9 319.4 299.1 321.4 299.1 321.6 299.4 346.9 299.6 347.1 299.4 350.9 299.1 352.4 298.4 354.1 298.1 354.4 297.9 356.1 298.1 358.6 299.4 360.6 299.6 360.9 299.9 363.6 299.6 365.6 298.9 369.6 294.4 371.9 290.6 371.9 289.9 372.4 288.6 372.4 287.4 372.6 287.1 372.6 284.9 372.9 284.6 372.9 273.6 372.6 273.4 372.6 270.9 372.4 270.6 372.4 268.1 372.1 267.9 372.1 265.9 371.9 265.6 371.9 263.9 371.6 263.6 371.6 261.6 371.4 261.4 371.4 259.6 371.1 259.4 371.1 257.9 370.6 256.1 370.1 251.6 369.9 251.4 369.6 248.9 369.4 248.6 368.9 245.6 366.6 239.4 366.4 235.9 365.9 234.6 365.9 233.6 365.6 233.4 365.1 230.6 364.1 228.4 363.1 224.9 362.9 221.4 362.6 221.1 362.6 217.1 362.1 215.4 362.1 211.4 361.6 210.4 360.6 209.4 358.4 208.1 354.6 207.9 354.4 207.6 352.6 207.6 352.4 207.4 349.6 207.4 349.4 207.1 336.1 206.9 335.9 206.6 322.4 206.6 322.1 206.4 319.9 206.4 319.6 206.1 313.1 205.4 312.9 205.1 311.1 205.1 310.9 204.9 305.9 204.6 305.6 204.4 301.4 204.1 301.1 203.9 294.6 203.6 294.4 203.4 292.6 203.4 292.4 203.1 284.9 203.1ZM343.6 225.4 346.1 226.1 348.1 227.4 350.6 230.1 352.6 234.4 352.6 235.1 353.4 236.9 353.4 238.9 352.4 241.4 351.9 244.4 350.9 247.6 350.9 248.9 350.6 249.1 350.6 252.1 350.4 252.4 350.4 254.9 350.1 255.1 350.1 259.1 349.9 259.4 349.9 260.6 349.6 260.9 349.6 261.6 348.1 263.9 347.4 265.6 347.4 270.9 347.1 271.1 346.9 272.9 344.9 275.1 343.9 275.6 342.1 275.9 341.9 276.1 339.6 276.1 336.9 275.1 335.6 273.9 335.1 272.4 335.1 270.4 334.6 269.6 332.9 268.9 328.6 267.9 326.4 266.6 324.9 265.1 323.9 263.4 323.1 260.9 323.4 257.4 321.6 255.6 321.1 254.4 321.1 253.6 319.4 252.4 319.4 251.9 320.4 251.1 321.1 251.1 321.4 250.1 322.6 248.9 324.1 248.1 326.1 247.9 327.6 246.9 328.1 245.1 328.1 242.4 329.4 240.1 329.4 238.6 331.1 236.4 331.4 234.1 332.1 232.1 337.6 227.1 340.6 225.6Z" fill="rgb(11,11,11)" fill-rule="evenodd"/><path d="M283.1 204.6 282.4 206.1 282.9 208.1 285.4 211.6 285.6 212.4 286.6 213.4 288.6 216.4 290.4 218.1 296.4 227.1 297.1 228.6 297.1 229.4 298.1 231.4 298.4 232.6 298.9 233.4 300.4 238.4 300.6 241.6 300.9 241.9 300.9 245.1 301.1 245.4 301.1 246.6 301.6 248.4 301.4 248.6 301.1 253.9 300.9 254.1 300.9 255.6 300.6 255.9 300.6 257.9 300.4 258.1 299.9 264.1 298.9 266.4 298.4 271.1 297.1 275.1 297.1 276.1 296.4 278.6 296.4 280.1 295.6 282.6 295.6 285.4 295.9 285.6 296.1 288.6 296.6 290.4 297.9 292.9 300.4 295.4 302.9 296.6 307.1 297.4 307.4 297.6 308.6 297.6 308.9 297.9 311.4 297.9 311.6 298.1 313.6 298.1 313.9 298.4 329.6 298.6 329.9 298.4 335.6 298.4 335.9 298.1 346.4 298.1 346.6 297.9 350.4 297.6 352.4 296.6 354.1 296.4 359.1 298.6 359.9 298.6 360.1 298.9 363.1 298.9 364.9 298.4 366.9 297.1 369.1 294.9 370.6 291.9 371.4 289.4 371.6 286.6 371.9 286.4 371.9 284.1 372.1 283.9 372.1 274.4 371.9 274.1 371.9 271.6 371.6 271.4 371.6 268.9 371.4 268.6 371.4 266.4 371.1 266.1 371.1 264.4 370.9 264.1 370.6 260.1 370.4 259.9 370.4 258.4 369.9 256.9 368.6 248.1 367.1 243.1 365.9 240.6 365.1 238.4 365.1 237.4 364.9 237.1 363.4 230.4 362.6 228.9 361.6 225.4 361.4 221.9 361.1 221.6 361.1 217.6 360.9 217.4 360.9 214.6 361.1 214.4 361.1 211.4 360.9 210.9 359.6 209.6 358.1 208.9 355.6 208.1 353.9 208.1 353.6 207.9 335.4 207.6 335.1 207.4 331.9 207.4 331.6 207.1 324.9 207.1 324.6 206.9 318.1 206.6 317.9 206.4 315.9 206.4 315.6 206.1 311.4 205.9 311.1 205.6 308.9 205.6 308.6 205.4 304.9 205.1 304.6 204.9 298.9 204.6 298.6 204.4 293.1 204.1 292.9 203.9 284.9 203.9ZM337.1 218.6 338.6 218.6 338.9 218.4 342.9 218.6 346.6 220.4 348.1 221.4 349.9 223.4 351.6 226.9 352.4 229.4 355.4 236.1 355.4 237.4 354.4 238.9 353.1 241.6 352.9 243.6 351.6 248.4 351.6 249.9 351.4 250.1 351.1 257.1 350.9 257.4 350.9 261.6 350.6 261.9 350.6 263.6 350.4 263.9 350.4 283.1 350.6 283.4 350.6 285.1 350.4 285.4 350.4 286.1 349.9 286.6 349.4 286.6 347.4 285.6 345.9 284.4 343.9 283.4 342.9 282.4 339.9 280.6 337.9 278.9 335.1 277.1 330.9 272.9 324.1 266.9 322.1 263.4 322.1 262.6 321.6 261.4 321.6 260.1 321.4 259.9 321.4 258.4 320.1 256.6 319.6 254.9 319.6 253.6 319.1 252.9 319.1 251.6 320.1 248.9 321.6 247.4 324.1 245.9 325.9 243.9 326.4 241.9 327.6 240.1 329.4 236.6 329.9 234.9 330.1 231.4 329.4 230.4 327.4 230.1 327.1 229.9 324.4 229.9 324.1 229.6 323.4 229.6 322.6 228.9 322.6 228.4 330.4 221.4 333.4 219.6Z" fill="rgb(21,21,21)" fill-rule="evenodd"/><path d="M299.4 266.4 298.6 267.9 298.4 271.1 297.6 273.1 297.1 276.1 296.6 277.4 296.4 286.1 296.6 286.4 296.9 288.9 297.9 291.6 298.9 293.1 300.9 294.9 304.4 296.4 305.4 296.4 308.1 297.1 315.1 297.6 315.4 297.9 332.9 297.9 333.1 297.6 335.6 297.6 335.9 297.4 338.1 297.4 338.4 297.1 342.1 296.6 343.1 296.1 344.1 295.1 344.6 293.6 344.1 291.4 341.6 288.1 338.4 285.1 331.1 280.1 327.4 276.6 325.6 275.4 318.4 268.4 314.1 265.4 308.6 263.1 307.9 263.1 307.6 262.9 304.1 262.9 301.9 263.6ZM359.1 234.9 357.9 235.6 357.4 236.6 355.1 239.1 354.1 240.9 352.9 245.6 352.9 246.6 352.4 247.9 352.4 249.1 352.1 249.4 352.1 252.6 351.9 252.9 351.9 254.6 351.6 254.9 351.6 260.9 351.4 261.1 351.4 282.6 351.6 282.9 351.6 288.6 351.4 288.9 351.1 291.6 352.1 294.1 353.1 294.9 358.9 297.9 360.6 298.1 360.9 298.4 362.4 298.4 362.6 298.1 364.4 297.9 367.1 296.1 368.4 294.9 369.9 292.1 370.9 288.6 371.1 284.9 371.4 284.6 371.4 273.6 371.1 273.4 371.1 270.9 370.9 270.6 370.9 268.1 370.6 267.9 370.6 265.6 370.4 265.4 370.4 263.6 370.1 263.4 369.9 259.4 369.6 259.1 368.9 252.9 368.6 252.6 368.6 251.6 368.4 251.4 367.4 245.9 365.9 241.9 364.4 238.9 364.1 237.6 362.9 235.6 361.4 234.9ZM283.1 205.6 283.1 207.4 283.6 208.4 286.9 213.1 288.9 215.4 289.4 216.4 291.1 218.1 296.9 226.6 299.6 233.9 300.9 236.4 302.4 238.1 303.9 238.6 306.9 238.6 307.1 238.4 308.9 238.1 310.9 237.1 311.4 237.1 314.9 235.1 318.6 232.4 319.9 231.1 320.1 229.9 320.9 228.4 321.9 227.4 323.9 225.9 329.6 220.6 333.1 218.6 335.4 217.9 338.1 217.6 338.4 217.4 344.1 217.4 344.4 217.6 347.4 217.9 349.9 218.9 351.9 219.1 352.1 219.4 355.6 219.6 357.4 219.1 359.1 218.1 359.9 216.6 360.4 213.4 360.6 213.1 360.4 211.4 359.1 210.1 356.1 208.9 354.6 208.9 354.4 208.6 325.6 207.9 325.4 207.6 316.4 207.1 316.1 206.9 309.6 206.4 309.4 206.1 306.1 205.9 305.9 205.6 304.4 205.6 304.1 205.4 301.6 205.4 301.4 205.1 298.9 205.1 298.6 204.9 296.1 204.9 295.9 204.6 290.6 204.4 290.4 204.1 284.9 204.4Z" fill="rgb(32,32,32)" fill-rule="evenodd"/><path d="M299.9 266.9 298.9 269.1 298.6 271.4 297.6 274.4 297.6 276.1 297.4 276.4 297.4 277.9 297.1 278.1 296.9 285.4 297.1 285.6 297.1 287.1 297.4 287.4 297.9 290.1 299.1 292.4 301.1 294.4 303.1 295.4 304.9 295.9 306.1 295.9 308.9 296.6 311.4 296.6 311.6 296.9 315.9 297.1 316.1 297.4 329.4 297.4 329.6 297.1 336.1 296.9 336.4 296.6 337.9 296.6 339.9 295.9 340.6 295.9 342.6 294.6 342.9 294.1 342.9 292.4 341.4 290.1 337.1 286.1 328.4 279.9 316.6 268.9 313.6 266.6 309.6 264.9 308.9 264.9 307.6 264.4 304.6 264.4 301.6 265.4ZM359.9 236.4 358.6 236.9 355.4 239.9 354.4 241.9 354.1 243.9 352.9 248.6 352.4 256.6 352.1 256.9 352.1 282.4 352.4 282.6 352.6 290.6 352.9 290.9 352.9 292.1 353.4 293.1 356.4 295.9 357.6 296.6 360.1 297.6 361.9 297.9 362.1 297.6 364.1 297.4 366.6 295.9 368.1 294.1 369.6 291.1 369.6 290.4 370.4 288.1 370.6 284.4 370.9 284.1 370.9 274.1 370.6 273.9 370.6 271.4 370.4 271.1 370.4 268.6 370.1 268.4 370.1 266.4 369.9 266.1 369.9 264.4 369.6 264.1 369.4 260.1 369.1 259.9 369.1 258.6 368.9 258.4 368.9 257.1 368.4 255.4 368.4 253.9 368.1 253.6 368.1 252.1 367.9 251.9 366.9 246.4 365.4 242.4 362.6 237.1 361.1 236.4ZM283.4 206.4 283.6 207.4 285.4 210.4 289.6 215.9 291.6 217.9 297.9 227.1 299.1 230.9 301.6 235.9 302.6 236.6 304.1 237.1 306.4 237.1 309.1 236.4 312.4 234.9 317.4 231.4 319.1 229.6 319.4 228.9 325.4 223.1 330.4 219.1 332.9 217.9 335.1 217.1 337.9 216.9 338.1 216.6 345.9 216.6 346.1 216.9 348.4 216.9 351.1 217.6 355.1 218.1 355.4 217.9 356.4 217.9 358.4 216.9 359.4 215.4 359.9 213.6 359.9 211.9 359.1 210.9 356.6 209.6 354.1 209.4 353.9 209.1 335.6 208.9 335.4 208.6 332.1 208.6 331.9 208.4 325.1 208.4 324.9 208.1 315.9 207.6 315.6 207.4 314.1 207.4 313.9 207.1 309.4 206.9 309.1 206.6 304.9 206.1 304.6 205.9 299.9 205.6 299.6 205.4 292.9 204.9 292.6 204.6 285.6 204.6 283.9 205.4Z" fill="rgb(42,42,42)" fill-rule="evenodd"/><path d="M300.4 267.4 299.4 269.6 299.4 270.6 298.1 274.9 298.1 276.6 297.9 276.9 297.9 278.6 297.6 278.9 297.6 286.1 297.9 286.4 297.9 287.6 298.1 287.9 298.4 289.6 299.4 291.6 301.6 293.9 304.4 295.1 305.4 295.1 308.1 295.9 309.4 295.9 309.6 296.1 312.6 296.1 312.9 296.4 315.1 296.4 315.4 296.6 331.1 296.6 331.4 296.4 333.6 296.4 333.9 296.1 337.1 295.9 339.6 294.9 340.4 294.9 341.6 294.1 341.9 292.9 340.9 291.1 336.1 286.6 332.6 284.4 327.4 280.4 325.1 278.1 323.4 276.9 315.6 268.9 312.9 266.9 310.1 265.6 309.1 265.6 307.6 265.1 305.4 265.1 305.1 265.4 303.4 265.6ZM360.1 237.4 358.9 237.9 355.9 240.4 354.9 242.6 354.4 245.6 353.9 246.9 353.9 247.9 353.6 248.1 353.6 249.6 353.4 249.9 353.4 252.9 353.1 253.1 353.1 254.9 352.9 255.1 352.9 282.4 353.1 282.6 353.1 287.1 353.4 287.4 353.9 291.9 354.6 293.1 356.9 295.4 359.4 296.9 360.1 296.9 360.4 297.1 363.4 297.1 365.9 295.9 367.4 294.4 369.1 290.6 369.1 289.9 369.6 288.6 369.6 287.4 369.9 287.1 369.9 285.1 370.1 284.9 370.1 273.4 369.9 273.1 369.9 270.6 369.6 270.4 369.6 267.9 369.4 267.6 368.9 261.1 368.6 260.9 368.6 259.4 368.4 259.1 368.4 257.6 367.9 255.9 367.6 252.6 367.4 252.4 366.6 247.9 364.6 242.4 362.4 238.4 361.6 237.6ZM283.9 206.1 283.9 207.1 285.6 210.1 290.4 216.1 293.4 219.4 298.6 227.1 299.9 230.9 301.9 234.6 302.6 235.4 304.4 236.1 306.4 236.1 308.9 235.4 312.1 233.9 317.6 229.9 318.9 228.1 320.6 226.4 322.6 224.9 327.1 220.6 330.1 218.4 332.6 217.1 336.1 216.1 340.1 215.9 340.4 215.6 348.4 215.9 351.1 216.6 354.4 216.9 354.9 217.1 355.1 216.9 356.1 216.9 357.6 216.1 358.4 215.4 359.1 213.6 359.1 212.1 358.4 211.1 355.9 210.1 354.6 210.1 354.4 209.9 347.9 209.9 347.6 209.6 341.1 209.6 340.9 209.4 332.9 209.4 332.6 209.1 325.9 209.1 325.6 208.9 322.6 208.9 322.4 208.6 319.1 208.6 318.9 208.4 316.6 208.4 316.4 208.1 313.1 207.9 311.4 207.4 309.9 207.4 309.6 207.1 305.4 206.6 303.6 206.1 299.1 205.9 298.9 205.6 296.9 205.6 296.6 205.4 292.4 205.1 292.1 204.9 286.1 204.9 284.6 205.4Z" fill="rgb(53,53,53)" fill-rule="evenodd"/><path d="M300.6 268.4 299.6 270.9 299.6 271.6 298.9 273.9 298.9 275.1 298.6 275.4 298.4 279.6 298.1 279.9 298.1 285.1 298.4 285.4 298.4 286.9 299.4 290.1 300.1 291.4 302.1 293.4 304.1 294.4 307.1 294.9 307.4 295.1 315.9 295.6 316.1 295.9 328.9 295.9 329.1 295.6 331.6 295.6 331.9 295.4 337.4 294.6 340.4 293.4 340.4 292.6 339.1 290.9 335.9 287.9 328.6 282.9 324.9 279.4 323.1 278.1 320.9 275.9 316.6 270.4 313.6 267.9 310.1 266.1 307.9 265.9 307.6 265.6 305.9 265.6 302.9 266.6ZM359.6 238.6 357.6 239.9 355.9 242.1 355.4 244.9 354.9 246.1 354.9 247.1 354.6 247.4 354.4 250.4 354.1 250.6 354.1 253.9 353.9 254.1 353.9 255.9 353.6 256.1 353.6 280.9 353.9 281.1 353.9 285.9 354.1 286.1 354.1 287.6 354.4 287.9 354.9 291.4 356.6 294.1 358.1 295.6 360.1 296.6 363.4 296.6 365.1 295.9 366.6 294.6 368.1 291.9 368.9 289.4 369.1 286.4 369.4 286.1 369.4 283.4 369.6 283.1 369.4 272.4 369.1 272.1 369.1 269.6 368.9 269.4 368.9 267.4 368.6 267.1 368.6 265.4 368.4 265.1 367.9 258.1 367.6 257.9 367.4 254.4 367.1 254.1 367.1 252.6 366.4 250.1 366.4 249.1 365.1 245.6 362.6 240.6 361.4 238.9ZM284.4 206.1 284.6 208.1 286.1 210.4 290.9 216.1 293.1 218.4 297.6 224.1 299.1 226.4 300.1 229.1 302.1 233.1 304.1 234.9 306.6 234.9 311.1 233.1 316.1 229.6 320.4 225.4 322.4 223.9 328.1 218.6 330.4 217.1 332.6 216.1 335.1 215.4 336.4 215.4 336.6 215.1 341.6 214.9 341.9 214.6 347.6 214.6 347.9 214.9 349.4 214.9 352.1 215.6 355.4 215.9 356.6 215.4 357.6 214.4 358.1 213.4 358.1 212.1 357.6 211.6 355.6 210.9 354.1 210.9 353.9 210.6 332.1 210.1 331.9 209.9 325.1 209.9 324.9 209.6 321.9 209.6 321.6 209.4 318.4 209.4 318.1 209.1 316.4 209.1 316.1 208.9 313.9 208.6 310.4 207.6 309.1 207.6 308.9 207.4 303.4 206.6 303.1 206.4 298.9 206.1 298.6 205.9 296.6 205.9 296.4 205.6 292.1 205.4 291.9 205.1 286.4 205.1 286.1 205.4 285.4 205.4Z" fill="rgb(64,64,64)" fill-rule="evenodd"/><path d="M303.1 267.1 300.6 269.6 299.6 272.9 299.1 277.1 298.9 277.4 298.6 284.4 298.9 284.6 299.1 287.1 300.1 289.9 302.4 292.6 304.6 293.9 306.4 294.4 307.9 294.4 308.1 294.6 314.9 294.6 318.1 293.4 319.6 292.1 320.6 290.6 321.9 286.4 321.9 281.1 321.6 280.9 321.1 278.1 319.6 275.1 317.1 271.6 314.9 269.4 312.9 267.9 310.4 266.6 308.1 266.4 307.9 266.1 305.9 266.1ZM361.6 244.4 359.9 245.1 359.1 245.9 358.1 247.4 356.9 251.4 356.6 254.6 356.4 254.9 356.1 257.9 355.9 258.1 355.6 263.4 355.4 263.6 355.1 276.6 355.4 276.9 355.6 287.9 355.9 288.1 355.9 289.6 356.1 289.9 356.1 291.1 356.6 292.9 357.4 294.1 359.4 295.9 361.1 296.4 362.6 296.4 364.4 295.9 365.9 294.9 366.6 293.9 367.9 291.1 367.9 290.4 368.4 289.1 368.4 286.6 368.6 286.4 368.6 274.4 368.4 274.1 368.4 270.4 368.1 270.1 367.9 265.4 367.6 265.1 367.6 263.1 367.4 262.9 367.4 258.4 367.1 258.1 367.1 256.4 366.9 256.1 366.9 254.4 366.6 254.1 366.4 251.4 366.1 251.1 365.6 248.4 364.4 245.9 363.1 244.6ZM284.6 206.4 284.6 207.4 285.9 209.6 291.6 216.4 299.4 224.9 301.9 226.9 304.1 228.1 307.4 229.1 311.6 229.1 315.1 227.9 318.1 225.9 319.9 224.1 321.6 221.4 322.4 218.9 322.4 216.1 321.9 214.6 320.9 213.1 319.4 211.6 314.9 209.4 312.6 208.9 311.6 208.4 307.1 207.6 306.9 207.4 305.6 207.4 305.4 207.1 302.9 206.9 302.6 206.6 300.9 206.6 300.6 206.4 296.6 206.1 294.9 205.6 286.4 205.4 285.1 205.9Z" fill="rgb(74,74,74)" fill-rule="evenodd"/><path d="M304.9 266.9 303.4 267.6 301.9 268.9 300.6 271.1 300.1 272.9 299.9 275.9 299.4 277.6 299.4 285.1 299.6 285.4 300.1 288.1 301.6 290.9 302.9 292.1 305.6 293.6 308.9 293.9 309.1 294.1 313.1 294.1 313.4 293.9 314.6 293.9 316.1 293.4 318.1 292.4 319.4 291.1 320.9 287.1 321.1 281.9 320.9 281.6 320.6 279.1 319.9 277.1 317.1 272.4 315.4 270.4 312.9 268.4 310.6 267.1 308.9 266.9 308.6 266.6 305.9 266.6 305.6 266.9ZM361.1 245.4 359.4 246.9 358.6 248.4 357.9 250.6 357.4 255.1 356.9 256.9 356.4 264.1 356.1 264.4 356.1 269.1 355.9 269.4 356.1 282.9 356.4 283.1 356.4 287.4 356.6 287.6 356.9 291.1 357.9 293.9 359.1 295.1 360.9 295.9 363.1 295.9 364.9 295.1 366.1 293.9 367.6 290.1 367.6 289.4 367.9 289.1 367.9 285.9 368.1 285.6 368.1 277.4 367.9 277.1 367.9 272.1 367.6 271.9 367.6 269.6 367.4 269.4 367.4 267.1 367.1 266.9 367.1 264.6 366.9 264.4 366.6 256.4 366.4 256.1 366.4 254.4 366.1 254.1 365.9 251.4 365.4 250.4 365.1 248.6 363.6 246.1 362.6 245.4ZM284.9 206.9 285.1 207.9 286.1 209.6 292.6 216.9 300.4 224.6 302.6 226.4 305.1 227.6 306.6 228.1 307.9 228.1 308.1 228.4 310.9 228.4 313.6 227.6 317.1 225.6 319.6 223.1 320.9 221.1 321.6 218.4 321.6 216.6 320.6 214.1 318.6 212.1 311.6 208.9 308.9 208.4 307.6 207.9 304.1 207.4 303.9 207.1 298.9 206.6 298.6 206.4 296.9 206.4 296.6 206.1 295.1 206.1 294.9 205.9 292.9 205.9 292.6 205.6 286.4 205.6 285.6 205.9Z" fill="rgb(85,85,85)" fill-rule="evenodd"/><path d="M303.6 268.1 302.1 269.6 301.4 270.9 300.6 273.1 300.4 276.6 299.9 278.1 299.9 284.1 300.1 284.4 300.4 286.9 301.4 289.4 303.6 291.9 306.1 293.1 307.9 293.1 308.1 293.4 313.9 293.4 317.4 292.1 318.9 290.6 320.1 287.6 320.1 286.6 320.4 286.4 320.4 281.1 319.4 277.6 317.1 273.1 313.9 269.6 310.1 267.4 309.4 267.4 309.1 267.1 305.9 267.1ZM361.6 245.9 359.9 247.4 358.6 250.4 358.4 252.6 358.1 252.9 358.1 254.6 357.9 254.9 357.6 257.9 357.4 258.1 357.1 263.4 356.9 263.6 356.6 276.9 356.9 277.1 357.1 288.4 357.4 288.6 357.4 290.1 357.6 290.4 357.6 291.6 358.1 293.1 359.4 294.6 361.1 295.4 363.1 295.4 365.1 294.4 366.1 292.9 367.1 290.4 367.1 289.6 367.4 289.4 367.4 286.1 367.6 285.9 367.6 280.6 367.4 280.4 367.4 276.6 367.1 276.4 367.1 271.4 366.9 271.1 366.9 268.9 366.6 268.6 366.6 266.4 366.4 266.1 366.4 263.9 366.1 263.6 366.1 256.9 365.9 256.6 365.6 252.9 364.4 248.4 362.6 246.1ZM285.4 206.6 285.4 207.9 286.4 209.6 291.1 214.9 300.1 223.6 302.6 225.6 304.4 226.6 307.4 227.6 311.6 227.6 313.1 227.1 313.9 226.6 314.4 226.6 317.4 224.6 318.6 223.4 320.4 220.6 320.4 219.9 320.9 218.9 320.9 216.1 319.6 213.9 317.9 212.4 311.4 209.4 303.9 207.4 302.4 207.4 302.1 207.1 298.9 206.9 298.6 206.6 297.1 206.6 296.9 206.4 295.4 206.4 295.1 206.1 293.4 206.1 293.1 205.9 287.9 205.6 287.6 205.9 286.4 205.9Z" fill="rgb(96,96,96)" fill-rule="evenodd"/><path d="M305.4 267.9 303.6 268.9 302.9 269.6 301.6 271.9 301.1 273.6 300.9 277.1 300.4 278.6 300.4 283.6 300.6 283.9 300.6 285.4 301.4 287.9 302.6 290.1 303.6 291.1 306.6 292.6 313.4 292.9 315.9 292.1 317.4 291.4 318.6 289.9 319.9 285.9 319.9 281.6 318.6 277.4 316.1 272.6 313.1 269.6 309.4 267.6 307.6 267.6 307.4 267.4 307.1 267.6ZM361.6 246.6 360.6 247.4 359.9 248.6 358.9 251.9 358.6 255.1 358.1 256.6 357.6 263.9 357.4 264.1 357.1 276.4 357.4 276.6 357.6 288.1 357.9 288.4 357.9 289.9 358.1 290.1 358.4 292.1 359.6 294.1 360.6 294.6 362.6 294.9 364.1 294.4 365.4 293.1 366.9 289.9 366.9 288.9 367.1 288.6 367.1 279.4 366.9 279.1 366.9 276.9 366.6 276.6 366.6 271.9 366.4 271.6 366.4 269.4 366.1 269.1 366.1 266.9 365.9 266.6 365.9 264.4 365.6 264.1 365.6 257.4 365.4 257.1 365.1 253.4 364.9 253.1 364.9 252.1 364.4 251.1 364.1 249.4 363.4 247.9 362.6 246.9ZM285.6 206.6 285.6 207.9 287.9 211.1 301.1 223.6 303.4 225.4 305.4 226.4 307.9 227.1 311.1 227.1 311.4 226.9 312.1 226.9 314.9 225.6 316.4 224.6 318.6 222.4 319.6 220.9 320.4 218.4 320.4 216.6 319.4 214.6 317.9 213.1 310.6 209.6 303.6 207.6 297.4 206.9 297.1 206.6 295.6 206.6 295.4 206.4 293.9 206.4 293.6 206.1 287.4 205.9Z" fill="rgb(106,106,106)" fill-rule="evenodd"/><path d="M304.4 269.1 303.1 270.4 301.9 273.4 301.6 276.4 301.1 278.1 301.1 284.1 301.4 284.4 301.4 285.6 301.9 287.4 302.9 289.4 304.4 290.9 307.1 292.1 312.4 292.4 312.6 292.1 315.4 291.6 316.9 290.9 317.9 289.9 319.1 286.4 319.1 281.1 318.1 277.9 315.4 272.6 312.6 269.9 309.4 268.1 306.6 268.1ZM361.4 247.6 360.4 249.1 359.6 251.6 359.4 254.4 358.9 256.1 358.9 257.6 358.6 257.9 358.4 263.1 358.1 263.4 358.1 268.1 357.9 268.4 357.9 287.1 358.1 287.4 358.6 291.1 359.4 292.9 361.1 294.1 363.1 294.1 363.9 293.9 365.1 292.6 366.6 289.4 366.9 281.4 366.6 281.1 366.6 278.1 366.4 277.9 366.1 275.4 365.9 275.1 365.9 271.1 365.6 270.9 365.6 268.6 365.4 268.4 365.4 266.1 365.1 265.9 365.1 263.6 364.9 263.4 364.9 256.6 364.6 256.4 364.4 252.9 362.9 248.4 362.1 247.6ZM285.9 206.9 285.9 207.9 286.4 208.9 289.9 212.9 297.4 219.1 300.9 222.6 303.4 224.6 305.9 225.9 307.6 226.4 311.4 226.4 312.9 225.9 316.6 223.6 318.9 220.9 319.6 218.6 319.6 216.4 318.6 214.6 316.1 212.9 310.6 210.1 303.6 207.9 299.4 207.4 297.6 206.9 296.1 206.9 295.9 206.6 294.4 206.6 294.1 206.4 287.1 206.1Z" fill="rgb(117,117,117)" fill-rule="evenodd"/><path d="M306.9 268.9 304.1 270.4 302.6 273.6 302.4 277.1 301.9 278.6 301.9 284.4 302.1 284.6 302.4 286.6 303.4 288.9 304.9 290.4 306.6 291.4 308.6 291.6 308.9 291.9 313.1 291.6 316.6 290.1 317.6 288.6 318.4 286.1 318.4 281.6 318.1 281.4 318.1 280.4 317.1 277.6 314.4 272.6 312.6 270.9 310.4 269.4 309.1 268.9ZM361.6 248.9 360.9 250.1 360.9 250.9 360.4 251.9 360.1 255.1 359.9 255.4 359.6 258.4 359.4 258.6 359.4 261.1 359.1 261.4 359.1 263.9 358.9 264.1 358.6 277.1 358.4 277.4 358.4 278.9 358.1 279.1 358.1 283.1 358.4 283.4 358.4 287.6 358.6 287.9 358.6 289.1 359.4 291.9 360.4 293.1 361.6 293.6 362.9 293.6 363.9 293.1 365.4 291.6 366.4 289.1 366.6 282.4 366.4 282.1 366.1 277.6 365.1 274.6 365.1 271.9 364.9 271.6 364.9 269.4 364.6 269.1 364.6 266.9 364.4 266.6 364.4 264.4 364.1 264.1 364.1 257.4 363.9 257.1 363.6 253.4 362.6 249.6 362.1 248.9ZM286.1 207.1 286.1 207.9 287.1 209.6 291.6 214.1 295.4 216.9 301.1 221.9 304.1 224.1 305.6 224.9 307.9 225.6 311.1 225.6 312.6 225.1 315.6 223.4 317.4 221.6 318.4 219.9 318.9 218.4 318.9 216.6 318.1 215.4 317.1 214.4 315.9 213.9 313.4 212.1 309.6 210.1 302.4 207.9 301.1 207.9 300.9 207.6 299.6 207.6 297.9 207.1 296.4 207.1 294.6 206.6 292.9 206.6 292.6 206.4 287.1 206.4Z" fill="rgb(128,128,128)" fill-rule="evenodd"/><path d="M308.6 275.4 305.4 276.6 303.6 278.1 302.9 279.9 302.9 282.4 302.6 282.6 302.9 285.1 303.6 287.9 305.6 290.1 308.6 291.4 311.6 291.4 314.4 290.4 315.9 289.1 316.9 287.4 317.4 285.6 317.4 282.9 317.1 282.6 316.9 280.9 315.6 278.4 313.9 276.4 311.4 275.4ZM363.1 274.9 360.4 275.6 359.1 276.9 358.6 278.6 358.6 286.9 358.9 287.1 359.1 289.6 359.6 291.4 360.1 292.1 362.1 293.1 363.9 292.6 364.9 291.6 365.6 290.4 366.1 288.6 366.1 280.6 365.9 280.4 365.9 278.4 365.1 276.1 364.1 275.1 363.4 275.1ZM286.4 207.4 286.4 207.9 287.4 209.6 291.1 213.4 299.6 219.9 303.9 222.4 306.6 223.1 310.4 222.9 313.1 221.6 313.9 220.9 314.9 219.1 315.1 215.6 314.4 213.9 313.1 212.6 309.4 210.4 302.4 208.1 299.6 207.9 298.1 207.4 296.6 207.4 295.1 206.9 288.4 206.4 288.1 206.6 287.1 206.6Z" fill="rgb(138,138,138)" fill-rule="evenodd"/><path d="M309.1 276.1 308.9 276.4 307.9 276.4 305.4 277.6 304.1 278.9 303.6 280.4 303.6 282.6 303.4 282.9 303.6 285.1 304.6 288.1 306.1 289.6 308.6 290.9 311.4 290.9 314.1 289.6 315.6 288.1 316.4 286.4 316.6 283.4 316.4 283.1 316.1 281.1 315.1 279.1 313.1 276.9 310.9 276.1ZM361.9 275.9 360.4 276.6 359.1 278.4 359.1 279.6 358.9 279.9 359.1 287.4 360.1 291.1 361.6 292.4 363.1 292.4 365.1 290.6 365.6 289.4 365.6 288.4 365.9 288.1 365.9 281.6 365.6 281.4 365.4 277.9 364.6 276.4 363.9 275.9ZM286.6 207.4 286.6 207.9 287.6 209.6 291.9 213.6 299.9 219.4 304.9 221.9 307.1 222.1 307.4 222.4 310.9 221.9 312.4 221.1 313.4 220.1 314.1 218.6 314.4 216.1 313.6 214.1 312.6 212.9 309.1 210.6 303.4 208.6 299.9 208.1 298.4 207.6 297.1 207.6 296.9 207.4 295.6 207.4 295.4 207.1 287.9 206.6Z" fill="rgb(149,149,149)" fill-rule="evenodd"/><path d="M308.4 276.9 306.1 277.9 305.1 278.6 304.4 279.9 304.4 281.9 304.1 282.1 304.4 285.6 305.1 287.6 306.1 288.9 308.9 290.4 311.1 290.4 313.4 289.4 315.4 287.4 315.9 285.9 315.9 282.6 314.4 279.1 313.4 277.9 311.4 276.9ZM363.1 276.4 361.1 276.9 359.9 278.1 359.4 279.6 359.4 286.4 359.6 286.6 359.9 288.9 360.4 290.6 362.1 291.9 363.4 291.6 364.6 290.6 365.4 288.9 365.4 285.6 365.6 285.4 365.6 282.6 365.4 282.4 365.4 280.6 365.1 280.4 364.9 277.9 363.9 276.6ZM286.9 207.6 287.9 209.6 291.6 213.1 300.1 218.9 304.1 220.9 306.6 221.6 310.4 221.4 311.1 220.9 311.6 220.9 313.4 218.9 313.6 218.1 313.6 215.6 313.4 214.9 310.9 212.1 308.9 210.9 303.4 208.9 298.9 208.1 298.6 207.9 294.4 207.4 294.1 207.1 287.9 206.9Z" fill="rgb(159,159,159)" fill-rule="evenodd"/><path d="M309.1 277.4 306.1 278.6 305.1 279.6 304.6 283.4 304.9 283.6 304.9 285.1 305.6 287.4 307.6 289.1 309.4 289.9 310.6 289.9 313.4 288.6 314.6 287.4 315.4 285.4 315.4 283.1 314.4 280.4 313.6 279.1 312.4 277.9 310.9 277.4ZM362.1 277.1 360.4 278.4 359.9 280.1 359.9 286.4 360.1 286.6 360.4 288.9 361.1 290.6 361.9 291.1 363.1 291.1 364.6 289.9 365.1 288.4 365.1 282.1 364.9 281.9 364.9 280.4 364.6 280.1 364.4 278.1 363.4 277.1ZM287.4 207.4 287.4 208.4 288.1 209.6 291.6 212.9 298.1 217.1 304.4 220.4 307.1 221.1 309.9 220.9 311.6 220.1 312.9 218.4 313.1 216.1 312.4 214.4 311.1 212.9 308.6 211.1 303.4 209.1 297.6 208.1 297.4 207.9 292.9 207.4 292.6 207.1 287.9 207.1Z" fill="rgb(170,170,170)" fill-rule="evenodd"/><path d="M308.6 278.1 306.6 279.1 305.6 280.1 305.6 281.6 305.4 281.9 305.6 285.6 306.9 287.9 309.1 289.1 310.9 289.1 313.6 287.6 314.6 285.6 314.6 282.9 314.4 282.6 314.4 281.9 312.6 278.9 311.4 278.1ZM362.1 277.9 360.9 278.9 360.6 279.6 360.6 286.9 360.9 287.1 361.1 289.1 361.6 290.1 363.1 290.4 364.1 289.6 364.6 288.4 364.6 282.4 364.4 282.1 363.9 278.6 363.1 277.9ZM287.6 207.6 287.6 208.4 288.4 209.6 292.4 213.1 299.9 217.6 304.6 219.9 306.4 220.4 309.1 220.4 309.4 220.1 310.1 220.1 311.1 219.6 312.4 217.9 312.4 215.6 311.6 214.1 309.1 211.9 305.4 210.1 302.4 209.1 301.4 209.1 301.1 208.9 300.1 208.9 299.9 208.6 297.6 208.4 296.1 207.9 294.9 207.9 294.6 207.6 293.1 207.6 292.9 207.4 287.9 207.4Z" fill="rgb(181,181,181)" fill-rule="evenodd"/><path d="M362.1 278.9 361.4 279.9 361.4 286.6 362.1 289.1 362.4 289.4 363.1 289.4 363.9 288.4 363.9 282.6 363.6 282.4 363.1 279.1 362.9 278.9ZM309.1 278.9 306.6 280.1 306.1 283.6 306.4 283.9 306.4 285.1 306.9 286.6 307.6 287.4 309.4 288.4 310.6 288.4 312.6 287.4 313.4 286.6 313.9 285.4 313.9 283.1 313.1 281.1 311.9 279.4 310.9 278.9ZM287.9 207.9 288.1 208.9 292.1 212.6 297.9 216.1 302.9 218.6 305.6 219.6 308.1 219.9 310.9 218.9 311.6 217.6 311.6 215.4 310.9 213.9 308.9 212.1 304.6 210.1 302.4 209.4 301.4 209.4 301.1 209.1 300.1 209.1 298.9 208.6 296.4 208.4 294.9 207.9 293.4 207.9 293.1 207.6 288.1 207.6Z" fill="rgb(191,191,191)" fill-rule="evenodd"/><path d="M288.4 207.9 288.6 209.1 291.9 212.1 296.4 214.9 302.9 218.1 305.9 219.1 307.9 219.1 309.9 218.1 310.9 216.6 310.9 214.9 308.9 212.6 303.1 209.9 300.1 209.4 298.9 208.9 297.9 208.9 297.6 208.6 293.6 208.1 293.4 207.9Z" fill="rgb(202,202,202)" fill-rule="evenodd"/><path d="M288.9 208.1 289.1 209.4 291.6 211.6 296.6 214.6 302.4 217.4 306.6 218.4 308.6 217.6 309.6 216.6 310.1 215.6 310.1 214.6 308.1 212.6 303.6 210.4 300.9 209.6 299.9 209.6 297.6 208.9 293.6 208.4 293.4 208.1Z" fill="rgb(212,212,212)" fill-rule="evenodd"/><path d="M289.4 208.4 289.4 209.1 291.1 210.9 296.9 214.4 301.1 216.4 303.6 217.1 306.4 217.4 307.9 216.9 309.1 215.4 308.9 214.1 307.6 212.9 302.6 210.4 299.6 209.9 298.4 209.4 297.4 209.4 297.1 209.1 296.1 209.1 295.9 208.9 294.9 208.9 294.6 208.6 293.4 208.6 293.1 208.4Z" fill="rgb(223,223,223)" fill-rule="evenodd"/><path d="M290.1 208.9 290.1 209.4 292.9 211.6 300.1 215.4 303.1 216.4 306.1 216.4 307.1 215.9 307.9 214.9 307.6 213.9 306.4 212.6 302.9 210.9 300.1 210.4 296.9 209.4 292.9 208.9 292.6 208.6 290.4 208.6Z" fill="rgb(234,234,234)" fill-rule="evenodd"/><path d="M290.9 209.4 292.1 210.6 294.6 212.1 298.1 213.9 302.1 215.4 304.1 215.6 305.6 215.1 306.4 214.4 306.4 213.9 305.6 212.9 302.1 211.1 301.4 211.1 297.1 209.9 293.4 209.4 293.1 209.1 291.1 209.1Z" fill="rgb(244,244,244)" fill-rule="evenodd"/><path d="M292.9 210.1 297.9 212.9 301.1 214.1 303.4 214.4 304.4 213.6 303.9 212.9 301.1 211.6 299.4 211.4 297.4 210.6 295.1 210.4 294.9 210.1Z" fill="rgb(255,255,255)" fill-rule="evenodd"/></g><g filter="url(#fm9)"><path d="M407 207.4 406.43 207.74 406.12 207.97 406.04 208.19 406.18 208.49 406.5 208.96 407 209.7 407.76 210.77 408.82 212.1 410.07 213.61 411.4 215.2 412.72 216.76 413.9 218.2 415.01 219.48 416.13 220.66 417.23 221.81 418.27 223.02 419.21 224.36 420 225.9 420.65 227.61 421.19 229.43 421.63 231.37 421.97 233.46 422.23 235.73 422.4 238.2 422.45 240.88 422.37 243.76 422.2 246.82 421.99 250.03 421.77 253.36 421.6 256.8 421.44 260.54 421.24 264.65 421.05 268.89 420.89 273.01 420.79 276.8 420.8 280 420.9 282.58 421.07 284.72 421.31 286.51 421.61 288.06 421.97 289.46 422.4 290.8 422.82 292.06 423.22 293.14 423.68 294.08 424.29 294.89 425.14 295.59 426.3 296.2 427.77 296.72 429.49 297.13 431.44 297.43 433.61 297.63 436 297.72 438.6 297.7 441.62 297.53 445.12 297.19 448.84 296.74 452.51 296.26 455.88 295.79 458.7 295.4 460.95 295.13 462.83 294.93 464.42 294.74 465.77 294.53 466.94 294.23 468 293.8 468.91 293.19 469.6 292.43 470.12 291.59 470.51 290.73 470.79 289.91 471 289.2 471.13 288.72 471.16 288.46 471.08 288.23 470.91 287.88 470.64 287.22 470.3 286.1 469.83 284.43 469.21 282.32 468.5 279.92 467.76 277.34 467.04 274.73 466.4 272.2 465.81 269.72 465.22 267.18 464.66 264.6 464.13 262 463.67 259.39 463.3 256.8 463.02 254.22 462.8 251.64 462.66 249.05 462.56 246.46 462.51 243.88 462.5 241.3 462.51 238.67 462.56 235.99 462.66 233.31 462.8 230.69 463.02 228.2 463.3 225.9 463.68 223.7 464.14 221.53 464.67 219.48 465.24 217.66 465.83 216.17 466.4 215.1 466.95 214.57 467.51 214.51 468.08 214.78 468.68 215.22 469.31 215.68 470 216 470.76 216.24 471.58 216.55 472.44 216.87 473.32 217.16 474.18 217.39 475 217.5 475.81 217.51 476.63 217.44 477.44 217.31 478.2 217.11 478.9 216.84 479.5 216.5 480.02 216.06 480.5 215.5 480.91 214.88 481.22 214.22 481.43 213.58 481.5 213 481.43 212.44 481.22 211.87 480.91 211.31 480.5 210.8 480.02 210.35 479.5 210 478.88 209.75 478.13 209.59 477.31 209.5 476.48 209.46 475.69 209.47 475 209.5 474.46 209.61 474.04 209.82 473.66 210.07 473.25 210.3 472.72 210.47 472 210.5 471.28 210.4 470.65 210.21 469.91 209.96 468.84 209.64 467.24 209.28 464.9 208.9 461.59 208.45 457.44 207.91 452.76 207.33 447.85 206.75 443.03 206.22 438.6 205.8 434.38 205.44 430.09 205.11 425.88 204.83 421.92 204.63 418.37 204.55 415.4 204.6 413.05 204.84 411.19 205.26 409.75 205.78 408.63 206.36 407.74 206.92Z" fill="rgb(0,0,0)" fill-rule="evenodd"/><path d="M406.6 207.9 406.1 208.4 408.4 211.6 410.1 213.4 414.6 216.4 420.4 222.1 421.4 223.6 422.9 226.9 422.9 227.6 423.9 230.4 423.9 231.9 424.4 233.1 424.6 237.1 424.9 237.4 424.9 243.6 424.6 243.9 424.6 248.4 424.4 248.6 424.4 251.6 424.1 251.9 424.1 254.9 423.9 255.1 423.9 262.4 423.6 262.6 423.6 266.6 423.4 266.9 423.1 281.6 423.4 281.9 423.6 287.1 425.6 293.1 426.9 294.4 429.1 295.9 430.6 296.6 432.6 296.9 432.9 297.1 441.1 296.9 441.4 296.6 443.1 296.6 443.4 296.4 446.1 296.1 448.1 295.4 449.4 295.4 450.9 296.6 451.6 296.6 451.9 296.4 453.4 296.4 453.6 296.1 455.1 296.1 455.4 295.9 457.4 295.9 460.6 293.4 466.1 292.4 467.9 291.4 468.6 290.1 468.9 288.6 468.6 288.4 468.4 286.4 465.9 279.1 465.1 274.9 464.6 273.9 464.1 270.9 462.9 266.9 462.6 264.4 461.9 261.6 461.9 260.4 461.1 257.6 461.1 255.9 460.9 255.6 460.6 247.9 460.4 247.6 460.4 235.1 460.6 234.9 460.9 227.1 461.1 226.9 461.1 225.4 461.6 224.1 461.9 222.1 462.4 221.1 463.4 220.1 464.9 219.6 465.6 216.9 466.4 215.4 467.1 214.6 467.9 214.6 468.4 215.1 468.9 215.1 470.1 213.9 470.9 213.9 474.4 215.4 476.9 215.4 478.1 214.9 479.1 213.9 479.1 212.6 478.1 211.9 475.4 211.9 473.1 212.9 471.4 212.9 468.9 211.1 466.9 210.1 462.6 209.6 458.6 208.1 456.9 208.1 456.6 207.9 455.4 207.9 453.6 207.4 451.9 207.4 451.6 207.1 444.4 206.6 444.1 206.4 442.1 206.4 441.9 206.1 439.9 206.1 439.6 205.9 433.6 205.6 433.4 205.4 431.4 205.4 431.1 205.1 428.4 205.1 428.1 204.9 414.6 204.6 414.4 204.9 412.9 204.9 410.4 205.6Z" fill="rgb(11,11,11)" fill-rule="evenodd"/><path d="M408.9 206.4 406.9 207.9 407.1 209.6 409.4 211.9 417.6 217.6 421.1 220.9 423.9 224.4 425.6 229.1 425.6 230.1 426.1 231.6 426.1 233.1 426.4 233.4 426.6 238.6 426.9 238.9 426.9 251.6 426.6 251.9 426.6 259.1 426.4 259.4 426.4 266.9 426.1 267.1 426.1 271.1 425.9 271.4 425.9 286.9 426.1 287.1 426.6 291.1 427.4 292.9 428.9 294.6 430.4 295.6 432.1 296.1 433.4 296.1 433.6 296.4 440.6 296.1 440.9 295.9 444.4 295.6 444.6 295.4 446.6 295.1 449.1 294.1 450.6 294.1 451.6 295.1 452.9 295.6 455.1 295.4 456.6 294.6 460.9 290.6 461.1 288.1 460.9 287.9 460.6 286.1 457.1 277.6 456.6 275.4 455.9 273.6 455.9 272.9 455.1 270.6 455.1 269.4 454.9 269.1 454.4 263.4 454.1 263.1 454.1 261.6 453.9 261.4 453.6 253.1 453.4 252.9 453.4 247.9 453.1 247.6 453.1 237.9 453.4 237.6 453.4 234.1 453.6 233.9 453.9 228.6 454.1 228.4 454.6 225.4 455.9 222.6 457.1 221.4 459.4 220.6 461.9 218.9 463.1 218.6 464.6 217.9 465.9 215.4 467.6 213.9 467.9 212.9 466.9 211.9 465.4 211.4 462.6 211.1 460.9 209.9 459.1 209.1 458.4 209.1 455.1 208.1 451.6 207.6 451.4 207.4 448.1 207.1 446.4 206.6 444.4 206.6 444.1 206.4 434.9 205.9 434.6 205.6 431.4 205.6 431.1 205.4 427.9 205.4 427.6 205.1 416.9 205.1 416.6 205.4 413.9 205.4 413.6 205.6 410.1 205.9Z" fill="rgb(21,21,21)" fill-rule="evenodd"/><path d="M409.4 206.6 407.6 207.9 407.4 208.6 407.9 209.6 411.4 212.9 419.9 218.6 422.9 221.6 424.4 223.6 425.6 226.1 426.6 229.4 426.9 231.9 427.1 232.1 427.1 233.9 427.4 234.1 427.6 239.4 427.9 239.6 427.9 251.6 427.6 251.9 427.4 266.6 427.1 266.9 427.1 270.9 426.9 271.1 426.9 287.1 427.1 287.4 427.1 289.1 427.4 289.4 427.6 291.6 428.6 293.4 429.6 294.4 430.9 295.1 432.6 295.4 432.9 295.6 441.4 295.4 441.6 295.1 444.9 294.9 447.6 294.1 449.9 292.9 450.4 292.9 452.1 291.6 452.9 289.4 453.1 286.4 453.4 286.1 453.4 276.6 453.1 276.4 452.9 273.1 452.4 271.6 452.1 267.6 451.9 267.4 451.9 265.9 451.6 265.6 451.6 264.4 451.4 264.1 451.4 262.9 450.9 261.1 450.9 259.6 450.6 259.4 450.6 257.9 450.4 257.6 450.4 256.1 450.1 255.9 450.1 254.4 449.9 254.1 449.9 252.6 449.6 252.4 449.6 250.9 449.4 250.6 449.4 248.6 449.1 248.4 448.9 241.4 448.6 241.1 448.6 237.9 448.4 237.6 448.4 224.9 448.6 224.6 448.6 221.6 449.4 219.6 450.6 218.4 455.4 216.1 457.6 215.6 460.6 214.1 461.6 213.1 461.6 211.9 460.6 210.6 457.6 209.4 456.6 209.4 454.4 208.6 453.1 208.6 451.9 208.1 448.6 207.9 448.4 207.6 445.4 207.4 445.1 207.1 442.1 207.1 441.9 206.9 438.9 206.9 438.6 206.6 429.1 206.1 428.9 205.9 424.6 205.9 424.4 205.6 417.1 205.6 416.9 205.9 413.9 205.9 413.6 206.1 411.6 206.1 411.4 206.4Z" fill="rgb(32,32,32)" fill-rule="evenodd"/><path d="M409.9 206.9 408.1 208.1 408.1 208.9 408.9 210.1 411.6 212.6 414.6 214.9 420.6 218.6 422.9 220.6 425.1 223.4 426.4 225.9 427.1 228.1 427.1 229.1 427.9 231.9 428.1 236.1 428.4 236.4 428.4 239.1 428.6 239.4 428.6 251.1 428.4 251.4 428.4 254.1 428.1 254.4 427.9 268.1 427.6 268.4 427.6 272.4 427.4 272.6 427.4 284.9 427.6 285.1 427.6 287.1 427.9 287.4 427.9 288.9 428.1 289.1 428.4 291.4 429.1 292.9 430.4 294.1 433.4 295.1 440.9 294.9 441.1 294.6 444.4 294.4 447.1 293.6 449.4 292.4 450.6 291.1 451.1 290.1 451.6 285.9 451.9 285.6 451.9 276.1 451.6 275.9 451.6 273.9 451.4 273.6 451.4 272.1 451.1 271.9 451.1 270.1 450.9 269.9 450.9 267.9 450.4 266.1 450.4 264.6 449.9 263.1 449.9 261.9 449.6 261.6 449.6 260.4 449.4 260.1 449.4 258.9 449.1 258.6 449.1 257.4 448.9 257.1 448.9 255.9 448.6 255.6 448.6 254.4 448.1 252.6 447.9 248.9 447.6 248.6 447.6 245.6 447.4 245.4 447.4 241.9 447.1 241.6 447.1 238.4 446.9 238.1 446.9 224.4 447.1 224.1 447.1 221.1 448.1 218.6 449.4 217.4 454.4 214.9 457.1 214.1 459.6 212.9 460.4 211.9 459.6 210.9 458.1 210.1 456.1 209.9 453.9 209.1 452.6 209.1 451.4 208.6 449.9 208.6 449.6 208.4 448.1 208.4 447.9 208.1 444.6 207.9 444.4 207.6 438.4 207.4 438.1 207.1 435.9 207.1 435.6 206.9 433.4 206.9 433.1 206.6 430.9 206.6 430.6 206.4 426.9 206.4 426.6 206.1 416.1 206.1 415.9 206.4 412.4 206.4 412.1 206.6Z" fill="rgb(42,42,42)" fill-rule="evenodd"/><path d="M410.4 207.1 408.6 208.4 408.6 208.9 409.4 210.1 414.4 214.4 421.6 218.9 424.6 221.4 425.6 222.6 427.1 225.6 428.1 229.1 428.4 231.6 428.6 231.9 428.6 233.6 428.9 233.9 428.9 236.1 429.1 236.4 429.4 242.4 429.1 242.6 429.1 251.6 428.9 251.9 428.6 260.1 428.4 260.4 428.4 267.9 428.1 268.1 428.1 272.1 427.9 272.4 427.9 282.4 428.1 282.6 428.1 286.4 428.4 286.6 428.4 288.1 428.6 288.4 429.1 291.4 429.6 292.4 430.9 293.6 432.6 294.4 433.9 294.4 434.1 294.6 440.6 294.4 440.9 294.1 443.6 293.9 443.9 293.6 446.6 293.1 448.4 292.1 449.9 290.4 450.4 288.9 450.6 285.9 450.9 285.6 450.9 276.1 450.6 275.9 450.6 273.9 450.1 272.1 449.9 267.9 449.6 267.6 449.1 263.4 448.6 261.9 448.6 260.6 448.4 260.4 448.4 259.1 448.1 258.9 448.1 257.6 447.9 257.4 447.9 256.1 447.4 254.4 447.4 252.9 446.9 251.1 446.9 248.9 446.6 248.6 446.4 241.9 446.1 241.6 446.1 238.4 445.9 238.1 445.9 224.4 446.1 224.1 446.1 220.9 447.6 217.6 449.4 216.1 454.1 213.9 456.9 213.1 458.4 212.4 458.9 211.6 458.1 210.9 454.4 209.9 453.1 209.9 452.9 209.6 448.6 209.1 446.9 208.6 445.4 208.6 445.1 208.4 442.4 208.4 442.1 208.1 436.4 207.6 436.1 207.4 434.6 207.4 434.4 207.1 428.1 206.9 427.9 206.6 423.9 206.6 423.6 206.4 417.1 206.4 416.9 206.6 413.1 206.6 412.9 206.9Z" fill="rgb(53,53,53)" fill-rule="evenodd"/><path d="M410.6 207.4 409.6 207.9 409.1 208.6 409.6 209.9 411.9 212.1 415.1 214.6 419.9 217.6 421.1 218.1 422.6 219.4 425.1 220.9 426.1 221.9 427.4 223.9 428.9 228.1 428.9 229.1 429.4 230.6 429.4 232.4 429.6 232.6 429.6 235.4 429.9 235.6 429.9 245.9 429.6 246.1 429.6 250.4 429.4 250.6 429.4 253.4 429.1 253.6 429.1 259.1 428.9 259.4 428.9 262.6 428.6 262.9 428.4 284.9 428.6 285.1 428.9 287.9 429.9 291.4 431.4 293.1 434.1 294.1 439.4 294.1 439.6 293.9 442.1 293.6 445.6 292.6 447.1 291.9 448.4 290.6 449.1 289.1 449.4 286.4 449.6 286.1 449.6 275.4 449.4 275.1 449.4 273.4 449.1 273.1 449.1 271.6 448.9 271.4 448.6 267.4 448.4 267.1 448.4 265.9 448.1 265.6 448.1 264.4 447.9 264.1 447.9 262.9 447.6 262.6 447.6 261.4 447.4 261.1 447.4 259.9 447.1 259.6 447.1 258.4 446.6 256.6 446.6 255.1 446.1 253.4 445.9 249.6 445.6 249.4 445.6 246.6 445.4 246.4 445.4 244.1 445.1 243.9 445.1 240.9 444.9 240.6 444.9 237.6 444.6 237.4 444.6 225.4 444.9 225.1 444.9 222.1 445.1 221.9 445.1 220.4 445.9 218.1 448.1 215.6 452.4 213.4 456.1 212.1 456.6 211.6 454.9 210.9 452.6 210.6 451.4 210.1 448.1 209.9 446.4 209.4 441.4 208.9 441.1 208.6 438.6 208.4 437.1 207.9 430.9 207.4 430.6 207.1 426.9 207.1 426.6 206.9 413.4 206.9 413.1 207.1Z" fill="rgb(64,64,64)" fill-rule="evenodd"/><path d="M410.9 207.6 409.6 208.6 409.6 209.1 411.1 211.1 416.6 215.4 421.6 218.1 423.6 219.6 425.4 220.4 427.4 221.9 428.6 223.4 429.9 226.6 430.1 229.1 430.4 229.4 430.4 231.1 430.6 231.4 430.6 240.9 430.4 241.1 430.4 245.6 430.1 245.9 430.1 248.9 429.9 249.1 429.6 255.4 429.4 255.6 429.4 260.1 429.1 260.4 429.1 267.9 428.9 268.1 428.9 272.4 428.6 272.6 428.6 281.1 428.9 281.4 428.9 285.4 429.1 285.6 429.4 287.9 430.1 290.4 431.4 292.4 434.1 293.6 439.9 293.6 440.1 293.4 441.4 293.4 442.4 292.9 443.1 292.9 444.6 292.1 446.1 290.1 447.1 286.9 447.1 283.4 447.4 283.1 447.1 266.6 446.9 266.4 446.9 264.1 446.6 263.9 446.6 261.9 446.4 261.6 446.1 258.4 445.9 258.1 445.6 255.1 445.4 254.9 445.4 253.6 444.9 251.9 444.4 245.9 444.1 245.6 443.6 241.6 443.4 241.4 443.1 236.4 442.9 236.1 442.9 228.9 443.1 228.6 443.1 225.9 443.4 225.6 443.6 221.1 443.9 220.9 444.1 219.1 445.9 215.4 445.9 214.6 446.1 214.4 445.9 212.9 445.1 211.4 444.4 210.6 442.6 209.6 441.9 209.6 439.6 208.9 438.6 208.9 437.4 208.4 434.6 208.1 434.4 207.9 426.1 207.4 425.9 207.1 413.6 207.1 413.4 207.4Z" fill="rgb(74,74,74)" fill-rule="evenodd"/><path d="M411.1 207.9 410.1 208.6 410.1 209.1 410.6 210.1 412.6 212.1 415.1 214.1 418.6 216.4 427.9 221.4 429.1 222.6 429.9 224.1 430.9 227.4 430.9 228.9 431.1 229.1 431.1 230.6 431.4 230.9 431.4 236.1 431.1 236.4 431.1 242.6 430.9 242.9 430.6 248.1 430.4 248.4 430.4 249.9 430.1 250.1 429.9 257.1 429.6 257.4 429.6 260.6 429.4 260.9 429.4 269.1 429.1 269.4 429.1 282.6 429.4 282.9 429.4 285.6 429.6 285.9 429.6 286.9 430.4 289.6 431.1 291.1 432.1 292.1 433.6 292.9 435.6 293.1 435.9 293.4 438.6 293.4 438.9 293.1 440.4 293.1 442.9 292.4 444.4 291.4 445.6 289.1 446.1 287.6 446.1 286.4 446.4 286.1 446.4 282.6 446.6 282.4 446.4 266.9 446.1 266.6 445.6 259.9 445.4 259.6 445.4 258.4 444.9 256.6 444.9 254.9 444.4 253.4 443.9 247.6 443.6 247.4 443.6 246.1 442.9 243.4 442.4 237.1 442.1 236.9 442.1 228.1 442.4 227.9 442.9 220.9 443.1 220.6 443.4 218.9 445.1 214.9 445.1 213.1 444.6 212.1 443.4 210.9 441.9 210.1 435.1 208.4 431.4 208.1 431.1 207.9 428.4 207.9 428.1 207.6 425.4 207.6 425.1 207.4 413.4 207.4 413.1 207.6Z" fill="rgb(85,85,85)" fill-rule="evenodd"/><path d="M411.4 208.1 410.6 208.6 410.9 209.9 413.9 212.9 419.9 216.9 428.4 221.1 429.9 222.6 430.4 223.6 431.6 227.9 431.9 231.4 432.1 231.6 432.1 235.4 431.9 235.6 431.9 240.6 431.6 240.9 431.4 245.9 430.9 247.4 430.6 251.1 430.4 251.4 430.1 257.6 429.9 257.9 429.9 262.1 429.6 262.4 429.6 270.4 429.4 270.6 429.4 280.6 429.6 280.9 429.6 284.4 429.9 284.6 430.4 287.9 431.1 289.9 432.9 291.9 435.9 292.9 438.9 292.9 439.1 292.6 441.9 292.1 443.4 291.4 444.6 289.9 445.6 286.9 445.6 283.6 445.9 283.4 445.6 265.6 445.4 265.4 444.9 258.9 444.6 258.6 444.4 255.6 444.1 255.4 444.1 254.1 443.9 253.9 443.9 252.6 443.4 250.9 443.1 246.9 442.9 246.6 442.9 245.6 442.1 242.9 441.6 236.4 441.4 236.1 441.4 228.9 441.6 228.6 442.1 221.4 442.4 221.1 442.9 218.4 444.6 214.4 444.4 213.1 442.9 211.4 441.4 210.6 434.4 208.6 430.9 208.4 430.6 208.1 427.9 208.1 427.6 207.9 425.1 207.9 424.9 207.6 413.4 207.6 413.1 207.9Z" fill="rgb(96,96,96)" fill-rule="evenodd"/><path d="M412.1 208.1 411.1 208.6 410.9 209.1 411.1 209.9 413.9 212.6 419.4 216.4 429.1 221.1 430.4 222.4 431.1 223.9 431.9 226.1 432.1 228.9 432.4 229.1 432.6 235.9 432.4 236.1 432.1 243.9 431.9 244.1 431.9 245.9 431.4 247.1 431.4 248.4 430.9 249.9 430.9 251.9 430.6 252.1 430.4 258.6 430.1 258.9 430.1 263.4 429.9 263.6 429.9 281.1 430.1 281.4 430.1 284.4 431.4 288.9 432.1 290.4 432.9 291.1 434.4 291.9 436.1 292.1 436.4 292.4 438.4 292.4 438.6 292.1 440.9 291.9 442.6 291.1 443.9 289.9 445.1 286.4 445.1 283.1 445.4 282.9 445.4 270.4 445.1 270.1 444.9 262.6 444.6 262.4 444.6 260.4 444.1 258.6 443.9 255.4 443.6 255.1 443.1 251.4 442.9 251.1 442.6 247.4 442.4 247.1 442.4 246.1 441.6 243.4 441.1 236.9 440.9 236.6 440.9 228.4 441.1 228.1 441.6 220.9 441.9 220.6 442.1 218.9 443.9 214.6 443.9 213.4 442.9 212.1 441.6 211.4 440.4 211.1 436.1 209.4 432.4 208.9 432.1 208.6 425.1 208.1 424.9 207.9 419.6 207.9 419.4 207.6 413.1 207.9 412.9 208.1Z" fill="rgb(106,106,106)" fill-rule="evenodd"/><path d="M413.1 208.1 411.9 208.6 411.4 209.1 411.4 209.6 413.9 212.4 418.9 215.9 424.1 218.6 426.6 219.4 429.4 220.9 431.1 222.4 431.6 223.4 432.9 227.9 432.9 229.6 433.1 229.9 433.1 231.6 433.4 231.9 433.4 235.1 433.1 235.4 432.9 243.1 432.6 243.4 432.4 245.9 431.9 246.9 431.9 247.9 431.4 249.4 431.4 250.9 430.9 252.6 430.9 255.4 430.6 255.6 430.4 269.9 430.1 270.1 430.1 277.9 430.4 278.1 430.6 284.4 432.1 289.1 433.4 290.6 435.9 291.6 439.1 291.6 441.6 290.9 443.1 289.9 444.4 286.9 444.6 283.1 444.9 282.9 444.9 279.4 445.1 279.1 444.9 267.1 444.6 266.9 444.4 262.1 444.1 261.9 444.1 260.1 443.9 259.9 443.4 255.1 442.4 251.4 441.9 246.9 441.6 246.6 441.6 245.6 440.9 242.9 440.4 236.1 440.1 235.9 440.1 229.1 440.4 228.9 440.9 221.6 443.1 214.9 443.1 213.4 442.1 212.4 438.4 210.6 433.1 209.1 430.1 208.9 429.9 208.6 425.1 208.4 424.9 208.1 420.1 208.1 419.9 207.9Z" fill="rgb(117,117,117)" fill-rule="evenodd"/><path d="M413.1 208.4 411.9 209.1 411.9 209.9 415.4 213.4 421.6 217.1 424.1 218.4 426.6 219.1 430.1 220.9 432.4 223.1 433.4 226.1 433.6 228.9 433.9 229.1 434.1 235.9 433.9 236.1 433.6 243.6 432.4 246.9 432.1 248.9 431.6 250.1 431.6 251.6 431.1 253.4 430.9 260.9 430.6 261.1 430.6 279.9 430.9 280.1 431.1 284.4 432.1 287.6 433.6 289.9 436.1 290.9 438.6 290.9 441.4 290.1 442.6 289.1 443.9 286.1 444.1 283.1 444.4 282.9 444.4 280.4 444.6 280.1 444.6 272.4 444.4 272.1 444.4 266.6 444.1 266.4 443.9 261.4 443.6 261.1 443.6 259.6 443.4 259.4 442.6 253.6 441.9 251.4 441.9 250.1 440.1 243.4 439.6 236.9 439.4 236.6 439.4 228.4 439.6 228.1 439.9 223.1 440.1 222.9 440.1 221.6 442.1 216.9 442.4 213.9 440.9 212.4 437.9 210.9 434.1 209.6 431.4 209.4 429.9 208.9 425.1 208.6 424.9 208.4 420.9 208.4 420.6 208.1 415.1 208.1 414.9 208.4Z" fill="rgb(128,128,128)" fill-rule="evenodd"/><path d="M435.1 244.6 434.4 244.9 433.6 245.6 432.9 247.1 432.1 249.9 432.1 251.1 431.6 252.4 431.6 254.1 431.4 254.4 431.1 263.6 430.9 263.9 430.9 265.1 431.1 265.4 431.1 269.6 430.9 269.9 431.1 280.1 431.4 280.4 431.4 282.1 431.6 282.4 431.9 285.1 433.1 287.9 434.9 289.1 435.6 289.1 435.9 289.4 438.6 289.4 440.6 288.6 442.6 286.6 443.6 284.1 443.9 280.1 444.1 279.9 443.9 265.1 443.6 264.9 443.6 262.9 443.4 262.6 443.4 260.9 443.1 260.6 442.6 256.1 440.6 248.4 439.4 246.4 438.4 245.4 436.6 244.6ZM412.1 209.4 412.4 210.1 413.6 211.6 416.4 213.9 419.6 215.9 424.1 218.1 427.4 219.1 432.6 221.9 433.4 221.9 433.6 222.1 436.6 222.1 436.9 221.9 438.6 221.6 439.4 221.1 440.4 219.9 441.4 217.9 441.9 216.1 441.6 214.1 439.9 212.4 436.4 210.6 433.6 209.9 431.1 209.6 429.6 209.1 427.4 209.1 427.1 208.9 425.1 208.9 424.9 208.6 421.9 208.6 421.6 208.4 414.9 208.4 414.6 208.6 412.6 208.9Z" fill="rgb(138,138,138)" fill-rule="evenodd"/><path d="M435.9 245.9 434.4 246.4 433.6 247.1 433.1 248.1 432.4 251.9 431.9 252.9 431.6 258.6 431.4 258.9 431.4 277.1 431.6 277.4 431.6 279.9 431.9 280.1 432.4 283.9 433.4 286.4 434.4 287.4 435.4 287.9 438.1 288.1 438.4 287.9 439.1 287.9 440.6 286.9 442.4 284.9 442.9 283.6 443.1 280.9 443.4 280.6 443.4 278.6 443.6 278.4 443.6 267.1 443.4 266.9 443.4 264.4 443.1 264.1 443.1 262.1 442.9 261.9 442.4 257.4 440.9 251.9 439.4 248.6 437.4 246.4ZM412.6 209.4 412.9 210.4 415.6 213.1 417.9 214.6 424.1 217.9 426.1 218.4 431.6 220.9 433.9 221.1 434.1 221.4 436.1 221.4 436.4 221.1 438.1 220.9 439.9 219.6 441.4 216.6 441.4 215.6 440.6 213.9 438.6 212.1 435.4 210.6 432.4 210.1 432.1 209.9 429.6 209.6 429.4 209.4 427.4 209.4 427.1 209.1 422.9 208.9 422.6 208.6 414.6 208.6 414.4 208.9 413.4 208.9Z" fill="rgb(149,149,149)" fill-rule="evenodd"/><path d="M435.6 247.4 434.1 248.4 432.1 253.6 431.9 261.1 431.6 261.4 431.6 263.4 431.9 263.6 431.6 263.9 431.6 264.6 431.9 264.9 431.9 270.6 431.6 270.9 431.9 277.1 432.1 277.4 432.1 279.4 432.6 280.6 432.6 281.6 434.4 285.4 436.1 286.6 438.4 286.6 439.4 286.1 441.4 283.9 442.6 279.9 442.6 278.6 443.1 276.9 443.1 266.9 442.9 266.6 442.9 264.1 442.6 263.9 442.4 260.4 442.1 260.1 442.1 259.1 441.9 258.9 441.9 257.9 441.1 255.1 439.9 252.4 437.6 248.6 436.6 247.6ZM413.1 209.6 413.4 210.6 415.6 212.9 417.4 214.1 424.1 217.6 426.9 218.4 430.6 220.1 432.6 220.4 432.9 220.6 436.9 220.6 437.1 220.4 437.9 220.4 439.6 219.1 440.9 216.9 440.9 215.9 439.9 213.9 437.9 212.1 435.1 210.9 429.6 209.9 429.4 209.6 423.4 209.1 423.1 208.9 414.6 208.9 414.4 209.1 413.6 209.1Z" fill="rgb(159,159,159)" fill-rule="evenodd"/><path d="M434.1 251.1 433.4 251.9 432.6 253.4 432.4 258.6 432.1 258.9 432.1 267.9 432.4 268.1 432.1 272.1 432.4 272.4 432.6 278.4 432.9 278.6 433.1 280.6 434.1 282.9 435.1 283.9 436.1 284.4 437.9 284.4 439.1 283.9 440.6 282.4 441.9 279.6 441.9 278.6 442.4 277.1 442.4 275.4 442.6 275.1 442.6 274.4 442.4 274.1 442.6 273.4 442.4 264.4 442.1 264.1 442.1 262.4 441.9 262.1 441.9 260.9 441.1 258.4 441.1 257.4 439.9 254.4 438.9 252.9 437.4 251.4 436.9 251.1ZM413.6 209.6 413.9 210.9 415.6 212.6 419.4 215.1 422.9 216.9 426.9 218.1 431.1 219.9 434.9 220.1 435.1 220.4 435.4 220.1 436.9 220.1 438.6 219.4 440.4 217.1 440.1 215.1 437.9 212.6 436.1 211.6 433.9 210.9 429.6 210.1 429.4 209.9 427.6 209.9 427.4 209.6 425.6 209.6 425.4 209.4 423.6 209.4 423.4 209.1 414.6 209.1Z" fill="rgb(170,170,170)" fill-rule="evenodd"/><path d="M435.1 252.1 433.6 252.9 433.1 253.6 433.1 254.6 432.9 254.9 432.6 267.4 432.9 267.6 433.1 276.9 433.4 277.1 433.6 279.6 434.9 282.1 436.4 283.1 437.6 283.1 439.4 282.1 441.1 278.6 441.1 277.9 441.9 275.9 442.1 267.4 441.9 267.1 441.9 265.1 441.6 264.9 441.4 261.9 440.1 257.1 437.6 253.1 436.6 252.4ZM414.1 209.9 414.1 210.6 414.6 211.4 416.9 213.4 417.6 213.6 418.9 214.6 424.6 217.4 426.9 217.9 429.6 219.1 431.6 219.4 431.9 219.6 433.6 219.6 433.9 219.9 435.9 219.9 438.1 219.1 439.9 217.1 439.6 215.1 437.9 213.1 435.1 211.6 433.6 211.1 430.6 210.6 429.4 210.1 427.6 210.1 427.4 209.9 425.6 209.9 425.4 209.6 423.6 209.6 423.4 209.4 417.1 209.1 416.9 209.4 414.9 209.4Z" fill="rgb(181,181,181)" fill-rule="evenodd"/><path d="M434.9 253.6 433.9 254.6 433.9 255.6 433.6 255.9 433.6 261.6 433.4 261.9 433.4 264.6 433.1 264.9 433.1 266.1 433.4 266.4 433.4 271.4 433.6 271.6 433.9 275.6 434.1 275.9 434.1 276.9 434.9 279.6 435.4 280.6 436.4 281.6 437.1 281.9 437.9 281.6 438.9 280.6 441.1 276.1 441.1 275.4 441.4 275.1 441.4 271.9 441.6 271.6 441.6 268.4 441.4 268.1 441.4 265.6 441.1 265.4 440.9 262.9 440.4 261.1 439.4 259.4 438.9 257.4 437.4 254.9 436.1 253.6ZM414.6 209.9 414.6 210.9 416.9 213.1 418.9 214.4 423.4 216.6 426.1 217.6 426.9 217.6 429.9 218.9 432.6 219.1 432.9 219.4 436.1 219.4 438.1 218.6 439.4 217.1 439.4 215.9 437.9 213.6 436.4 212.6 433.4 211.4 430.4 210.9 429.1 210.4 423.6 209.9 423.4 209.6 416.9 209.4 416.6 209.6 415.1 209.6Z" fill="rgb(191,191,191)" fill-rule="evenodd"/><path d="M436.6 260.4 435.4 260.9 434.6 261.6 433.9 263.6 434.1 271.9 434.4 272.1 434.9 275.6 435.4 276.6 436.6 277.6 438.6 277.9 440.1 276.6 440.6 275.4 440.6 274.1 440.9 273.9 440.9 266.6 440.6 266.4 440.4 263.9 439.6 261.6 438.6 260.6ZM415.1 210.1 415.1 211.1 416.9 212.9 418.9 214.1 423.4 216.4 429.4 218.4 435.1 219.1 437.6 218.4 438.9 216.9 438.9 215.6 437.1 213.6 435.6 212.6 432.1 211.4 430.1 211.1 428.9 210.6 423.6 210.1 423.4 209.9 416.9 209.6Z" fill="rgb(202,202,202)" fill-rule="evenodd"/><path d="M437.1 261.6 435.9 262.1 434.6 263.9 434.6 269.1 435.1 270.9 435.1 272.6 436.1 275.6 437.6 276.6 438.6 276.6 439.6 275.9 440.1 274.1 440.1 266.9 439.9 266.6 439.4 263.4 438.9 262.4 438.4 261.9ZM415.6 210.4 415.9 211.6 418.9 213.9 422.9 215.9 427.9 217.6 428.6 217.6 430.9 218.4 435.6 218.6 437.1 218.1 438.4 216.9 438.4 215.9 437.1 214.1 436.1 213.4 432.6 211.9 431.9 211.9 428.6 210.9 423.4 210.4 423.1 210.1 417.1 209.9Z" fill="rgb(212,212,212)" fill-rule="evenodd"/><path d="M436.6 263.1 435.9 263.9 435.6 264.6 435.6 267.9 435.9 268.1 436.1 271.4 437.1 274.6 437.6 275.1 438.4 275.1 439.1 273.9 439.1 267.4 438.1 263.6 437.6 263.1ZM416.1 210.6 416.1 211.4 417.4 212.6 418.1 212.9 419.4 213.9 424.1 216.1 426.4 216.6 427.4 217.1 428.1 217.1 429.1 217.6 431.6 217.9 431.9 218.1 435.6 218.1 436.9 217.6 437.9 216.4 437.4 215.1 436.4 214.1 433.6 212.6 432.1 212.1 431.4 212.1 428.1 211.1 426.6 211.1 426.4 210.9 424.9 210.9 424.6 210.6 422.6 210.6 422.4 210.4 416.4 210.4Z" fill="rgb(223,223,223)" fill-rule="evenodd"/><path d="M416.6 211.1 417.6 212.4 419.1 213.4 423.9 215.6 426.9 216.6 429.9 217.1 430.1 217.4 431.4 217.4 431.6 217.6 435.1 217.6 436.4 217.1 437.1 216.4 436.4 214.9 435.1 213.9 431.6 212.4 430.9 212.4 428.6 211.6 425.9 211.4 425.6 211.1 423.9 211.1 423.6 210.9 417.1 210.6Z" fill="rgb(234,234,234)" fill-rule="evenodd"/><path d="M417.6 211.4 418.4 212.4 420.4 213.6 425.1 215.6 425.9 215.6 428.1 216.4 429.1 216.4 429.4 216.6 430.4 216.6 430.6 216.9 432.6 216.9 432.9 217.1 435.1 216.9 436.1 216.1 434.6 214.4 431.4 212.9 429.6 212.6 428.6 212.1 424.1 211.6 423.9 211.4 420.9 211.4 420.6 211.1 417.9 211.1Z" fill="rgb(244,244,244)" fill-rule="evenodd"/><path d="M420.1 212.1 420.6 212.9 425.6 214.9 427.6 215.1 430.1 215.9 431.4 215.9 431.6 216.1 433.4 216.1 433.9 215.9 433.9 215.4 433.4 214.9 429.1 213.1 425.6 212.6 425.4 212.4 423.9 212.4 423.6 212.1Z" fill="rgb(255,255,255)" fill-rule="evenodd"/></g>
<rect x="38" y="22.4" width="112.4" height="112" fill="none" stroke="#222" stroke-width="1"/>
<line x1="35.6" y1="32.5" x2="38" y2="32.5" stroke="#111" stroke-width="0.9"/>
<text x="24.5" y="34.9" font-size="6.8" text-anchor="start" fill="#1a1a1a" textLength="6.6" lengthAdjust="spacingAndGlyphs" stroke="#1a1a1a" stroke-width="0.1" >10</text>
<text x="31.3" y="32.2" font-size="4.3" text-anchor="start" fill="#1a1a1a" stroke="#1a1a1a" stroke-width="0.05" >5</text>
<line x1="35.6" y1="59.5" x2="38" y2="59.5" stroke="#111" stroke-width="0.9"/>
<text x="24.5" y="61.9" font-size="6.8" text-anchor="start" fill="#1a1a1a" textLength="6.6" lengthAdjust="spacingAndGlyphs" stroke="#1a1a1a" stroke-width="0.1" >10</text>
<text x="31.3" y="59.2" font-size="4.3" text-anchor="start" fill="#1a1a1a" stroke="#1a1a1a" stroke-width="0.05" >4</text>
<line x1="35.6" y1="90.6" x2="38" y2="90.6" stroke="#111" stroke-width="0.9"/>
<text x="24.5" y="93" font-size="6.8" text-anchor="start" fill="#1a1a1a" textLength="6.6" lengthAdjust="spacingAndGlyphs" stroke="#1a1a1a" stroke-width="0.1" >10</text>
<text x="31.3" y="90.3" font-size="4.3" text-anchor="start" fill="#1a1a1a" stroke="#1a1a1a" stroke-width="0.05" >3</text>
<line x1="35.6" y1="108.5" x2="38" y2="108.5" stroke="#111" stroke-width="0.9"/>
<text x="27.8" y="110.9" font-size="6.8" text-anchor="start" fill="#1a1a1a" textLength="3.3" lengthAdjust="spacingAndGlyphs" stroke="#1a1a1a" stroke-width="0.1" >0</text>
<line x1="35.6" y1="127.8" x2="38" y2="127.8" stroke="#111" stroke-width="0.9"/>
<text x="20.9" y="130.2" font-size="6.8" text-anchor="start" fill="#1a1a1a" textLength="10.2" lengthAdjust="spacingAndGlyphs" stroke="#1a1a1a" stroke-width="0.1" >−10</text>
<text x="31.3" y="127.5" font-size="4.3" text-anchor="start" fill="#1a1a1a" stroke="#1a1a1a" stroke-width="0.05" >3</text>
<line x1="36.7" y1="37.9" x2="38" y2="37.9" stroke="#333" stroke-width="0.7"/>
<line x1="36.7" y1="43.3" x2="38" y2="43.3" stroke="#333" stroke-width="0.7"/>
<line x1="36.7" y1="48.7" x2="38" y2="48.7" stroke="#333" stroke-width="0.7"/>
<line x1="36.7" y1="54.1" x2="38" y2="54.1" stroke="#333" stroke-width="0.7"/>
<line x1="36.7" y1="65.72" x2="38" y2="65.72" stroke="#333" stroke-width="0.7"/>
<line x1="36.7" y1="71.94" x2="38" y2="71.94" stroke="#333" stroke-width="0.7"/>
<line x1="36.7" y1="78.16" x2="38" y2="78.16" stroke="#333" stroke-width="0.7"/>
<line x1="36.7" y1="84.38" x2="38" y2="84.38" stroke="#333" stroke-width="0.7"/>
<line x1="36.7" y1="94.18" x2="38" y2="94.18" stroke="#333" stroke-width="0.7"/>
<line x1="36.7" y1="97.76" x2="38" y2="97.76" stroke="#333" stroke-width="0.7"/>
<line x1="36.7" y1="101.34" x2="38" y2="101.34" stroke="#333" stroke-width="0.7"/>
<line x1="36.7" y1="104.92" x2="38" y2="104.92" stroke="#333" stroke-width="0.7"/>
<line x1="36.7" y1="112.36" x2="38" y2="112.36" stroke="#333" stroke-width="0.7"/>
<line x1="36.7" y1="116.22" x2="38" y2="116.22" stroke="#333" stroke-width="0.7"/>
<line x1="36.7" y1="120.08" x2="38" y2="120.08" stroke="#333" stroke-width="0.7"/>
<line x1="36.7" y1="123.94" x2="38" y2="123.94" stroke="#333" stroke-width="0.7"/>
<line x1="44" y1="134.4" x2="44" y2="136.8" stroke="#111" stroke-width="0.9"/>
<text x="37.5" y="145.8" font-size="6.8" text-anchor="start" fill="#1a1a1a" textLength="10.2" lengthAdjust="spacingAndGlyphs" stroke="#1a1a1a" stroke-width="0.1" >−10</text>
<text x="47.9" y="143.1" font-size="4.3" text-anchor="start" fill="#1a1a1a" stroke="#1a1a1a" stroke-width="0.05" >3</text>
<line x1="62.7" y1="134.4" x2="62.7" y2="136.8" stroke="#111" stroke-width="0.9"/>
<text x="60.85" y="145.8" font-size="6.8" text-anchor="start" fill="#1a1a1a" textLength="3.3" lengthAdjust="spacingAndGlyphs" stroke="#1a1a1a" stroke-width="0.1" >0</text>
<line x1="81.7" y1="134.4" x2="81.7" y2="136.8" stroke="#111" stroke-width="0.9"/>
<text x="77" y="145.8" font-size="6.8" text-anchor="start" fill="#1a1a1a" textLength="6.6" lengthAdjust="spacingAndGlyphs" stroke="#1a1a1a" stroke-width="0.1" >10</text>
<text x="83.8" y="143.1" font-size="4.3" text-anchor="start" fill="#1a1a1a" stroke="#1a1a1a" stroke-width="0.05" >3</text>
<line x1="112.6" y1="134.4" x2="112.6" y2="136.8" stroke="#111" stroke-width="0.9"/>
<text x="107.9" y="145.8" font-size="6.8" text-anchor="start" fill="#1a1a1a" textLength="6.6" lengthAdjust="spacingAndGlyphs" stroke="#1a1a1a" stroke-width="0.1" >10</text>
<text x="114.7" y="143.1" font-size="4.3" text-anchor="start" fill="#1a1a1a" stroke="#1a1a1a" stroke-width="0.05" >4</text>
<line x1="139.4" y1="134.4" x2="139.4" y2="136.8" stroke="#111" stroke-width="0.9"/>
<text x="134.7" y="145.8" font-size="6.8" text-anchor="start" fill="#1a1a1a" textLength="6.6" lengthAdjust="spacingAndGlyphs" stroke="#1a1a1a" stroke-width="0.1" >10</text>
<text x="141.5" y="143.1" font-size="4.3" text-anchor="start" fill="#1a1a1a" stroke="#1a1a1a" stroke-width="0.05" >5</text>
<line x1="47.74" y1="134.4" x2="47.74" y2="135.7" stroke="#333" stroke-width="0.7"/>
<line x1="51.48" y1="134.4" x2="51.48" y2="135.7" stroke="#333" stroke-width="0.7"/>
<line x1="55.22" y1="134.4" x2="55.22" y2="135.7" stroke="#333" stroke-width="0.7"/>
<line x1="58.96" y1="134.4" x2="58.96" y2="135.7" stroke="#333" stroke-width="0.7"/>
<line x1="66.5" y1="134.4" x2="66.5" y2="135.7" stroke="#333" stroke-width="0.7"/>
<line x1="70.3" y1="134.4" x2="70.3" y2="135.7" stroke="#333" stroke-width="0.7"/>
<line x1="74.1" y1="134.4" x2="74.1" y2="135.7" stroke="#333" stroke-width="0.7"/>
<line x1="77.9" y1="134.4" x2="77.9" y2="135.7" stroke="#333" stroke-width="0.7"/>
<line x1="87.88" y1="134.4" x2="87.88" y2="135.7" stroke="#333" stroke-width="0.7"/>
<line x1="94.06" y1="134.4" x2="94.06" y2="135.7" stroke="#333" stroke-width="0.7"/>
<line x1="100.24" y1="134.4" x2="100.24" y2="135.7" stroke="#333" stroke-width="0.7"/>
<line x1="106.42" y1="134.4" x2="106.42" y2="135.7" stroke="#333" stroke-width="0.7"/>
<line x1="117.96" y1="134.4" x2="117.96" y2="135.7" stroke="#333" stroke-width="0.7"/>
<line x1="123.32" y1="134.4" x2="123.32" y2="135.7" stroke="#333" stroke-width="0.7"/>
<line x1="128.68" y1="134.4" x2="128.68" y2="135.7" stroke="#333" stroke-width="0.7"/>
<line x1="134.04" y1="134.4" x2="134.04" y2="135.7" stroke="#333" stroke-width="0.7"/>
<text x="94.2" y="158.3" font-size="10" text-anchor="middle" fill="#1a1a1a" textLength="14.2" lengthAdjust="spacingAndGlyphs" stroke="#1a1a1a" stroke-width="0.15" >CD7</text>
<text x="14.7" y="78.4" font-size="10" text-anchor="middle" fill="#1a1a1a" textLength="17" lengthAdjust="spacingAndGlyphs" transform="rotate(-90 14.7 78.4)" stroke="#1a1a1a" stroke-width="0.15" >CCR9</text>
<text x="94.2" y="16.5" font-size="10" text-anchor="middle" fill="#111" textLength="38.8" lengthAdjust="spacingAndGlyphs" stroke="#111" stroke-width="0.12" >2478/cell</text>
<rect x="38.5" y="368.3" width="111" height="110.3" fill="none" stroke="#222" stroke-width="1"/>
<line x1="36.1" y1="378.3" x2="38.5" y2="378.3" stroke="#111" stroke-width="0.9"/>
<text x="25" y="380.7" font-size="6.8" text-anchor="start" fill="#1a1a1a" textLength="6.6" lengthAdjust="spacingAndGlyphs" stroke="#1a1a1a" stroke-width="0.1" >10</text>
<text x="31.8" y="378" font-size="4.3" text-anchor="start" fill="#1a1a1a" stroke="#1a1a1a" stroke-width="0.05" >5</text>
<line x1="36.1" y1="404.8" x2="38.5" y2="404.8" stroke="#111" stroke-width="0.9"/>
<text x="25" y="407.2" font-size="6.8" text-anchor="start" fill="#1a1a1a" textLength="6.6" lengthAdjust="spacingAndGlyphs" stroke="#1a1a1a" stroke-width="0.1" >10</text>
<text x="31.8" y="404.5" font-size="4.3" text-anchor="start" fill="#1a1a1a" stroke="#1a1a1a" stroke-width="0.05" >4</text>
<line x1="36.1" y1="435.5" x2="38.5" y2="435.5" stroke="#111" stroke-width="0.9"/>
<text x="25" y="437.9" font-size="6.8" text-anchor="start" fill="#1a1a1a" textLength="6.6" lengthAdjust="spacingAndGlyphs" stroke="#1a1a1a" stroke-width="0.1" >10</text>
<text x="31.8" y="435.2" font-size="4.3" text-anchor="start" fill="#1a1a1a" stroke="#1a1a1a" stroke-width="0.05" >3</text>
<line x1="36.1" y1="453" x2="38.5" y2="453" stroke="#111" stroke-width="0.9"/>
<text x="28.3" y="455.4" font-size="6.8" text-anchor="start" fill="#1a1a1a" textLength="3.3" lengthAdjust="spacingAndGlyphs" stroke="#1a1a1a" stroke-width="0.1" >0</text>
<line x1="36.1" y1="472.2" x2="38.5" y2="472.2" stroke="#111" stroke-width="0.9"/>
<text x="21.4" y="474.6" font-size="6.8" text-anchor="start" fill="#1a1a1a" textLength="10.2" lengthAdjust="spacingAndGlyphs" stroke="#1a1a1a" stroke-width="0.1" >−10</text>
<text x="31.8" y="471.9" font-size="4.3" text-anchor="start" fill="#1a1a1a" stroke="#1a1a1a" stroke-width="0.05" >3</text>
<line x1="37.2" y1="383.6" x2="38.5" y2="383.6" stroke="#333" stroke-width="0.7"/>
<line x1="37.2" y1="388.9" x2="38.5" y2="388.9" stroke="#333" stroke-width="0.7"/>
<line x1="37.2" y1="394.2" x2="38.5" y2="394.2" stroke="#333" stroke-width="0.7"/>
<line x1="37.2" y1="399.5" x2="38.5" y2="399.5" stroke="#333" stroke-width="0.7"/>
<line x1="37.2" y1="410.94" x2="38.5" y2="410.94" stroke="#333" stroke-width="0.7"/>
<line x1="37.2" y1="417.08" x2="38.5" y2="417.08" stroke="#333" stroke-width="0.7"/>
<line x1="37.2" y1="423.22" x2="38.5" y2="423.22" stroke="#333" stroke-width="0.7"/>
<line x1="37.2" y1="429.36" x2="38.5" y2="429.36" stroke="#333" stroke-width="0.7"/>
<line x1="37.2" y1="439" x2="38.5" y2="439" stroke="#333" stroke-width="0.7"/>
<line x1="37.2" y1="442.5" x2="38.5" y2="442.5" stroke="#333" stroke-width="0.7"/>
<line x1="37.2" y1="446" x2="38.5" y2="446" stroke="#333" stroke-width="0.7"/>
<line x1="37.2" y1="449.5" x2="38.5" y2="449.5" stroke="#333" stroke-width="0.7"/>
<line x1="37.2" y1="456.84" x2="38.5" y2="456.84" stroke="#333" stroke-width="0.7"/>
<line x1="37.2" y1="460.68" x2="38.5" y2="460.68" stroke="#333" stroke-width="0.7"/>
<line x1="37.2" y1="464.52" x2="38.5" y2="464.52" stroke="#333" stroke-width="0.7"/>
<line x1="37.2" y1="468.36" x2="38.5" y2="468.36" stroke="#333" stroke-width="0.7"/>
<line x1="44" y1="478.6" x2="44" y2="481" stroke="#111" stroke-width="0.9"/>
<text x="37.5" y="490" font-size="6.8" text-anchor="start" fill="#1a1a1a" textLength="10.2" lengthAdjust="spacingAndGlyphs" stroke="#1a1a1a" stroke-width="0.1" >−10</text>
<text x="47.9" y="487.3" font-size="4.3" text-anchor="start" fill="#1a1a1a" stroke="#1a1a1a" stroke-width="0.05" >3</text>
<line x1="63" y1="478.6" x2="63" y2="481" stroke="#111" stroke-width="0.9"/>
<text x="61.15" y="490" font-size="6.8" text-anchor="start" fill="#1a1a1a" textLength="3.3" lengthAdjust="spacingAndGlyphs" stroke="#1a1a1a" stroke-width="0.1" >0</text>
<line x1="81.5" y1="478.6" x2="81.5" y2="481" stroke="#111" stroke-width="0.9"/>
<text x="76.8" y="490" font-size="6.8" text-anchor="start" fill="#1a1a1a" textLength="6.6" lengthAdjust="spacingAndGlyphs" stroke="#1a1a1a" stroke-width="0.1" >10</text>
<text x="83.6" y="487.3" font-size="4.3" text-anchor="start" fill="#1a1a1a" stroke="#1a1a1a" stroke-width="0.05" >3</text>
<line x1="112.3" y1="478.6" x2="112.3" y2="481" stroke="#111" stroke-width="0.9"/>
<text x="107.6" y="490" font-size="6.8" text-anchor="start" fill="#1a1a1a" textLength="6.6" lengthAdjust="spacingAndGlyphs" stroke="#1a1a1a" stroke-width="0.1" >10</text>
<text x="114.4" y="487.3" font-size="4.3" text-anchor="start" fill="#1a1a1a" stroke="#1a1a1a" stroke-width="0.05" >4</text>
<line x1="139.4" y1="478.6" x2="139.4" y2="481" stroke="#111" stroke-width="0.9"/>
<text x="134.7" y="490" font-size="6.8" text-anchor="start" fill="#1a1a1a" textLength="6.6" lengthAdjust="spacingAndGlyphs" stroke="#1a1a1a" stroke-width="0.1" >10</text>
<text x="141.5" y="487.3" font-size="4.3" text-anchor="start" fill="#1a1a1a" stroke="#1a1a1a" stroke-width="0.05" >5</text>
<line x1="47.8" y1="478.6" x2="47.8" y2="479.9" stroke="#333" stroke-width="0.7"/>
<line x1="51.6" y1="478.6" x2="51.6" y2="479.9" stroke="#333" stroke-width="0.7"/>
<line x1="55.4" y1="478.6" x2="55.4" y2="479.9" stroke="#333" stroke-width="0.7"/>
<line x1="59.2" y1="478.6" x2="59.2" y2="479.9" stroke="#333" stroke-width="0.7"/>
<line x1="66.7" y1="478.6" x2="66.7" y2="479.9" stroke="#333" stroke-width="0.7"/>
<line x1="70.4" y1="478.6" x2="70.4" y2="479.9" stroke="#333" stroke-width="0.7"/>
<line x1="74.1" y1="478.6" x2="74.1" y2="479.9" stroke="#333" stroke-width="0.7"/>
<line x1="77.8" y1="478.6" x2="77.8" y2="479.9" stroke="#333" stroke-width="0.7"/>
<line x1="87.66" y1="478.6" x2="87.66" y2="479.9" stroke="#333" stroke-width="0.7"/>
<line x1="93.82" y1="478.6" x2="93.82" y2="479.9" stroke="#333" stroke-width="0.7"/>
<line x1="99.98" y1="478.6" x2="99.98" y2="479.9" stroke="#333" stroke-width="0.7"/>
<line x1="106.14" y1="478.6" x2="106.14" y2="479.9" stroke="#333" stroke-width="0.7"/>
<line x1="117.72" y1="478.6" x2="117.72" y2="479.9" stroke="#333" stroke-width="0.7"/>
<line x1="123.14" y1="478.6" x2="123.14" y2="479.9" stroke="#333" stroke-width="0.7"/>
<line x1="128.56" y1="478.6" x2="128.56" y2="479.9" stroke="#333" stroke-width="0.7"/>
<line x1="133.98" y1="478.6" x2="133.98" y2="479.9" stroke="#333" stroke-width="0.7"/>
<text x="94" y="502.5" font-size="10" text-anchor="middle" fill="#1a1a1a" textLength="14.2" lengthAdjust="spacingAndGlyphs" stroke="#1a1a1a" stroke-width="0.15" >CD7</text>
<text x="14.7" y="423.45" font-size="10" text-anchor="middle" fill="#1a1a1a" textLength="17" lengthAdjust="spacingAndGlyphs" transform="rotate(-90 14.7 423.45)" stroke="#1a1a1a" stroke-width="0.15" >CCR9</text>
<text x="94" y="364.1" font-size="10" text-anchor="middle" fill="#111" textLength="33.7" lengthAdjust="spacingAndGlyphs" stroke="#111" stroke-width="0.12" >952/cell</text>
<rect x="37.8" y="560.3" width="112" height="110.9" fill="none" stroke="#222" stroke-width="1"/>
<line x1="35.4" y1="570.5" x2="37.8" y2="570.5" stroke="#111" stroke-width="0.9"/>
<text x="24.3" y="572.9" font-size="6.8" text-anchor="start" fill="#1a1a1a" textLength="6.6" lengthAdjust="spacingAndGlyphs" stroke="#1a1a1a" stroke-width="0.1" >10</text>
<text x="31.1" y="570.2" font-size="4.3" text-anchor="start" fill="#1a1a1a" stroke="#1a1a1a" stroke-width="0.05" >5</text>
<line x1="35.4" y1="597.3" x2="37.8" y2="597.3" stroke="#111" stroke-width="0.9"/>
<text x="24.3" y="599.7" font-size="6.8" text-anchor="start" fill="#1a1a1a" textLength="6.6" lengthAdjust="spacingAndGlyphs" stroke="#1a1a1a" stroke-width="0.1" >10</text>
<text x="31.1" y="597" font-size="4.3" text-anchor="start" fill="#1a1a1a" stroke="#1a1a1a" stroke-width="0.05" >4</text>
<line x1="35.4" y1="627.5" x2="37.8" y2="627.5" stroke="#111" stroke-width="0.9"/>
<text x="24.3" y="629.9" font-size="6.8" text-anchor="start" fill="#1a1a1a" textLength="6.6" lengthAdjust="spacingAndGlyphs" stroke="#1a1a1a" stroke-width="0.1" >10</text>
<text x="31.1" y="627.2" font-size="4.3" text-anchor="start" fill="#1a1a1a" stroke="#1a1a1a" stroke-width="0.05" >3</text>
<line x1="35.4" y1="645.6" x2="37.8" y2="645.6" stroke="#111" stroke-width="0.9"/>
<text x="27.6" y="648" font-size="6.8" text-anchor="start" fill="#1a1a1a" textLength="3.3" lengthAdjust="spacingAndGlyphs" stroke="#1a1a1a" stroke-width="0.1" >0</text>
<line x1="35.4" y1="664.4" x2="37.8" y2="664.4" stroke="#111" stroke-width="0.9"/>
<text x="20.7" y="666.8" font-size="6.8" text-anchor="start" fill="#1a1a1a" textLength="10.2" lengthAdjust="spacingAndGlyphs" stroke="#1a1a1a" stroke-width="0.1" >−10</text>
<text x="31.1" y="664.1" font-size="4.3" text-anchor="start" fill="#1a1a1a" stroke="#1a1a1a" stroke-width="0.05" >3</text>
<line x1="36.5" y1="575.86" x2="37.8" y2="575.86" stroke="#333" stroke-width="0.7"/>
<line x1="36.5" y1="581.22" x2="37.8" y2="581.22" stroke="#333" stroke-width="0.7"/>
<line x1="36.5" y1="586.58" x2="37.8" y2="586.58" stroke="#333" stroke-width="0.7"/>
<line x1="36.5" y1="591.94" x2="37.8" y2="591.94" stroke="#333" stroke-width="0.7"/>
<line x1="36.5" y1="603.34" x2="37.8" y2="603.34" stroke="#333" stroke-width="0.7"/>
<line x1="36.5" y1="609.38" x2="37.8" y2="609.38" stroke="#333" stroke-width="0.7"/>
<line x1="36.5" y1="615.42" x2="37.8" y2="615.42" stroke="#333" stroke-width="0.7"/>
<line x1="36.5" y1="621.46" x2="37.8" y2="621.46" stroke="#333" stroke-width="0.7"/>
<line x1="36.5" y1="631.12" x2="37.8" y2="631.12" stroke="#333" stroke-width="0.7"/>
<line x1="36.5" y1="634.74" x2="37.8" y2="634.74" stroke="#333" stroke-width="0.7"/>
<line x1="36.5" y1="638.36" x2="37.8" y2="638.36" stroke="#333" stroke-width="0.7"/>
<line x1="36.5" y1="641.98" x2="37.8" y2="641.98" stroke="#333" stroke-width="0.7"/>
<line x1="36.5" y1="649.36" x2="37.8" y2="649.36" stroke="#333" stroke-width="0.7"/>
<line x1="36.5" y1="653.12" x2="37.8" y2="653.12" stroke="#333" stroke-width="0.7"/>
<line x1="36.5" y1="656.88" x2="37.8" y2="656.88" stroke="#333" stroke-width="0.7"/>
<line x1="36.5" y1="660.64" x2="37.8" y2="660.64" stroke="#333" stroke-width="0.7"/>
<line x1="46.2" y1="671.2" x2="46.2" y2="673.6" stroke="#111" stroke-width="0.9"/>
<text x="39.7" y="682.6" font-size="6.8" text-anchor="start" fill="#1a1a1a" textLength="10.2" lengthAdjust="spacingAndGlyphs" stroke="#1a1a1a" stroke-width="0.1" >−10</text>
<text x="50.1" y="679.9" font-size="4.3" text-anchor="start" fill="#1a1a1a" stroke="#1a1a1a" stroke-width="0.05" >3</text>
<line x1="64.6" y1="671.2" x2="64.6" y2="673.6" stroke="#111" stroke-width="0.9"/>
<text x="62.75" y="682.6" font-size="6.8" text-anchor="start" fill="#1a1a1a" textLength="3.3" lengthAdjust="spacingAndGlyphs" stroke="#1a1a1a" stroke-width="0.1" >0</text>
<line x1="83" y1="671.2" x2="83" y2="673.6" stroke="#111" stroke-width="0.9"/>
<text x="78.3" y="682.6" font-size="6.8" text-anchor="start" fill="#1a1a1a" textLength="6.6" lengthAdjust="spacingAndGlyphs" stroke="#1a1a1a" stroke-width="0.1" >10</text>
<text x="85.1" y="679.9" font-size="4.3" text-anchor="start" fill="#1a1a1a" stroke="#1a1a1a" stroke-width="0.05" >3</text>
<line x1="113.8" y1="671.2" x2="113.8" y2="673.6" stroke="#111" stroke-width="0.9"/>
<text x="109.1" y="682.6" font-size="6.8" text-anchor="start" fill="#1a1a1a" textLength="6.6" lengthAdjust="spacingAndGlyphs" stroke="#1a1a1a" stroke-width="0.1" >10</text>
<text x="115.9" y="679.9" font-size="4.3" text-anchor="start" fill="#1a1a1a" stroke="#1a1a1a" stroke-width="0.05" >4</text>
<line x1="140" y1="671.2" x2="140" y2="673.6" stroke="#111" stroke-width="0.9"/>
<text x="135.3" y="682.6" font-size="6.8" text-anchor="start" fill="#1a1a1a" textLength="6.6" lengthAdjust="spacingAndGlyphs" stroke="#1a1a1a" stroke-width="0.1" >10</text>
<text x="142.1" y="679.9" font-size="4.3" text-anchor="start" fill="#1a1a1a" stroke="#1a1a1a" stroke-width="0.05" >5</text>
<line x1="49.88" y1="671.2" x2="49.88" y2="672.5" stroke="#333" stroke-width="0.7"/>
<line x1="53.56" y1="671.2" x2="53.56" y2="672.5" stroke="#333" stroke-width="0.7"/>
<line x1="57.24" y1="671.2" x2="57.24" y2="672.5" stroke="#333" stroke-width="0.7"/>
<line x1="60.92" y1="671.2" x2="60.92" y2="672.5" stroke="#333" stroke-width="0.7"/>
<line x1="68.28" y1="671.2" x2="68.28" y2="672.5" stroke="#333" stroke-width="0.7"/>
<line x1="71.96" y1="671.2" x2="71.96" y2="672.5" stroke="#333" stroke-width="0.7"/>
<line x1="75.64" y1="671.2" x2="75.64" y2="672.5" stroke="#333" stroke-width="0.7"/>
<line x1="79.32" y1="671.2" x2="79.32" y2="672.5" stroke="#333" stroke-width="0.7"/>
<line x1="89.16" y1="671.2" x2="89.16" y2="672.5" stroke="#333" stroke-width="0.7"/>
<line x1="95.32" y1="671.2" x2="95.32" y2="672.5" stroke="#333" stroke-width="0.7"/>
<line x1="101.48" y1="671.2" x2="101.48" y2="672.5" stroke="#333" stroke-width="0.7"/>
<line x1="107.64" y1="671.2" x2="107.64" y2="672.5" stroke="#333" stroke-width="0.7"/>
<line x1="119.04" y1="671.2" x2="119.04" y2="672.5" stroke="#333" stroke-width="0.7"/>
<line x1="124.28" y1="671.2" x2="124.28" y2="672.5" stroke="#333" stroke-width="0.7"/>
<line x1="129.52" y1="671.2" x2="129.52" y2="672.5" stroke="#333" stroke-width="0.7"/>
<line x1="134.76" y1="671.2" x2="134.76" y2="672.5" stroke="#333" stroke-width="0.7"/>
<text x="93.8" y="695.1" font-size="10" text-anchor="middle" fill="#1a1a1a" textLength="14.2" lengthAdjust="spacingAndGlyphs" stroke="#1a1a1a" stroke-width="0.15" >CD7</text>
<text x="14.7" y="615.75" font-size="10" text-anchor="middle" fill="#1a1a1a" textLength="17" lengthAdjust="spacingAndGlyphs" transform="rotate(-90 14.7 615.75)" stroke="#1a1a1a" stroke-width="0.15" >CCR9</text>
<text x="93.8" y="556.6" font-size="10" text-anchor="middle" fill="#111" textLength="32.7" lengthAdjust="spacingAndGlyphs" stroke="#111" stroke-width="0.12" >545/cell</text>
<rect x="35.4" y="106.4" width="2.6" height="4.4" fill="#111" opacity="0.85"/>
<rect x="59.8" y="134.6" width="5.8" height="1.8" fill="#111" opacity="0.85"/>
<rect x="35.4" y="451" width="2.6" height="4.2" fill="#111" opacity="0.85"/>
<rect x="60" y="478.8" width="5.8" height="1.8" fill="#111" opacity="0.85"/>
<rect x="36" y="643.8" width="2.4" height="3.6" fill="#111" opacity="0.85"/>
<rect x="61.8" y="671.4" width="5.6" height="1.8" fill="#111" opacity="0.85"/>
<rect x="60" y="303.4" width="6" height="1.6" fill="#222" opacity="0.6"/>
<rect x="182" y="303.4" width="6" height="1.6" fill="#222" opacity="0.6"/>
<rect x="304" y="303.4" width="6" height="1.6" fill="#222" opacity="0.6"/>
<rect x="426" y="303.4" width="6" height="1.6" fill="#222" opacity="0.6"/>
<rect x="37.5" y="194.4" width="109.6" height="108.8" fill="none" stroke="#222" stroke-width="1"/>
<line x1="35.1" y1="197.6" x2="37.5" y2="197.6" stroke="#111" stroke-width="0.9"/>
<text x="24" y="200" font-size="6.8" text-anchor="start" fill="#1a1a1a" textLength="6.6" lengthAdjust="spacingAndGlyphs" stroke="#1a1a1a" stroke-width="0.1" >10</text>
<text x="30.8" y="197.3" font-size="4.3" text-anchor="start" fill="#1a1a1a" stroke="#1a1a1a" stroke-width="0.05" >7</text>
<line x1="35.1" y1="212.4" x2="37.5" y2="212.4" stroke="#111" stroke-width="0.9"/>
<text x="24" y="214.8" font-size="6.8" text-anchor="start" fill="#1a1a1a" textLength="6.6" lengthAdjust="spacingAndGlyphs" stroke="#1a1a1a" stroke-width="0.1" >10</text>
<text x="30.8" y="212.1" font-size="4.3" text-anchor="start" fill="#1a1a1a" stroke="#1a1a1a" stroke-width="0.05" >6</text>
<line x1="35.1" y1="228.4" x2="37.5" y2="228.4" stroke="#111" stroke-width="0.9"/>
<text x="24" y="230.8" font-size="6.8" text-anchor="start" fill="#1a1a1a" textLength="6.6" lengthAdjust="spacingAndGlyphs" stroke="#1a1a1a" stroke-width="0.1" >10</text>
<text x="30.8" y="228.1" font-size="4.3" text-anchor="start" fill="#1a1a1a" stroke="#1a1a1a" stroke-width="0.05" >5</text>
<line x1="35.1" y1="247.3" x2="37.5" y2="247.3" stroke="#111" stroke-width="0.9"/>
<text x="24" y="249.7" font-size="6.8" text-anchor="start" fill="#1a1a1a" textLength="6.6" lengthAdjust="spacingAndGlyphs" stroke="#1a1a1a" stroke-width="0.1" >10</text>
<text x="30.8" y="247" font-size="4.3" text-anchor="start" fill="#1a1a1a" stroke="#1a1a1a" stroke-width="0.05" >4</text>
<line x1="35.1" y1="265.4" x2="37.5" y2="265.4" stroke="#111" stroke-width="0.9"/>
<text x="27.3" y="267.8" font-size="6.8" text-anchor="start" fill="#1a1a1a" textLength="3.3" lengthAdjust="spacingAndGlyphs" stroke="#1a1a1a" stroke-width="0.1" >0</text>
<line x1="35.1" y1="283.6" x2="37.5" y2="283.6" stroke="#111" stroke-width="0.9"/>
<text x="20.4" y="286" font-size="6.8" text-anchor="start" fill="#1a1a1a" textLength="10.2" lengthAdjust="spacingAndGlyphs" stroke="#1a1a1a" stroke-width="0.1" >−10</text>
<text x="30.8" y="283.3" font-size="4.3" text-anchor="start" fill="#1a1a1a" stroke="#1a1a1a" stroke-width="0.05" >4</text>
<line x1="35.1" y1="301.8" x2="37.5" y2="301.8" stroke="#111" stroke-width="0.9"/>
<text x="20.4" y="304.2" font-size="6.8" text-anchor="start" fill="#1a1a1a" textLength="10.2" lengthAdjust="spacingAndGlyphs" stroke="#1a1a1a" stroke-width="0.1" >−10</text>
<text x="30.8" y="301.5" font-size="4.3" text-anchor="start" fill="#1a1a1a" stroke="#1a1a1a" stroke-width="0.05" >5</text>
<line x1="36.2" y1="200.56" x2="37.5" y2="200.56" stroke="#333" stroke-width="0.7"/>
<line x1="36.2" y1="203.52" x2="37.5" y2="203.52" stroke="#333" stroke-width="0.7"/>
<line x1="36.2" y1="206.48" x2="37.5" y2="206.48" stroke="#333" stroke-width="0.7"/>
<line x1="36.2" y1="209.44" x2="37.5" y2="209.44" stroke="#333" stroke-width="0.7"/>
<line x1="36.2" y1="215.6" x2="37.5" y2="215.6" stroke="#333" stroke-width="0.7"/>
<line x1="36.2" y1="218.8" x2="37.5" y2="218.8" stroke="#333" stroke-width="0.7"/>
<line x1="36.2" y1="222" x2="37.5" y2="222" stroke="#333" stroke-width="0.7"/>
<line x1="36.2" y1="225.2" x2="37.5" y2="225.2" stroke="#333" stroke-width="0.7"/>
<line x1="36.2" y1="232.18" x2="37.5" y2="232.18" stroke="#333" stroke-width="0.7"/>
<line x1="36.2" y1="235.96" x2="37.5" y2="235.96" stroke="#333" stroke-width="0.7"/>
<line x1="36.2" y1="239.74" x2="37.5" y2="239.74" stroke="#333" stroke-width="0.7"/>
<line x1="36.2" y1="243.52" x2="37.5" y2="243.52" stroke="#333" stroke-width="0.7"/>
<line x1="36.2" y1="250.92" x2="37.5" y2="250.92" stroke="#333" stroke-width="0.7"/>
<line x1="36.2" y1="254.54" x2="37.5" y2="254.54" stroke="#333" stroke-width="0.7"/>
<line x1="36.2" y1="258.16" x2="37.5" y2="258.16" stroke="#333" stroke-width="0.7"/>
<line x1="36.2" y1="261.78" x2="37.5" y2="261.78" stroke="#333" stroke-width="0.7"/>
<line x1="36.2" y1="269.04" x2="37.5" y2="269.04" stroke="#333" stroke-width="0.7"/>
<line x1="36.2" y1="272.68" x2="37.5" y2="272.68" stroke="#333" stroke-width="0.7"/>
<line x1="36.2" y1="276.32" x2="37.5" y2="276.32" stroke="#333" stroke-width="0.7"/>
<line x1="36.2" y1="279.96" x2="37.5" y2="279.96" stroke="#333" stroke-width="0.7"/>
<line x1="36.2" y1="287.24" x2="37.5" y2="287.24" stroke="#333" stroke-width="0.7"/>
<line x1="36.2" y1="290.88" x2="37.5" y2="290.88" stroke="#333" stroke-width="0.7"/>
<line x1="36.2" y1="294.52" x2="37.5" y2="294.52" stroke="#333" stroke-width="0.7"/>
<line x1="36.2" y1="298.16" x2="37.5" y2="298.16" stroke="#333" stroke-width="0.7"/>
<line x1="42.3" y1="303.2" x2="42.3" y2="305.6" stroke="#111" stroke-width="0.9"/>
<text x="35.8" y="314.8" font-size="6.8" text-anchor="start" fill="#1a1a1a" textLength="10.2" lengthAdjust="spacingAndGlyphs" stroke="#1a1a1a" stroke-width="0.1" >−10</text>
<text x="46.2" y="312.1" font-size="4.3" text-anchor="start" fill="#1a1a1a" stroke="#1a1a1a" stroke-width="0.05" >4</text>
<line x1="63.9" y1="303.2" x2="63.9" y2="305.6" stroke="#111" stroke-width="0.9"/>
<text x="62.05" y="314.8" font-size="6.8" text-anchor="start" fill="#1a1a1a" textLength="3.3" lengthAdjust="spacingAndGlyphs" stroke="#1a1a1a" stroke-width="0.1" >0</text>
<line x1="84.9" y1="303.2" x2="84.9" y2="305.6" stroke="#111" stroke-width="0.9"/>
<text x="80.2" y="314.8" font-size="6.8" text-anchor="start" fill="#1a1a1a" textLength="6.6" lengthAdjust="spacingAndGlyphs" stroke="#1a1a1a" stroke-width="0.1" >10</text>
<text x="87" y="312.1" font-size="4.3" text-anchor="start" fill="#1a1a1a" stroke="#1a1a1a" stroke-width="0.05" >4</text>
<line x1="106.2" y1="303.2" x2="106.2" y2="305.6" stroke="#111" stroke-width="0.9"/>
<text x="101.5" y="314.8" font-size="6.8" text-anchor="start" fill="#1a1a1a" textLength="6.6" lengthAdjust="spacingAndGlyphs" stroke="#1a1a1a" stroke-width="0.1" >10</text>
<text x="108.3" y="312.1" font-size="4.3" text-anchor="start" fill="#1a1a1a" stroke="#1a1a1a" stroke-width="0.05" >5</text>
<line x1="124.6" y1="303.2" x2="124.6" y2="305.6" stroke="#111" stroke-width="0.9"/>
<text x="119.9" y="314.8" font-size="6.8" text-anchor="start" fill="#1a1a1a" textLength="6.6" lengthAdjust="spacingAndGlyphs" stroke="#1a1a1a" stroke-width="0.1" >10</text>
<text x="126.7" y="312.1" font-size="4.3" text-anchor="start" fill="#1a1a1a" stroke="#1a1a1a" stroke-width="0.05" >6</text>
<line x1="142.6" y1="303.2" x2="142.6" y2="305.6" stroke="#111" stroke-width="0.9"/>
<text x="137.9" y="314.8" font-size="6.8" text-anchor="start" fill="#1a1a1a" textLength="6.6" lengthAdjust="spacingAndGlyphs" stroke="#1a1a1a" stroke-width="0.1" >10</text>
<text x="144.7" y="312.1" font-size="4.3" text-anchor="start" fill="#1a1a1a" stroke="#1a1a1a" stroke-width="0.05" >7</text>
<line x1="46.62" y1="303.2" x2="46.62" y2="304.5" stroke="#333" stroke-width="0.7"/>
<line x1="50.94" y1="303.2" x2="50.94" y2="304.5" stroke="#333" stroke-width="0.7"/>
<line x1="55.26" y1="303.2" x2="55.26" y2="304.5" stroke="#333" stroke-width="0.7"/>
<line x1="59.58" y1="303.2" x2="59.58" y2="304.5" stroke="#333" stroke-width="0.7"/>
<line x1="68.1" y1="303.2" x2="68.1" y2="304.5" stroke="#333" stroke-width="0.7"/>
<line x1="72.3" y1="303.2" x2="72.3" y2="304.5" stroke="#333" stroke-width="0.7"/>
<line x1="76.5" y1="303.2" x2="76.5" y2="304.5" stroke="#333" stroke-width="0.7"/>
<line x1="80.7" y1="303.2" x2="80.7" y2="304.5" stroke="#333" stroke-width="0.7"/>
<line x1="89.16" y1="303.2" x2="89.16" y2="304.5" stroke="#333" stroke-width="0.7"/>
<line x1="93.42" y1="303.2" x2="93.42" y2="304.5" stroke="#333" stroke-width="0.7"/>
<line x1="97.68" y1="303.2" x2="97.68" y2="304.5" stroke="#333" stroke-width="0.7"/>
<line x1="101.94" y1="303.2" x2="101.94" y2="304.5" stroke="#333" stroke-width="0.7"/>
<line x1="109.88" y1="303.2" x2="109.88" y2="304.5" stroke="#333" stroke-width="0.7"/>
<line x1="113.56" y1="303.2" x2="113.56" y2="304.5" stroke="#333" stroke-width="0.7"/>
<line x1="117.24" y1="303.2" x2="117.24" y2="304.5" stroke="#333" stroke-width="0.7"/>
<line x1="120.92" y1="303.2" x2="120.92" y2="304.5" stroke="#333" stroke-width="0.7"/>
<line x1="128.2" y1="303.2" x2="128.2" y2="304.5" stroke="#333" stroke-width="0.7"/>
<line x1="131.8" y1="303.2" x2="131.8" y2="304.5" stroke="#333" stroke-width="0.7"/>
<line x1="135.4" y1="303.2" x2="135.4" y2="304.5" stroke="#333" stroke-width="0.7"/>
<line x1="139" y1="303.2" x2="139" y2="304.5" stroke="#333" stroke-width="0.7"/>
<text x="92.3" y="327.5" font-size="10" text-anchor="middle" fill="#1a1a1a" textLength="12.1" lengthAdjust="spacingAndGlyphs" stroke="#1a1a1a" stroke-width="0.15" >CTV</text>
<text x="14.3" y="248.8" font-size="10" text-anchor="middle" fill="#1a1a1a" textLength="15" lengthAdjust="spacingAndGlyphs" transform="rotate(-90 14.3 248.8)" stroke="#1a1a1a" stroke-width="0.15" >CD8</text>
<text x="92.3" y="189.5" font-size="10.2" text-anchor="middle" fill="#111" textLength="42.6" lengthAdjust="spacingAndGlyphs" stroke="#111" stroke-width="0.12" >Untreated</text>
<ellipse cx="118.2" cy="268.1" rx="15.7" ry="31.3" fill="none" stroke="#2a2a2a" stroke-width="0.85"/>
<rect x="107.9" y="259.2" width="19.3" height="17.2" fill="#fff" fill-opacity="0.82"/>
<text x="117.1" y="266.8" font-size="7.5" text-anchor="middle" fill="#151515" textLength="18.6" lengthAdjust="spacingAndGlyphs" stroke="#151515" stroke-width="0.12" >Blasts</text>
<text x="117.1" y="275.5" font-size="7.5" text-anchor="middle" fill="#151515" textLength="14" lengthAdjust="spacingAndGlyphs" stroke="#151515" stroke-width="0.12" >89.9</text>
<rect x="159.5" y="194.4" width="109.6" height="108.8" fill="none" stroke="#222" stroke-width="1"/>
<line x1="157.1" y1="197.6" x2="159.5" y2="197.6" stroke="#111" stroke-width="0.9"/>
<line x1="157.1" y1="212.4" x2="159.5" y2="212.4" stroke="#111" stroke-width="0.9"/>
<line x1="157.1" y1="228.4" x2="159.5" y2="228.4" stroke="#111" stroke-width="0.9"/>
<line x1="157.1" y1="247.3" x2="159.5" y2="247.3" stroke="#111" stroke-width="0.9"/>
<line x1="157.1" y1="265.4" x2="159.5" y2="265.4" stroke="#111" stroke-width="0.9"/>
<line x1="157.1" y1="283.6" x2="159.5" y2="283.6" stroke="#111" stroke-width="0.9"/>
<line x1="157.1" y1="301.8" x2="159.5" y2="301.8" stroke="#111" stroke-width="0.9"/>
<line x1="158.2" y1="200.56" x2="159.5" y2="200.56" stroke="#333" stroke-width="0.7"/>
<line x1="158.2" y1="203.52" x2="159.5" y2="203.52" stroke="#333" stroke-width="0.7"/>
<line x1="158.2" y1="206.48" x2="159.5" y2="206.48" stroke="#333" stroke-width="0.7"/>
<line x1="158.2" y1="209.44" x2="159.5" y2="209.44" stroke="#333" stroke-width="0.7"/>
<line x1="158.2" y1="215.6" x2="159.5" y2="215.6" stroke="#333" stroke-width="0.7"/>
<line x1="158.2" y1="218.8" x2="159.5" y2="218.8" stroke="#333" stroke-width="0.7"/>
<line x1="158.2" y1="222" x2="159.5" y2="222" stroke="#333" stroke-width="0.7"/>
<line x1="158.2" y1="225.2" x2="159.5" y2="225.2" stroke="#333" stroke-width="0.7"/>
<line x1="158.2" y1="232.18" x2="159.5" y2="232.18" stroke="#333" stroke-width="0.7"/>
<line x1="158.2" y1="235.96" x2="159.5" y2="235.96" stroke="#333" stroke-width="0.7"/>
<line x1="158.2" y1="239.74" x2="159.5" y2="239.74" stroke="#333" stroke-width="0.7"/>
<line x1="158.2" y1="243.52" x2="159.5" y2="243.52" stroke="#333" stroke-width="0.7"/>
<line x1="158.2" y1="250.92" x2="159.5" y2="250.92" stroke="#333" stroke-width="0.7"/>
<line x1="158.2" y1="254.54" x2="159.5" y2="254.54" stroke="#333" stroke-width="0.7"/>
<line x1="158.2" y1="258.16" x2="159.5" y2="258.16" stroke="#333" stroke-width="0.7"/>
<line x1="158.2" y1="261.78" x2="159.5" y2="261.78" stroke="#333" stroke-width="0.7"/>
<line x1="158.2" y1="269.04" x2="159.5" y2="269.04" stroke="#333" stroke-width="0.7"/>
<line x1="158.2" y1="272.68" x2="159.5" y2="272.68" stroke="#333" stroke-width="0.7"/>
<line x1="158.2" y1="276.32" x2="159.5" y2="276.32" stroke="#333" stroke-width="0.7"/>
<line x1="158.2" y1="279.96" x2="159.5" y2="279.96" stroke="#333" stroke-width="0.7"/>
<line x1="158.2" y1="287.24" x2="159.5" y2="287.24" stroke="#333" stroke-width="0.7"/>
<line x1="158.2" y1="290.88" x2="159.5" y2="290.88" stroke="#333" stroke-width="0.7"/>
<line x1="158.2" y1="294.52" x2="159.5" y2="294.52" stroke="#333" stroke-width="0.7"/>
<line x1="158.2" y1="298.16" x2="159.5" y2="298.16" stroke="#333" stroke-width="0.7"/>
<line x1="164.3" y1="303.2" x2="164.3" y2="305.6" stroke="#111" stroke-width="0.9"/>
<text x="157.8" y="314.8" font-size="6.8" text-anchor="start" fill="#1a1a1a" textLength="10.2" lengthAdjust="spacingAndGlyphs" stroke="#1a1a1a" stroke-width="0.1" >−10</text>
<text x="168.2" y="312.1" font-size="4.3" text-anchor="start" fill="#1a1a1a" stroke="#1a1a1a" stroke-width="0.05" >4</text>
<line x1="185.9" y1="303.2" x2="185.9" y2="305.6" stroke="#111" stroke-width="0.9"/>
<text x="184.05" y="314.8" font-size="6.8" text-anchor="start" fill="#1a1a1a" textLength="3.3" lengthAdjust="spacingAndGlyphs" stroke="#1a1a1a" stroke-width="0.1" >0</text>
<line x1="206.9" y1="303.2" x2="206.9" y2="305.6" stroke="#111" stroke-width="0.9"/>
<text x="202.2" y="314.8" font-size="6.8" text-anchor="start" fill="#1a1a1a" textLength="6.6" lengthAdjust="spacingAndGlyphs" stroke="#1a1a1a" stroke-width="0.1" >10</text>
<text x="209" y="312.1" font-size="4.3" text-anchor="start" fill="#1a1a1a" stroke="#1a1a1a" stroke-width="0.05" >4</text>
<line x1="228.2" y1="303.2" x2="228.2" y2="305.6" stroke="#111" stroke-width="0.9"/>
<text x="223.5" y="314.8" font-size="6.8" text-anchor="start" fill="#1a1a1a" textLength="6.6" lengthAdjust="spacingAndGlyphs" stroke="#1a1a1a" stroke-width="0.1" >10</text>
<text x="230.3" y="312.1" font-size="4.3" text-anchor="start" fill="#1a1a1a" stroke="#1a1a1a" stroke-width="0.05" >5</text>
<line x1="246.6" y1="303.2" x2="246.6" y2="305.6" stroke="#111" stroke-width="0.9"/>
<text x="241.9" y="314.8" font-size="6.8" text-anchor="start" fill="#1a1a1a" textLength="6.6" lengthAdjust="spacingAndGlyphs" stroke="#1a1a1a" stroke-width="0.1" >10</text>
<text x="248.7" y="312.1" font-size="4.3" text-anchor="start" fill="#1a1a1a" stroke="#1a1a1a" stroke-width="0.05" >6</text>
<line x1="264.6" y1="303.2" x2="264.6" y2="305.6" stroke="#111" stroke-width="0.9"/>
<text x="259.9" y="314.8" font-size="6.8" text-anchor="start" fill="#1a1a1a" textLength="6.6" lengthAdjust="spacingAndGlyphs" stroke="#1a1a1a" stroke-width="0.1" >10</text>
<text x="266.7" y="312.1" font-size="4.3" text-anchor="start" fill="#1a1a1a" stroke="#1a1a1a" stroke-width="0.05" >7</text>
<line x1="168.62" y1="303.2" x2="168.62" y2="304.5" stroke="#333" stroke-width="0.7"/>
<line x1="172.94" y1="303.2" x2="172.94" y2="304.5" stroke="#333" stroke-width="0.7"/>
<line x1="177.26" y1="303.2" x2="177.26" y2="304.5" stroke="#333" stroke-width="0.7"/>
<line x1="181.58" y1="303.2" x2="181.58" y2="304.5" stroke="#333" stroke-width="0.7"/>
<line x1="190.1" y1="303.2" x2="190.1" y2="304.5" stroke="#333" stroke-width="0.7"/>
<line x1="194.3" y1="303.2" x2="194.3" y2="304.5" stroke="#333" stroke-width="0.7"/>
<line x1="198.5" y1="303.2" x2="198.5" y2="304.5" stroke="#333" stroke-width="0.7"/>
<line x1="202.7" y1="303.2" x2="202.7" y2="304.5" stroke="#333" stroke-width="0.7"/>
<line x1="211.16" y1="303.2" x2="211.16" y2="304.5" stroke="#333" stroke-width="0.7"/>
<line x1="215.42" y1="303.2" x2="215.42" y2="304.5" stroke="#333" stroke-width="0.7"/>
<line x1="219.68" y1="303.2" x2="219.68" y2="304.5" stroke="#333" stroke-width="0.7"/>
<line x1="223.94" y1="303.2" x2="223.94" y2="304.5" stroke="#333" stroke-width="0.7"/>
<line x1="231.88" y1="303.2" x2="231.88" y2="304.5" stroke="#333" stroke-width="0.7"/>
<line x1="235.56" y1="303.2" x2="235.56" y2="304.5" stroke="#333" stroke-width="0.7"/>
<line x1="239.24" y1="303.2" x2="239.24" y2="304.5" stroke="#333" stroke-width="0.7"/>
<line x1="242.92" y1="303.2" x2="242.92" y2="304.5" stroke="#333" stroke-width="0.7"/>
<line x1="250.2" y1="303.2" x2="250.2" y2="304.5" stroke="#333" stroke-width="0.7"/>
<line x1="253.8" y1="303.2" x2="253.8" y2="304.5" stroke="#333" stroke-width="0.7"/>
<line x1="257.4" y1="303.2" x2="257.4" y2="304.5" stroke="#333" stroke-width="0.7"/>
<line x1="261" y1="303.2" x2="261" y2="304.5" stroke="#333" stroke-width="0.7"/>
<text x="214.3" y="327.5" font-size="10" text-anchor="middle" fill="#1a1a1a" textLength="12.1" lengthAdjust="spacingAndGlyphs" stroke="#1a1a1a" stroke-width="0.15" >CTV</text>
<text x="214.3" y="189.5" font-size="10.2" text-anchor="middle" fill="#111" textLength="12.1" lengthAdjust="spacingAndGlyphs" stroke="#111" stroke-width="0.12" >NT</text>
<ellipse cx="240.2" cy="268.1" rx="15.7" ry="31.3" fill="none" stroke="#2a2a2a" stroke-width="0.85"/>
<rect x="229.9" y="259.2" width="19.3" height="17.2" fill="#fff" fill-opacity="0.82"/>
<text x="239.1" y="266.8" font-size="7.5" text-anchor="middle" fill="#151515" textLength="18.6" lengthAdjust="spacingAndGlyphs" stroke="#151515" stroke-width="0.12" >Blasts</text>
<text x="239.1" y="275.5" font-size="7.5" text-anchor="middle" fill="#151515" textLength="14" lengthAdjust="spacingAndGlyphs" stroke="#151515" stroke-width="0.12" >70.0</text>
<rect x="281.5" y="194.4" width="109.6" height="108.8" fill="none" stroke="#222" stroke-width="1"/>
<line x1="279.1" y1="197.6" x2="281.5" y2="197.6" stroke="#111" stroke-width="0.9"/>
<line x1="279.1" y1="212.4" x2="281.5" y2="212.4" stroke="#111" stroke-width="0.9"/>
<line x1="279.1" y1="228.4" x2="281.5" y2="228.4" stroke="#111" stroke-width="0.9"/>
<line x1="279.1" y1="247.3" x2="281.5" y2="247.3" stroke="#111" stroke-width="0.9"/>
<line x1="279.1" y1="265.4" x2="281.5" y2="265.4" stroke="#111" stroke-width="0.9"/>
<line x1="279.1" y1="283.6" x2="281.5" y2="283.6" stroke="#111" stroke-width="0.9"/>
<line x1="279.1" y1="301.8" x2="281.5" y2="301.8" stroke="#111" stroke-width="0.9"/>
<line x1="280.2" y1="200.56" x2="281.5" y2="200.56" stroke="#333" stroke-width="0.7"/>
<line x1="280.2" y1="203.52" x2="281.5" y2="203.52" stroke="#333" stroke-width="0.7"/>
<line x1="280.2" y1="206.48" x2="281.5" y2="206.48" stroke="#333" stroke-width="0.7"/>
<line x1="280.2" y1="209.44" x2="281.5" y2="209.44" stroke="#333" stroke-width="0.7"/>
<line x1="280.2" y1="215.6" x2="281.5" y2="215.6" stroke="#333" stroke-width="0.7"/>
<line x1="280.2" y1="218.8" x2="281.5" y2="218.8" stroke="#333" stroke-width="0.7"/>
<line x1="280.2" y1="222" x2="281.5" y2="222" stroke="#333" stroke-width="0.7"/>
<line x1="280.2" y1="225.2" x2="281.5" y2="225.2" stroke="#333" stroke-width="0.7"/>
<line x1="280.2" y1="232.18" x2="281.5" y2="232.18" stroke="#333" stroke-width="0.7"/>
<line x1="280.2" y1="235.96" x2="281.5" y2="235.96" stroke="#333" stroke-width="0.7"/>
<line x1="280.2" y1="239.74" x2="281.5" y2="239.74" stroke="#333" stroke-width="0.7"/>
<line x1="280.2" y1="243.52" x2="281.5" y2="243.52" stroke="#333" stroke-width="0.7"/>
<line x1="280.2" y1="250.92" x2="281.5" y2="250.92" stroke="#333" stroke-width="0.7"/>
<line x1="280.2" y1="254.54" x2="281.5" y2="254.54" stroke="#333" stroke-width="0.7"/>
<line x1="280.2" y1="258.16" x2="281.5" y2="258.16" stroke="#333" stroke-width="0.7"/>
<line x1="280.2" y1="261.78" x2="281.5" y2="261.78" stroke="#333" stroke-width="0.7"/>
<line x1="280.2" y1="269.04" x2="281.5" y2="269.04" stroke="#333" stroke-width="0.7"/>
<line x1="280.2" y1="272.68" x2="281.5" y2="272.68" stroke="#333" stroke-width="0.7"/>
<line x1="280.2" y1="276.32" x2="281.5" y2="276.32" stroke="#333" stroke-width="0.7"/>
<line x1="280.2" y1="279.96" x2="281.5" y2="279.96" stroke="#333" stroke-width="0.7"/>
<line x1="280.2" y1="287.24" x2="281.5" y2="287.24" stroke="#333" stroke-width="0.7"/>
<line x1="280.2" y1="290.88" x2="281.5" y2="290.88" stroke="#333" stroke-width="0.7"/>
<line x1="280.2" y1="294.52" x2="281.5" y2="294.52" stroke="#333" stroke-width="0.7"/>
<line x1="280.2" y1="298.16" x2="281.5" y2="298.16" stroke="#333" stroke-width="0.7"/>
<line x1="286.3" y1="303.2" x2="286.3" y2="305.6" stroke="#111" stroke-width="0.9"/>
<text x="279.8" y="314.8" font-size="6.8" text-anchor="start" fill="#1a1a1a" textLength="10.2" lengthAdjust="spacingAndGlyphs" stroke="#1a1a1a" stroke-width="0.1" >−10</text>
<text x="290.2" y="312.1" font-size="4.3" text-anchor="start" fill="#1a1a1a" stroke="#1a1a1a" stroke-width="0.05" >4</text>
<line x1="307.9" y1="303.2" x2="307.9" y2="305.6" stroke="#111" stroke-width="0.9"/>
<text x="306.05" y="314.8" font-size="6.8" text-anchor="start" fill="#1a1a1a" textLength="3.3" lengthAdjust="spacingAndGlyphs" stroke="#1a1a1a" stroke-width="0.1" >0</text>
<line x1="328.9" y1="303.2" x2="328.9" y2="305.6" stroke="#111" stroke-width="0.9"/>
<text x="324.2" y="314.8" font-size="6.8" text-anchor="start" fill="#1a1a1a" textLength="6.6" lengthAdjust="spacingAndGlyphs" stroke="#1a1a1a" stroke-width="0.1" >10</text>
<text x="331" y="312.1" font-size="4.3" text-anchor="start" fill="#1a1a1a" stroke="#1a1a1a" stroke-width="0.05" >4</text>
<line x1="350.2" y1="303.2" x2="350.2" y2="305.6" stroke="#111" stroke-width="0.9"/>
<text x="345.5" y="314.8" font-size="6.8" text-anchor="start" fill="#1a1a1a" textLength="6.6" lengthAdjust="spacingAndGlyphs" stroke="#1a1a1a" stroke-width="0.1" >10</text>
<text x="352.3" y="312.1" font-size="4.3" text-anchor="start" fill="#1a1a1a" stroke="#1a1a1a" stroke-width="0.05" >5</text>
<line x1="368.6" y1="303.2" x2="368.6" y2="305.6" stroke="#111" stroke-width="0.9"/>
<text x="363.9" y="314.8" font-size="6.8" text-anchor="start" fill="#1a1a1a" textLength="6.6" lengthAdjust="spacingAndGlyphs" stroke="#1a1a1a" stroke-width="0.1" >10</text>
<text x="370.7" y="312.1" font-size="4.3" text-anchor="start" fill="#1a1a1a" stroke="#1a1a1a" stroke-width="0.05" >6</text>
<line x1="386.6" y1="303.2" x2="386.6" y2="305.6" stroke="#111" stroke-width="0.9"/>
<text x="381.9" y="314.8" font-size="6.8" text-anchor="start" fill="#1a1a1a" textLength="6.6" lengthAdjust="spacingAndGlyphs" stroke="#1a1a1a" stroke-width="0.1" >10</text>
<text x="388.7" y="312.1" font-size="4.3" text-anchor="start" fill="#1a1a1a" stroke="#1a1a1a" stroke-width="0.05" >7</text>
<line x1="290.62" y1="303.2" x2="290.62" y2="304.5" stroke="#333" stroke-width="0.7"/>
<line x1="294.94" y1="303.2" x2="294.94" y2="304.5" stroke="#333" stroke-width="0.7"/>
<line x1="299.26" y1="303.2" x2="299.26" y2="304.5" stroke="#333" stroke-width="0.7"/>
<line x1="303.58" y1="303.2" x2="303.58" y2="304.5" stroke="#333" stroke-width="0.7"/>
<line x1="312.1" y1="303.2" x2="312.1" y2="304.5" stroke="#333" stroke-width="0.7"/>
<line x1="316.3" y1="303.2" x2="316.3" y2="304.5" stroke="#333" stroke-width="0.7"/>
<line x1="320.5" y1="303.2" x2="320.5" y2="304.5" stroke="#333" stroke-width="0.7"/>
<line x1="324.7" y1="303.2" x2="324.7" y2="304.5" stroke="#333" stroke-width="0.7"/>
<line x1="333.16" y1="303.2" x2="333.16" y2="304.5" stroke="#333" stroke-width="0.7"/>
<line x1="337.42" y1="303.2" x2="337.42" y2="304.5" stroke="#333" stroke-width="0.7"/>
<line x1="341.68" y1="303.2" x2="341.68" y2="304.5" stroke="#333" stroke-width="0.7"/>
<line x1="345.94" y1="303.2" x2="345.94" y2="304.5" stroke="#333" stroke-width="0.7"/>
<line x1="353.88" y1="303.2" x2="353.88" y2="304.5" stroke="#333" stroke-width="0.7"/>
<line x1="357.56" y1="303.2" x2="357.56" y2="304.5" stroke="#333" stroke-width="0.7"/>
<line x1="361.24" y1="303.2" x2="361.24" y2="304.5" stroke="#333" stroke-width="0.7"/>
<line x1="364.92" y1="303.2" x2="364.92" y2="304.5" stroke="#333" stroke-width="0.7"/>
<line x1="372.2" y1="303.2" x2="372.2" y2="304.5" stroke="#333" stroke-width="0.7"/>
<line x1="375.8" y1="303.2" x2="375.8" y2="304.5" stroke="#333" stroke-width="0.7"/>
<line x1="379.4" y1="303.2" x2="379.4" y2="304.5" stroke="#333" stroke-width="0.7"/>
<line x1="383" y1="303.2" x2="383" y2="304.5" stroke="#333" stroke-width="0.7"/>
<text x="336.3" y="327.5" font-size="10" text-anchor="middle" fill="#1a1a1a" textLength="12.1" lengthAdjust="spacingAndGlyphs" stroke="#1a1a1a" stroke-width="0.15" >CTV</text>
<text x="336.3" y="189.5" font-size="10.2" text-anchor="middle" fill="#111" textLength="30" lengthAdjust="spacingAndGlyphs" stroke="#111" stroke-width="0.12" >CAR19</text>
<ellipse cx="362.2" cy="268.1" rx="15.7" ry="31.3" fill="none" stroke="#2a2a2a" stroke-width="0.85"/>
<rect x="351.9" y="259.2" width="19.3" height="17.2" fill="#fff" fill-opacity="0.82"/>
<text x="361.1" y="266.8" font-size="7.5" text-anchor="middle" fill="#151515" textLength="18.6" lengthAdjust="spacingAndGlyphs" stroke="#151515" stroke-width="0.12" >Blasts</text>
<text x="361.1" y="275.5" font-size="7.5" text-anchor="middle" fill="#151515" textLength="14" lengthAdjust="spacingAndGlyphs" stroke="#151515" stroke-width="0.12" >22.5</text>
<rect x="403.5" y="194.4" width="109.6" height="108.8" fill="none" stroke="#222" stroke-width="1"/>
<line x1="401.1" y1="197.6" x2="403.5" y2="197.6" stroke="#111" stroke-width="0.9"/>
<line x1="401.1" y1="212.4" x2="403.5" y2="212.4" stroke="#111" stroke-width="0.9"/>
<line x1="401.1" y1="228.4" x2="403.5" y2="228.4" stroke="#111" stroke-width="0.9"/>
<line x1="401.1" y1="247.3" x2="403.5" y2="247.3" stroke="#111" stroke-width="0.9"/>
<line x1="401.1" y1="265.4" x2="403.5" y2="265.4" stroke="#111" stroke-width="0.9"/>
<line x1="401.1" y1="283.6" x2="403.5" y2="283.6" stroke="#111" stroke-width="0.9"/>
<line x1="401.1" y1="301.8" x2="403.5" y2="301.8" stroke="#111" stroke-width="0.9"/>
<line x1="402.2" y1="200.56" x2="403.5" y2="200.56" stroke="#333" stroke-width="0.7"/>
<line x1="402.2" y1="203.52" x2="403.5" y2="203.52" stroke="#333" stroke-width="0.7"/>
<line x1="402.2" y1="206.48" x2="403.5" y2="206.48" stroke="#333" stroke-width="0.7"/>
<line x1="402.2" y1="209.44" x2="403.5" y2="209.44" stroke="#333" stroke-width="0.7"/>
<line x1="402.2" y1="215.6" x2="403.5" y2="215.6" stroke="#333" stroke-width="0.7"/>
<line x1="402.2" y1="218.8" x2="403.5" y2="218.8" stroke="#333" stroke-width="0.7"/>
<line x1="402.2" y1="222" x2="403.5" y2="222" stroke="#333" stroke-width="0.7"/>
<line x1="402.2" y1="225.2" x2="403.5" y2="225.2" stroke="#333" stroke-width="0.7"/>
<line x1="402.2" y1="232.18" x2="403.5" y2="232.18" stroke="#333" stroke-width="0.7"/>
<line x1="402.2" y1="235.96" x2="403.5" y2="235.96" stroke="#333" stroke-width="0.7"/>
<line x1="402.2" y1="239.74" x2="403.5" y2="239.74" stroke="#333" stroke-width="0.7"/>
<line x1="402.2" y1="243.52" x2="403.5" y2="243.52" stroke="#333" stroke-width="0.7"/>
<line x1="402.2" y1="250.92" x2="403.5" y2="250.92" stroke="#333" stroke-width="0.7"/>
<line x1="402.2" y1="254.54" x2="403.5" y2="254.54" stroke="#333" stroke-width="0.7"/>
<line x1="402.2" y1="258.16" x2="403.5" y2="258.16" stroke="#333" stroke-width="0.7"/>
<line x1="402.2" y1="261.78" x2="403.5" y2="261.78" stroke="#333" stroke-width="0.7"/>
<line x1="402.2" y1="269.04" x2="403.5" y2="269.04" stroke="#333" stroke-width="0.7"/>
<line x1="402.2" y1="272.68" x2="403.5" y2="272.68" stroke="#333" stroke-width="0.7"/>
<line x1="402.2" y1="276.32" x2="403.5" y2="276.32" stroke="#333" stroke-width="0.7"/>
<line x1="402.2" y1="279.96" x2="403.5" y2="279.96" stroke="#333" stroke-width="0.7"/>
<line x1="402.2" y1="287.24" x2="403.5" y2="287.24" stroke="#333" stroke-width="0.7"/>
<line x1="402.2" y1="290.88" x2="403.5" y2="290.88" stroke="#333" stroke-width="0.7"/>
<line x1="402.2" y1="294.52" x2="403.5" y2="294.52" stroke="#333" stroke-width="0.7"/>
<line x1="402.2" y1="298.16" x2="403.5" y2="298.16" stroke="#333" stroke-width="0.7"/>
<line x1="408.3" y1="303.2" x2="408.3" y2="305.6" stroke="#111" stroke-width="0.9"/>
<text x="401.8" y="314.8" font-size="6.8" text-anchor="start" fill="#1a1a1a" textLength="10.2" lengthAdjust="spacingAndGlyphs" stroke="#1a1a1a" stroke-width="0.1" >−10</text>
<text x="412.2" y="312.1" font-size="4.3" text-anchor="start" fill="#1a1a1a" stroke="#1a1a1a" stroke-width="0.05" >4</text>
<line x1="429.9" y1="303.2" x2="429.9" y2="305.6" stroke="#111" stroke-width="0.9"/>
<text x="428.05" y="314.8" font-size="6.8" text-anchor="start" fill="#1a1a1a" textLength="3.3" lengthAdjust="spacingAndGlyphs" stroke="#1a1a1a" stroke-width="0.1" >0</text>
<line x1="450.9" y1="303.2" x2="450.9" y2="305.6" stroke="#111" stroke-width="0.9"/>
<text x="446.2" y="314.8" font-size="6.8" text-anchor="start" fill="#1a1a1a" textLength="6.6" lengthAdjust="spacingAndGlyphs" stroke="#1a1a1a" stroke-width="0.1" >10</text>
<text x="453" y="312.1" font-size="4.3" text-anchor="start" fill="#1a1a1a" stroke="#1a1a1a" stroke-width="0.05" >4</text>
<line x1="472.2" y1="303.2" x2="472.2" y2="305.6" stroke="#111" stroke-width="0.9"/>
<text x="467.5" y="314.8" font-size="6.8" text-anchor="start" fill="#1a1a1a" textLength="6.6" lengthAdjust="spacingAndGlyphs" stroke="#1a1a1a" stroke-width="0.1" >10</text>
<text x="474.3" y="312.1" font-size="4.3" text-anchor="start" fill="#1a1a1a" stroke="#1a1a1a" stroke-width="0.05" >5</text>
<line x1="490.6" y1="303.2" x2="490.6" y2="305.6" stroke="#111" stroke-width="0.9"/>
<text x="485.9" y="314.8" font-size="6.8" text-anchor="start" fill="#1a1a1a" textLength="6.6" lengthAdjust="spacingAndGlyphs" stroke="#1a1a1a" stroke-width="0.1" >10</text>
<text x="492.7" y="312.1" font-size="4.3" text-anchor="start" fill="#1a1a1a" stroke="#1a1a1a" stroke-width="0.05" >6</text>
<line x1="508.6" y1="303.2" x2="508.6" y2="305.6" stroke="#111" stroke-width="0.9"/>
<text x="503.9" y="314.8" font-size="6.8" text-anchor="start" fill="#1a1a1a" textLength="6.6" lengthAdjust="spacingAndGlyphs" stroke="#1a1a1a" stroke-width="0.1" >10</text>
<text x="510.7" y="312.1" font-size="4.3" text-anchor="start" fill="#1a1a1a" stroke="#1a1a1a" stroke-width="0.05" >7</text>
<line x1="412.62" y1="303.2" x2="412.62" y2="304.5" stroke="#333" stroke-width="0.7"/>
<line x1="416.94" y1="303.2" x2="416.94" y2="304.5" stroke="#333" stroke-width="0.7"/>
<line x1="421.26" y1="303.2" x2="421.26" y2="304.5" stroke="#333" stroke-width="0.7"/>
<line x1="425.58" y1="303.2" x2="425.58" y2="304.5" stroke="#333" stroke-width="0.7"/>
<line x1="434.1" y1="303.2" x2="434.1" y2="304.5" stroke="#333" stroke-width="0.7"/>
<line x1="438.3" y1="303.2" x2="438.3" y2="304.5" stroke="#333" stroke-width="0.7"/>
<line x1="442.5" y1="303.2" x2="442.5" y2="304.5" stroke="#333" stroke-width="0.7"/>
<line x1="446.7" y1="303.2" x2="446.7" y2="304.5" stroke="#333" stroke-width="0.7"/>
<line x1="455.16" y1="303.2" x2="455.16" y2="304.5" stroke="#333" stroke-width="0.7"/>
<line x1="459.42" y1="303.2" x2="459.42" y2="304.5" stroke="#333" stroke-width="0.7"/>
<line x1="463.68" y1="303.2" x2="463.68" y2="304.5" stroke="#333" stroke-width="0.7"/>
<line x1="467.94" y1="303.2" x2="467.94" y2="304.5" stroke="#333" stroke-width="0.7"/>
<line x1="475.88" y1="303.2" x2="475.88" y2="304.5" stroke="#333" stroke-width="0.7"/>
<line x1="479.56" y1="303.2" x2="479.56" y2="304.5" stroke="#333" stroke-width="0.7"/>
<line x1="483.24" y1="303.2" x2="483.24" y2="304.5" stroke="#333" stroke-width="0.7"/>
<line x1="486.92" y1="303.2" x2="486.92" y2="304.5" stroke="#333" stroke-width="0.7"/>
<line x1="494.2" y1="303.2" x2="494.2" y2="304.5" stroke="#333" stroke-width="0.7"/>
<line x1="497.8" y1="303.2" x2="497.8" y2="304.5" stroke="#333" stroke-width="0.7"/>
<line x1="501.4" y1="303.2" x2="501.4" y2="304.5" stroke="#333" stroke-width="0.7"/>
<line x1="505" y1="303.2" x2="505" y2="304.5" stroke="#333" stroke-width="0.7"/>
<text x="458.3" y="327.5" font-size="10" text-anchor="middle" fill="#1a1a1a" textLength="12.1" lengthAdjust="spacingAndGlyphs" stroke="#1a1a1a" stroke-width="0.15" >CTV</text>
<text x="458.3" y="189.5" font-size="10.2" text-anchor="middle" fill="#111" textLength="42.5" lengthAdjust="spacingAndGlyphs" stroke="#111" stroke-width="0.12" >CARCCR9</text>
<ellipse cx="484.2" cy="268.1" rx="15.7" ry="31.3" fill="none" stroke="#2a2a2a" stroke-width="0.85"/>
<text x="483.1" y="266.8" font-size="7.5" text-anchor="middle" fill="#151515" textLength="18.6" lengthAdjust="spacingAndGlyphs" stroke="#151515" stroke-width="0.12" >Blasts</text>
<text x="483.1" y="275.5" font-size="7.5" text-anchor="middle" fill="#151515" textLength="14" lengthAdjust="spacingAndGlyphs" stroke="#151515" stroke-width="0.12" >0.54</text>
<line x1="242.3" y1="52.5" x2="242.3" y2="134.9" stroke="#222" stroke-width="1.1"/>
<line x1="241.8" y1="134.4" x2="329.6" y2="134.4" stroke="#222" stroke-width="1.1"/>
<line x1="239.5" y1="56.9" x2="242.3" y2="56.9" stroke="#222" stroke-width="1"/>
<text x="236.9" y="59.6" font-size="7.6" text-anchor="end" fill="#1a1a1a" stroke="#1a1a1a" stroke-width="0.1" >10000</text>
<line x1="239.5" y1="72.5" x2="242.3" y2="72.5" stroke="#222" stroke-width="1"/>
<text x="236.9" y="75.2" font-size="7.6" text-anchor="end" fill="#1a1a1a" stroke="#1a1a1a" stroke-width="0.1" >8000</text>
<line x1="239.5" y1="88" x2="242.3" y2="88" stroke="#222" stroke-width="1"/>
<text x="236.9" y="90.7" font-size="7.6" text-anchor="end" fill="#1a1a1a" stroke="#1a1a1a" stroke-width="0.1" >6000</text>
<line x1="239.5" y1="103.4" x2="242.3" y2="103.4" stroke="#222" stroke-width="1"/>
<text x="236.9" y="106.1" font-size="7.6" text-anchor="end" fill="#1a1a1a" stroke="#1a1a1a" stroke-width="0.1" >4000</text>
<line x1="239.5" y1="119" x2="242.3" y2="119" stroke="#222" stroke-width="1"/>
<text x="236.9" y="121.7" font-size="7.6" text-anchor="end" fill="#1a1a1a" stroke="#1a1a1a" stroke-width="0.1" >2000</text>
<line x1="239.5" y1="134.4" x2="242.3" y2="134.4" stroke="#222" stroke-width="1"/>
<text x="236.9" y="137.1" font-size="7.6" text-anchor="end" fill="#1a1a1a" stroke="#1a1a1a" stroke-width="0.1" >0</text>
<line x1="256.2" y1="134.4" x2="256.2" y2="137" stroke="#222" stroke-width="1"/>
<line x1="276.3" y1="134.4" x2="276.3" y2="137" stroke="#222" stroke-width="1"/>
<line x1="296.3" y1="134.4" x2="296.3" y2="137" stroke="#222" stroke-width="1"/>
<line x1="316.6" y1="134.4" x2="316.6" y2="137" stroke="#222" stroke-width="1"/>
<text x="259.2" y="144.4" font-size="8.6" text-anchor="end" fill="#1a1a1a" textLength="35.5" lengthAdjust="spacingAndGlyphs" transform="rotate(-45 259.2 144.4)" stroke="#1a1a1a" stroke-width="0.12" >Untreated</text>
<text x="279.3" y="144.4" font-size="8.6" text-anchor="end" fill="#1a1a1a" textLength="12" lengthAdjust="spacingAndGlyphs" transform="rotate(-45 279.3 144.4)" stroke="#1a1a1a" stroke-width="0.12" >NT</text>
<text x="299.3" y="144.4" font-size="8.6" text-anchor="end" fill="#1a1a1a" textLength="25.2" lengthAdjust="spacingAndGlyphs" transform="rotate(-45 299.3 144.4)" stroke="#1a1a1a" stroke-width="0.12" >CAR19</text>
<text x="319.6" y="144.4" font-size="8.6" text-anchor="end" fill="#1a1a1a" textLength="36.8" lengthAdjust="spacingAndGlyphs" transform="rotate(-45 319.6 144.4)" stroke="#1a1a1a" stroke-width="0.12" >CARCCR9</text>
<text x="212" y="93.8" font-size="8.4" text-anchor="middle" fill="#1a1a1a" textLength="70" lengthAdjust="spacingAndGlyphs" transform="rotate(-90 212 93.8)" stroke="#1a1a1a" stroke-width="0.12" >Residual tumour cells</text>
<path d="M255.7 64.9V60.9H274.8V64.9" fill="none" stroke="#333" stroke-width="1"/>
<text x="265.25" y="57.7" font-size="8.7" text-anchor="middle" fill="#222" stroke="#222" stroke-width="0.12" >ns</text>
<path d="M277.2 64.9V60.9H294.9V64.9" fill="none" stroke="#333" stroke-width="1"/>
<text x="286.05" y="59.95" font-size="8.2" text-anchor="middle" fill="#1a1a1a" textLength="15" lengthAdjust="spacingAndGlyphs" stroke="#1a1a1a" stroke-width="0.22" >****</text>
<path d="M297 64.9V60.9H316.8V64.9" fill="none" stroke="#333" stroke-width="1"/>
<text x="306.9" y="59.95" font-size="8.2" text-anchor="middle" fill="#1a1a1a" textLength="7.5" lengthAdjust="spacingAndGlyphs" stroke="#1a1a1a" stroke-width="0.22" >**</text>
<path d="M255.7 50.1V46.1H296.4V50.1" fill="none" stroke="#333" stroke-width="1"/>
<text x="276.05" y="45.15" font-size="8.2" text-anchor="middle" fill="#1a1a1a" textLength="15" lengthAdjust="spacingAndGlyphs" stroke="#1a1a1a" stroke-width="0.22" >****</text>
<path d="M276.2 36.9V32.9H316.6V36.9" fill="none" stroke="#333" stroke-width="1"/>
<text x="296.4" y="31.95" font-size="8.2" text-anchor="middle" fill="#1a1a1a" textLength="15" lengthAdjust="spacingAndGlyphs" stroke="#1a1a1a" stroke-width="0.22" >****</text>
<path d="M255.7 23.2V19.2H316.6V23.2" fill="none" stroke="#333" stroke-width="1"/>
<text x="286.15" y="18.25" font-size="8.2" text-anchor="middle" fill="#1a1a1a" textLength="15" lengthAdjust="spacingAndGlyphs" stroke="#1a1a1a" stroke-width="0.22" >****</text>
<line x1="250.4" y1="79" x2="262" y2="79" stroke="#5b1e6f" stroke-width="1.3"/>
<line x1="271.7" y1="77" x2="280.8" y2="77" stroke="#1c4f8f" stroke-width="1.3"/>
<line x1="291.6" y1="112.4" x2="300.9" y2="112.4" stroke="#39b54a" stroke-width="1.3"/>
<line x1="311.8" y1="133.6" x2="321.3" y2="133.6" stroke="#d3133d" stroke-width="1.3"/>
<circle cx="256.1" cy="74.5" r="2.15" fill="#5b1e6f"/>
<circle cx="256.1" cy="79" r="2.15" fill="#5b1e6f"/>
<circle cx="256.1" cy="86.5" r="2.15" fill="#5b1e6f"/>
<circle cx="276.3" cy="69.5" r="2.15" fill="#1c4f8f"/>
<circle cx="271.7" cy="77.5" r="2.15" fill="#1c4f8f"/>
<circle cx="280.8" cy="76.6" r="2.15" fill="#1c4f8f"/>
<circle cx="291.6" cy="112.4" r="2.15" fill="#39b54a"/>
<circle cx="300.9" cy="112.4" r="2.15" fill="#39b54a"/>
<circle cx="296.4" cy="117" r="2.15" fill="#39b54a"/>
<circle cx="311.8" cy="133.6" r="2.15" fill="#d3133d"/>
<circle cx="316.7" cy="133.6" r="2.15" fill="#d3133d"/>
<circle cx="321.3" cy="133.6" r="2.15" fill="#d3133d"/>
<line x1="425.3" y1="64.4" x2="425.3" y2="134.9" stroke="#222" stroke-width="1.1"/>
<line x1="424.8" y1="134.4" x2="512.5" y2="134.4" stroke="#222" stroke-width="1.1"/>
<line x1="422.5" y1="68.6" x2="425.3" y2="68.6" stroke="#222" stroke-width="1"/>
<text x="419.9" y="71.3" font-size="7.6" text-anchor="end" fill="#1a1a1a" stroke="#1a1a1a" stroke-width="0.1" >15000</text>
<line x1="422.5" y1="90.4" x2="425.3" y2="90.4" stroke="#222" stroke-width="1"/>
<text x="419.9" y="93.1" font-size="7.6" text-anchor="end" fill="#1a1a1a" stroke="#1a1a1a" stroke-width="0.1" >10000</text>
<line x1="422.5" y1="112.4" x2="425.3" y2="112.4" stroke="#222" stroke-width="1"/>
<text x="419.9" y="115.1" font-size="7.6" text-anchor="end" fill="#1a1a1a" stroke="#1a1a1a" stroke-width="0.1" >5000</text>
<line x1="422.5" y1="134.4" x2="425.3" y2="134.4" stroke="#222" stroke-width="1"/>
<text x="419.9" y="137.1" font-size="7.6" text-anchor="end" fill="#1a1a1a" stroke="#1a1a1a" stroke-width="0.1" >0</text>
<line x1="438.8" y1="134.4" x2="438.8" y2="137" stroke="#222" stroke-width="1"/>
<line x1="458.9" y1="134.4" x2="458.9" y2="137" stroke="#222" stroke-width="1"/>
<line x1="479.1" y1="134.4" x2="479.1" y2="137" stroke="#222" stroke-width="1"/>
<line x1="499.4" y1="134.4" x2="499.4" y2="137" stroke="#222" stroke-width="1"/>
<text x="441.8" y="144.4" font-size="8.6" text-anchor="end" fill="#1a1a1a" textLength="35.5" lengthAdjust="spacingAndGlyphs" transform="rotate(-45 441.8 144.4)" stroke="#1a1a1a" stroke-width="0.12" >Untreated</text>
<text x="461.9" y="144.4" font-size="8.6" text-anchor="end" fill="#1a1a1a" textLength="12" lengthAdjust="spacingAndGlyphs" transform="rotate(-45 461.9 144.4)" stroke="#1a1a1a" stroke-width="0.12" >NT</text>
<text x="482.1" y="144.4" font-size="8.6" text-anchor="end" fill="#1a1a1a" textLength="25.2" lengthAdjust="spacingAndGlyphs" transform="rotate(-45 482.1 144.4)" stroke="#1a1a1a" stroke-width="0.12" >CAR19</text>
<text x="502.4" y="144.4" font-size="8.6" text-anchor="end" fill="#1a1a1a" textLength="36.8" lengthAdjust="spacingAndGlyphs" transform="rotate(-45 502.4 144.4)" stroke="#1a1a1a" stroke-width="0.12" >CARCCR9</text>
<text x="393.4" y="101.6" font-size="8.4" text-anchor="middle" fill="#1a1a1a" textLength="42.5" lengthAdjust="spacingAndGlyphs" transform="rotate(-90 393.4 101.6)" stroke="#1a1a1a" stroke-width="0.12" >IFNγ (pg/ml)</text>
<path d="M438.3 76.2V72.2H457.4V76.2" fill="none" stroke="#333" stroke-width="1"/>
<text x="447.85" y="69" font-size="8.7" text-anchor="middle" fill="#222" stroke="#222" stroke-width="0.12" >ns</text>
<path d="M459.8 76.2V72.2H477.7V76.2" fill="none" stroke="#333" stroke-width="1"/>
<text x="468.75" y="69" font-size="8.7" text-anchor="middle" fill="#222" stroke="#222" stroke-width="0.12" >ns</text>
<path d="M479.8 76.2V72.2H499.6V76.2" fill="none" stroke="#333" stroke-width="1"/>
<text x="489.7" y="71.25" font-size="8.2" text-anchor="middle" fill="#1a1a1a" textLength="15" lengthAdjust="spacingAndGlyphs" stroke="#1a1a1a" stroke-width="0.22" >****</text>
<path d="M438.3 61.7V57.7H479.6V61.7" fill="none" stroke="#333" stroke-width="1"/>
<text x="458.95" y="54.5" font-size="8.7" text-anchor="middle" fill="#222" stroke="#222" stroke-width="0.12" >ns</text>
<path d="M458.8 47.8V43.8H499.7V47.8" fill="none" stroke="#333" stroke-width="1"/>
<text x="479.25" y="42.85" font-size="8.2" text-anchor="middle" fill="#1a1a1a" textLength="15" lengthAdjust="spacingAndGlyphs" stroke="#1a1a1a" stroke-width="0.22" >****</text>
<path d="M438.3 34V30H499.7V34" fill="none" stroke="#333" stroke-width="1"/>
<text x="469" y="29.05" font-size="8.2" text-anchor="middle" fill="#1a1a1a" textLength="15" lengthAdjust="spacingAndGlyphs" stroke="#1a1a1a" stroke-width="0.22" >****</text>
<line x1="495.3" y1="81.2" x2="503.2" y2="81.2" stroke="#d3133d" stroke-width="1.3"/>
<circle cx="434.9" cy="134.4" r="2.15" fill="#5b1e6f"/>
<circle cx="438.8" cy="134.4" r="2.15" fill="#5b1e6f"/>
<circle cx="442.7" cy="134.4" r="2.15" fill="#5b1e6f"/>
<circle cx="455" cy="134.4" r="2.15" fill="#1c4f8f"/>
<circle cx="458.9" cy="134.4" r="2.15" fill="#1c4f8f"/>
<circle cx="462.8" cy="134.4" r="2.15" fill="#1c4f8f"/>
<circle cx="475.2" cy="134.4" r="2.15" fill="#39b54a"/>
<circle cx="479.1" cy="134.4" r="2.15" fill="#39b54a"/>
<circle cx="483" cy="134.4" r="2.15" fill="#39b54a"/>
<circle cx="495.3" cy="81.2" r="2.15" fill="#d3133d"/>
<circle cx="499.2" cy="81.2" r="2.15" fill="#d3133d"/>
<circle cx="503.2" cy="81.2" r="2.15" fill="#d3133d"/>
<line x1="242.1" y1="389.9" x2="242.1" y2="479.3" stroke="#222" stroke-width="1.1"/>
<line x1="241.6" y1="478.8" x2="327.5" y2="478.8" stroke="#222" stroke-width="1.1"/>
<line x1="239.3" y1="393.7" x2="242.1" y2="393.7" stroke="#222" stroke-width="1"/>
<text x="236.7" y="396.4" font-size="7.6" text-anchor="end" fill="#1a1a1a" stroke="#1a1a1a" stroke-width="0.1" >200</text>
<line x1="239.3" y1="414.8" x2="242.1" y2="414.8" stroke="#222" stroke-width="1"/>
<text x="236.7" y="417.5" font-size="7.6" text-anchor="end" fill="#1a1a1a" stroke="#1a1a1a" stroke-width="0.1" >150</text>
<line x1="239.3" y1="436.3" x2="242.1" y2="436.3" stroke="#222" stroke-width="1"/>
<text x="236.7" y="439" font-size="7.6" text-anchor="end" fill="#1a1a1a" stroke="#1a1a1a" stroke-width="0.1" >100</text>
<line x1="239.3" y1="457.6" x2="242.1" y2="457.6" stroke="#222" stroke-width="1"/>
<text x="236.7" y="460.3" font-size="7.6" text-anchor="end" fill="#1a1a1a" stroke="#1a1a1a" stroke-width="0.1" >50</text>
<line x1="239.3" y1="478.8" x2="242.1" y2="478.8" stroke="#222" stroke-width="1"/>
<text x="236.7" y="481.5" font-size="7.6" text-anchor="end" fill="#1a1a1a" stroke="#1a1a1a" stroke-width="0.1" >0</text>
<line x1="256.2" y1="478.8" x2="256.2" y2="481.4" stroke="#222" stroke-width="1"/>
<line x1="276.3" y1="478.8" x2="276.3" y2="481.4" stroke="#222" stroke-width="1"/>
<line x1="296.3" y1="478.8" x2="296.3" y2="481.4" stroke="#222" stroke-width="1"/>
<line x1="316.7" y1="478.8" x2="316.7" y2="481.4" stroke="#222" stroke-width="1"/>
<text x="259.2" y="488.8" font-size="8.6" text-anchor="end" fill="#1a1a1a" textLength="35.5" lengthAdjust="spacingAndGlyphs" transform="rotate(-45 259.2 488.8)" stroke="#1a1a1a" stroke-width="0.12" >Untreated</text>
<text x="279.3" y="488.8" font-size="8.6" text-anchor="end" fill="#1a1a1a" textLength="12" lengthAdjust="spacingAndGlyphs" transform="rotate(-45 279.3 488.8)" stroke="#1a1a1a" stroke-width="0.12" >NT</text>
<text x="299.3" y="488.8" font-size="8.6" text-anchor="end" fill="#1a1a1a" textLength="25.2" lengthAdjust="spacingAndGlyphs" transform="rotate(-45 299.3 488.8)" stroke="#1a1a1a" stroke-width="0.12" >CAR19</text>
<text x="319.7" y="488.8" font-size="8.6" text-anchor="end" fill="#1a1a1a" textLength="36.8" lengthAdjust="spacingAndGlyphs" transform="rotate(-45 319.7 488.8)" stroke="#1a1a1a" stroke-width="0.12" >CARCCR9</text>
<text x="220.2" y="436.7" font-size="8.4" text-anchor="middle" fill="#1a1a1a" textLength="70.9" lengthAdjust="spacingAndGlyphs" transform="rotate(-90 220.2 436.7)" stroke="#1a1a1a" stroke-width="0.12" >Residual tumour cells</text>
<path d="M255.7 397.7V393.7H274.8V397.7" fill="none" stroke="#333" stroke-width="1"/>
<text x="265.25" y="390.5" font-size="8.7" text-anchor="middle" fill="#222" stroke="#222" stroke-width="0.12" >ns</text>
<path d="M277.2 397.7V393.7H294.9V397.7" fill="none" stroke="#333" stroke-width="1"/>
<text x="286.05" y="390.5" font-size="8.7" text-anchor="middle" fill="#222" stroke="#222" stroke-width="0.12" >ns</text>
<path d="M297 397.7V393.7H316.9V397.7" fill="none" stroke="#333" stroke-width="1"/>
<text x="306.95" y="392.75" font-size="8.2" text-anchor="middle" fill="#1a1a1a" textLength="7.5" lengthAdjust="spacingAndGlyphs" stroke="#1a1a1a" stroke-width="0.22" >**</text>
<path d="M255.7 382V378H296.4V382" fill="none" stroke="#333" stroke-width="1"/>
<text x="276.05" y="374.8" font-size="8.7" text-anchor="middle" fill="#222" stroke="#222" stroke-width="0.12" >ns</text>
<path d="M276.2 366.5V362.5H316.7V366.5" fill="none" stroke="#333" stroke-width="1"/>
<text x="296.45" y="361.55" font-size="8.2" text-anchor="middle" fill="#1a1a1a" textLength="11.25" lengthAdjust="spacingAndGlyphs" stroke="#1a1a1a" stroke-width="0.22" >***</text>
<path d="M255.7 351.7V347.7H316.7V351.7" fill="none" stroke="#333" stroke-width="1"/>
<text x="286.2" y="346.75" font-size="8.2" text-anchor="middle" fill="#1a1a1a" textLength="11.25" lengthAdjust="spacingAndGlyphs" stroke="#1a1a1a" stroke-width="0.22" >***</text>
<line x1="249.5" y1="407.3" x2="262.8" y2="407.3" stroke="#5b1e6f" stroke-width="1.3"/>
<line x1="270.3" y1="408.2" x2="281.2" y2="408.2" stroke="#1c4f8f" stroke-width="1.3"/>
<line x1="291.6" y1="418" x2="301.1" y2="418" stroke="#39b54a" stroke-width="1.3"/>
<line x1="311.8" y1="459.7" x2="321.7" y2="459.7" stroke="#d3133d" stroke-width="1.3"/>
<circle cx="256.1" cy="403.8" r="2.15" fill="#5b1e6f"/>
<circle cx="256.1" cy="407.3" r="2.15" fill="#5b1e6f"/>
<circle cx="256.1" cy="420.5" r="2.15" fill="#5b1e6f"/>
<circle cx="271.2" cy="405.6" r="2.15" fill="#1c4f8f"/>
<circle cx="281.2" cy="408.7" r="2.15" fill="#1c4f8f"/>
<circle cx="276.3" cy="429.5" r="2.15" fill="#1c4f8f"/>
<circle cx="291.6" cy="419.9" r="2.15" fill="#39b54a"/>
<circle cx="296.4" cy="413.4" r="2.15" fill="#39b54a"/>
<circle cx="301.1" cy="417.7" r="2.15" fill="#39b54a"/>
<circle cx="311.8" cy="460.4" r="2.15" fill="#d3133d"/>
<circle cx="316.7" cy="452.3" r="2.15" fill="#d3133d"/>
<circle cx="321.7" cy="459.2" r="2.15" fill="#d3133d"/>
<line x1="425.2" y1="389.9" x2="425.2" y2="479.3" stroke="#222" stroke-width="1.1"/>
<line x1="424.7" y1="478.8" x2="512.5" y2="478.8" stroke="#222" stroke-width="1.1"/>
<line x1="422.4" y1="393.7" x2="425.2" y2="393.7" stroke="#222" stroke-width="1"/>
<text x="419.8" y="396.4" font-size="7.6" text-anchor="end" fill="#1a1a1a" stroke="#1a1a1a" stroke-width="0.1" >8000</text>
<line x1="422.4" y1="415" x2="425.2" y2="415" stroke="#222" stroke-width="1"/>
<text x="419.8" y="417.7" font-size="7.6" text-anchor="end" fill="#1a1a1a" stroke="#1a1a1a" stroke-width="0.1" >6000</text>
<line x1="422.4" y1="436.3" x2="425.2" y2="436.3" stroke="#222" stroke-width="1"/>
<text x="419.8" y="439" font-size="7.6" text-anchor="end" fill="#1a1a1a" stroke="#1a1a1a" stroke-width="0.1" >4000</text>
<line x1="422.4" y1="457.6" x2="425.2" y2="457.6" stroke="#222" stroke-width="1"/>
<text x="419.8" y="460.3" font-size="7.6" text-anchor="end" fill="#1a1a1a" stroke="#1a1a1a" stroke-width="0.1" >2000</text>
<line x1="422.4" y1="478.8" x2="425.2" y2="478.8" stroke="#222" stroke-width="1"/>
<text x="419.8" y="481.5" font-size="7.6" text-anchor="end" fill="#1a1a1a" stroke="#1a1a1a" stroke-width="0.1" >0</text>
<line x1="438.8" y1="478.8" x2="438.8" y2="481.4" stroke="#222" stroke-width="1"/>
<line x1="458.9" y1="478.8" x2="458.9" y2="481.4" stroke="#222" stroke-width="1"/>
<line x1="479.1" y1="478.8" x2="479.1" y2="481.4" stroke="#222" stroke-width="1"/>
<line x1="499.4" y1="478.8" x2="499.4" y2="481.4" stroke="#222" stroke-width="1"/>
<text x="441.8" y="488.8" font-size="8.6" text-anchor="end" fill="#1a1a1a" textLength="35.5" lengthAdjust="spacingAndGlyphs" transform="rotate(-45 441.8 488.8)" stroke="#1a1a1a" stroke-width="0.12" >Untreated</text>
<text x="461.9" y="488.8" font-size="8.6" text-anchor="end" fill="#1a1a1a" textLength="12" lengthAdjust="spacingAndGlyphs" transform="rotate(-45 461.9 488.8)" stroke="#1a1a1a" stroke-width="0.12" >NT</text>
<text x="482.1" y="488.8" font-size="8.6" text-anchor="end" fill="#1a1a1a" textLength="25.2" lengthAdjust="spacingAndGlyphs" transform="rotate(-45 482.1 488.8)" stroke="#1a1a1a" stroke-width="0.12" >CAR19</text>
<text x="502.4" y="488.8" font-size="8.6" text-anchor="end" fill="#1a1a1a" textLength="36.8" lengthAdjust="spacingAndGlyphs" transform="rotate(-45 502.4 488.8)" stroke="#1a1a1a" stroke-width="0.12" >CARCCR9</text>
<text x="395" y="435.5" font-size="8.4" text-anchor="middle" fill="#1a1a1a" textLength="42.5" lengthAdjust="spacingAndGlyphs" transform="rotate(-90 395 435.5)" stroke="#1a1a1a" stroke-width="0.12" >IFNγ (pg/ml)</text>
<path d="M438.3 397.7V393.7H457.4V397.7" fill="none" stroke="#333" stroke-width="1"/>
<text x="447.85" y="390.5" font-size="8.7" text-anchor="middle" fill="#222" stroke="#222" stroke-width="0.12" >ns</text>
<path d="M459.8 397.7V393.7H477.7V397.7" fill="none" stroke="#333" stroke-width="1"/>
<text x="468.75" y="390.5" font-size="8.7" text-anchor="middle" fill="#222" stroke="#222" stroke-width="0.12" >ns</text>
<path d="M479.8 397.7V393.7H499.6V397.7" fill="none" stroke="#333" stroke-width="1"/>
<text x="489.7" y="392.75" font-size="8.2" text-anchor="middle" fill="#1a1a1a" textLength="15" lengthAdjust="spacingAndGlyphs" stroke="#1a1a1a" stroke-width="0.22" >****</text>
<path d="M458.8 380.7V376.7H499.7V380.7" fill="none" stroke="#333" stroke-width="1"/>
<text x="479.25" y="375.75" font-size="8.2" text-anchor="middle" fill="#1a1a1a" textLength="15" lengthAdjust="spacingAndGlyphs" stroke="#1a1a1a" stroke-width="0.22" >****</text>
<path d="M438.3 365.1V361.1H479.6V365.1" fill="none" stroke="#333" stroke-width="1"/>
<text x="458.95" y="357.9" font-size="8.7" text-anchor="middle" fill="#222" stroke="#222" stroke-width="0.12" >ns</text>
<path d="M438.3 351.7V347.7H499.7V351.7" fill="none" stroke="#333" stroke-width="1"/>
<text x="469" y="346.75" font-size="8.2" text-anchor="middle" fill="#1a1a1a" textLength="15" lengthAdjust="spacingAndGlyphs" stroke="#1a1a1a" stroke-width="0.22" >****</text>
<line x1="493" y1="407.2" x2="506" y2="407.2" stroke="#d3133d" stroke-width="1.3"/>
<circle cx="434.9" cy="478.8" r="2.15" fill="#5b1e6f"/>
<circle cx="438.8" cy="478.8" r="2.15" fill="#5b1e6f"/>
<circle cx="442.7" cy="478.8" r="2.15" fill="#5b1e6f"/>
<circle cx="455" cy="478.8" r="2.15" fill="#1c4f8f"/>
<circle cx="458.9" cy="478.8" r="2.15" fill="#1c4f8f"/>
<circle cx="462.8" cy="478.8" r="2.15" fill="#1c4f8f"/>
<circle cx="475.2" cy="478.8" r="2.15" fill="#39b54a"/>
<circle cx="479.1" cy="478.8" r="2.15" fill="#39b54a"/>
<circle cx="483" cy="478.8" r="2.15" fill="#39b54a"/>
<circle cx="499.3" cy="403.7" r="2.15" fill="#d3133d"/>
<circle cx="499.3" cy="407.2" r="2.15" fill="#d3133d"/>
<circle cx="499.3" cy="412.3" r="2.15" fill="#d3133d"/>
<line x1="242.1" y1="579.9" x2="242.1" y2="671.7" stroke="#222" stroke-width="1.1"/>
<line x1="241.6" y1="671.2" x2="329.3" y2="671.2" stroke="#222" stroke-width="1.1"/>
<line x1="239.3" y1="583.7" x2="242.1" y2="583.7" stroke="#222" stroke-width="1"/>
<text x="236.7" y="586.4" font-size="7.6" text-anchor="end" fill="#1a1a1a" stroke="#1a1a1a" stroke-width="0.1" >5000</text>
<line x1="239.3" y1="601.3" x2="242.1" y2="601.3" stroke="#222" stroke-width="1"/>
<text x="236.7" y="604" font-size="7.6" text-anchor="end" fill="#1a1a1a" stroke="#1a1a1a" stroke-width="0.1" >4000</text>
<line x1="239.3" y1="618.8" x2="242.1" y2="618.8" stroke="#222" stroke-width="1"/>
<text x="236.7" y="621.5" font-size="7.6" text-anchor="end" fill="#1a1a1a" stroke="#1a1a1a" stroke-width="0.1" >3000</text>
<line x1="239.3" y1="636.4" x2="242.1" y2="636.4" stroke="#222" stroke-width="1"/>
<text x="236.7" y="639.1" font-size="7.6" text-anchor="end" fill="#1a1a1a" stroke="#1a1a1a" stroke-width="0.1" >2000</text>
<line x1="239.3" y1="653.7" x2="242.1" y2="653.7" stroke="#222" stroke-width="1"/>
<text x="236.7" y="656.4" font-size="7.6" text-anchor="end" fill="#1a1a1a" stroke="#1a1a1a" stroke-width="0.1" >1000</text>
<line x1="239.3" y1="671.2" x2="242.1" y2="671.2" stroke="#222" stroke-width="1"/>
<text x="236.7" y="673.9" font-size="7.6" text-anchor="end" fill="#1a1a1a" stroke="#1a1a1a" stroke-width="0.1" >0</text>
<line x1="256.5" y1="671.2" x2="256.5" y2="673.8" stroke="#222" stroke-width="1"/>
<line x1="276.5" y1="671.2" x2="276.5" y2="673.8" stroke="#222" stroke-width="1"/>
<line x1="296.4" y1="671.2" x2="296.4" y2="673.8" stroke="#222" stroke-width="1"/>
<line x1="316.9" y1="671.2" x2="316.9" y2="673.8" stroke="#222" stroke-width="1"/>
<text x="259.5" y="681.2" font-size="8.6" text-anchor="end" fill="#1a1a1a" textLength="35.5" lengthAdjust="spacingAndGlyphs" transform="rotate(-45 259.5 681.2)" stroke="#1a1a1a" stroke-width="0.12" >Untreated</text>
<text x="279.5" y="681.2" font-size="8.6" text-anchor="end" fill="#1a1a1a" textLength="12" lengthAdjust="spacingAndGlyphs" transform="rotate(-45 279.5 681.2)" stroke="#1a1a1a" stroke-width="0.12" >NT</text>
<text x="299.4" y="681.2" font-size="8.6" text-anchor="end" fill="#1a1a1a" textLength="25.2" lengthAdjust="spacingAndGlyphs" transform="rotate(-45 299.4 681.2)" stroke="#1a1a1a" stroke-width="0.12" >CAR19</text>
<text x="319.9" y="681.2" font-size="8.6" text-anchor="end" fill="#1a1a1a" textLength="36.8" lengthAdjust="spacingAndGlyphs" transform="rotate(-45 319.9 681.2)" stroke="#1a1a1a" stroke-width="0.12" >CARCCR9</text>
<text x="215.3" y="627" font-size="8.4" text-anchor="middle" fill="#1a1a1a" textLength="71.6" lengthAdjust="spacingAndGlyphs" transform="rotate(-90 215.3 627)" stroke="#1a1a1a" stroke-width="0.12" >Residual tumour cells</text>
<path d="M256 592.8V588.8H275V592.8" fill="none" stroke="#333" stroke-width="1"/>
<text x="265.5" y="585.6" font-size="8.7" text-anchor="middle" fill="#222" stroke="#222" stroke-width="0.12" >ns</text>
<path d="M277.4 592.8V588.8H295V592.8" fill="none" stroke="#333" stroke-width="1"/>
<text x="286.2" y="587.85" font-size="8.2" text-anchor="middle" fill="#1a1a1a" textLength="3.75" lengthAdjust="spacingAndGlyphs" stroke="#1a1a1a" stroke-width="0.22" >*</text>
<path d="M297.1 592.8V588.8H317.1V592.8" fill="none" stroke="#333" stroke-width="1"/>
<text x="307.1" y="587.85" font-size="8.2" text-anchor="middle" fill="#1a1a1a" textLength="15" lengthAdjust="spacingAndGlyphs" stroke="#1a1a1a" stroke-width="0.22" >****</text>
<path d="M256 577.1V573.1H296.6V577.1" fill="none" stroke="#333" stroke-width="1"/>
<text x="276.3" y="572.15" font-size="8.2" text-anchor="middle" fill="#1a1a1a" textLength="7.5" lengthAdjust="spacingAndGlyphs" stroke="#1a1a1a" stroke-width="0.22" >**</text>
<path d="M276.4 561.8V557.8H316.9V561.8" fill="none" stroke="#333" stroke-width="1"/>
<text x="296.65" y="556.85" font-size="8.2" text-anchor="middle" fill="#1a1a1a" textLength="15" lengthAdjust="spacingAndGlyphs" stroke="#1a1a1a" stroke-width="0.22" >****</text>
<path d="M256 547.2V543.2H316.9V547.2" fill="none" stroke="#333" stroke-width="1"/>
<text x="286.45" y="542.25" font-size="8.2" text-anchor="middle" fill="#1a1a1a" textLength="15" lengthAdjust="spacingAndGlyphs" stroke="#1a1a1a" stroke-width="0.22" >****</text>
<line x1="249.8" y1="607.1" x2="263" y2="607.1" stroke="#5b1e6f" stroke-width="1.3"/>
<line x1="271.9" y1="610.9" x2="281.3" y2="610.9" stroke="#1c4f8f" stroke-width="1.3"/>
<line x1="291.6" y1="627.1" x2="301.6" y2="627.1" stroke="#39b54a" stroke-width="1.3"/>
<line x1="311.8" y1="670" x2="321.8" y2="670" stroke="#d3133d" stroke-width="1.3"/>
<circle cx="256.5" cy="599" r="2.15" fill="#5b1e6f"/>
<circle cx="256.5" cy="607.1" r="2.15" fill="#5b1e6f"/>
<circle cx="256.5" cy="617.1" r="2.15" fill="#5b1e6f"/>
<circle cx="271.9" cy="609" r="2.15" fill="#1c4f8f"/>
<circle cx="281.3" cy="611.7" r="2.15" fill="#1c4f8f"/>
<circle cx="276.5" cy="616.3" r="2.15" fill="#1c4f8f"/>
<circle cx="291.6" cy="624.4" r="2.15" fill="#39b54a"/>
<circle cx="291.6" cy="628.7" r="2.15" fill="#39b54a"/>
<circle cx="301.6" cy="627.1" r="2.15" fill="#39b54a"/>
<circle cx="311.8" cy="670" r="2.15" fill="#d3133d"/>
<circle cx="316.9" cy="670" r="2.15" fill="#d3133d"/>
<circle cx="321.8" cy="670" r="2.15" fill="#d3133d"/>
<line x1="425.2" y1="580" x2="425.2" y2="671.7" stroke="#222" stroke-width="1.1"/>
<line x1="424.7" y1="671.2" x2="512.7" y2="671.2" stroke="#222" stroke-width="1.1"/>
<line x1="422.4" y1="583.7" x2="425.2" y2="583.7" stroke="#222" stroke-width="1"/>
<text x="419.8" y="586.4" font-size="7.6" text-anchor="end" fill="#1a1a1a" stroke="#1a1a1a" stroke-width="0.1" >10000</text>
<line x1="422.4" y1="601.3" x2="425.2" y2="601.3" stroke="#222" stroke-width="1"/>
<text x="419.8" y="604" font-size="7.6" text-anchor="end" fill="#1a1a1a" stroke="#1a1a1a" stroke-width="0.1" >8000</text>
<line x1="422.4" y1="618.8" x2="425.2" y2="618.8" stroke="#222" stroke-width="1"/>
<text x="419.8" y="621.5" font-size="7.6" text-anchor="end" fill="#1a1a1a" stroke="#1a1a1a" stroke-width="0.1" >6000</text>
<line x1="422.4" y1="636.4" x2="425.2" y2="636.4" stroke="#222" stroke-width="1"/>
<text x="419.8" y="639.1" font-size="7.6" text-anchor="end" fill="#1a1a1a" stroke="#1a1a1a" stroke-width="0.1" >4000</text>
<line x1="422.4" y1="653.7" x2="425.2" y2="653.7" stroke="#222" stroke-width="1"/>
<text x="419.8" y="656.4" font-size="7.6" text-anchor="end" fill="#1a1a1a" stroke="#1a1a1a" stroke-width="0.1" >2000</text>
<line x1="422.4" y1="671.2" x2="425.2" y2="671.2" stroke="#222" stroke-width="1"/>
<text x="419.8" y="673.9" font-size="7.6" text-anchor="end" fill="#1a1a1a" stroke="#1a1a1a" stroke-width="0.1" >0</text>
<line x1="438.8" y1="671.2" x2="438.8" y2="673.8" stroke="#222" stroke-width="1"/>
<line x1="459" y1="671.2" x2="459" y2="673.8" stroke="#222" stroke-width="1"/>
<line x1="479.3" y1="671.2" x2="479.3" y2="673.8" stroke="#222" stroke-width="1"/>
<line x1="499.5" y1="671.2" x2="499.5" y2="673.8" stroke="#222" stroke-width="1"/>
<text x="441.8" y="681.2" font-size="8.6" text-anchor="end" fill="#1a1a1a" textLength="35.5" lengthAdjust="spacingAndGlyphs" transform="rotate(-45 441.8 681.2)" stroke="#1a1a1a" stroke-width="0.12" >Untreated</text>
<text x="462" y="681.2" font-size="8.6" text-anchor="end" fill="#1a1a1a" textLength="12" lengthAdjust="spacingAndGlyphs" transform="rotate(-45 462 681.2)" stroke="#1a1a1a" stroke-width="0.12" >NT</text>
<text x="482.3" y="681.2" font-size="8.6" text-anchor="end" fill="#1a1a1a" textLength="25.2" lengthAdjust="spacingAndGlyphs" transform="rotate(-45 482.3 681.2)" stroke="#1a1a1a" stroke-width="0.12" >CAR19</text>
<text x="502.5" y="681.2" font-size="8.6" text-anchor="end" fill="#1a1a1a" textLength="36.8" lengthAdjust="spacingAndGlyphs" transform="rotate(-45 502.5 681.2)" stroke="#1a1a1a" stroke-width="0.12" >CARCCR9</text>
<text x="394.6" y="624.9" font-size="8.4" text-anchor="middle" fill="#1a1a1a" textLength="42.5" lengthAdjust="spacingAndGlyphs" transform="rotate(-90 394.6 624.9)" stroke="#1a1a1a" stroke-width="0.12" >IFNγ (pg/ml)</text>
<path d="M438.3 583.6V579.6H457.5V583.6" fill="none" stroke="#333" stroke-width="1"/>
<text x="447.9" y="576.4" font-size="8.7" text-anchor="middle" fill="#222" stroke="#222" stroke-width="0.12" >ns</text>
<path d="M459.9 583.6V579.6H477.9V583.6" fill="none" stroke="#333" stroke-width="1"/>
<text x="468.9" y="576.4" font-size="8.7" text-anchor="middle" fill="#222" stroke="#222" stroke-width="0.12" >ns</text>
<path d="M480 583.6V579.6H499.7V583.6" fill="none" stroke="#333" stroke-width="1"/>
<text x="489.85" y="578.65" font-size="8.2" text-anchor="middle" fill="#1a1a1a" textLength="15" lengthAdjust="spacingAndGlyphs" stroke="#1a1a1a" stroke-width="0.22" >****</text>
<path d="M458.8 570.4V566.4H499.7V570.4" fill="none" stroke="#333" stroke-width="1"/>
<text x="479.25" y="565.45" font-size="8.2" text-anchor="middle" fill="#1a1a1a" textLength="15" lengthAdjust="spacingAndGlyphs" stroke="#1a1a1a" stroke-width="0.22" >****</text>
<path d="M438.3 557.7V553.7H479.6V557.7" fill="none" stroke="#333" stroke-width="1"/>
<text x="458.95" y="550.5" font-size="8.7" text-anchor="middle" fill="#222" stroke="#222" stroke-width="0.12" >ns</text>
<path d="M438.3 547.2V543.2H499.7V547.2" fill="none" stroke="#333" stroke-width="1"/>
<text x="469" y="542.25" font-size="8.2" text-anchor="middle" fill="#1a1a1a" textLength="15" lengthAdjust="spacingAndGlyphs" stroke="#1a1a1a" stroke-width="0.22" >****</text>
<line x1="494.6" y1="591.5" x2="504.1" y2="591.5" stroke="#d3133d" stroke-width="1.3"/>
<circle cx="434.9" cy="671.2" r="2.15" fill="#5b1e6f"/>
<circle cx="438.8" cy="671.2" r="2.15" fill="#5b1e6f"/>
<circle cx="442.7" cy="671.2" r="2.15" fill="#5b1e6f"/>
<circle cx="455.1" cy="671.2" r="2.15" fill="#1c4f8f"/>
<circle cx="459" cy="671.2" r="2.15" fill="#1c4f8f"/>
<circle cx="462.9" cy="671.2" r="2.15" fill="#1c4f8f"/>
<circle cx="475.4" cy="671.2" r="2.15" fill="#39b54a"/>
<circle cx="479.3" cy="671.2" r="2.15" fill="#39b54a"/>
<circle cx="483.2" cy="671.2" r="2.15" fill="#39b54a"/>
<circle cx="494.6" cy="588" r="2.15" fill="#d3133d"/>
<circle cx="494.6" cy="594.2" r="2.15" fill="#d3133d"/>
<circle cx="504.1" cy="591.5" r="2.15" fill="#d3133d"/>
<rect x="0.5" y="0.5" width="519" height="711" fill="none" stroke="#000" stroke-width="1.2"/>
</svg>
</body></html>
